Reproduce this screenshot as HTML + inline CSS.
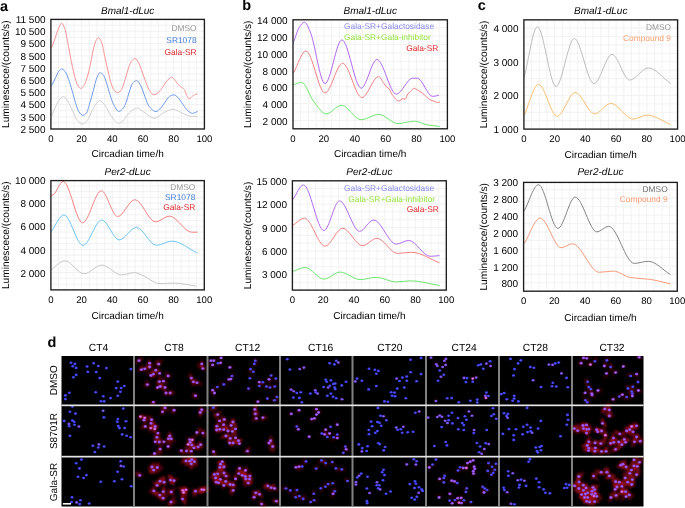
<!DOCTYPE html>
<html><head><meta charset="utf-8"><style>
html,body{margin:0;padding:0;background:#fff;}
svg{display:block;will-change:transform;}
text{font-family:"Liberation Sans",sans-serif; text-rendering:geometricPrecision;}
</style></head><body>
<svg width="685" height="508" viewBox="0 0 685 508" fill="#000">
<rect width="685" height="508" fill="#fff"/>
<path d="M58.57 19.40 V129.00 M66.25 19.40 V129.00 M73.92 19.40 V129.00 M81.60 19.40 V129.00 M89.28 19.40 V129.00 M96.95 19.40 V129.00 M104.62 19.40 V129.00 M112.30 19.40 V129.00 M119.97 19.40 V129.00 M127.65 19.40 V129.00 M135.32 19.40 V129.00 M143.00 19.40 V129.00 M150.68 19.40 V129.00 M158.35 19.40 V129.00 M166.03 19.40 V129.00 M173.70 19.40 V129.00 M181.38 19.40 V129.00 M189.05 19.40 V129.00 M196.72 19.40 V129.00 M50.90 122.90 H204.40 M50.90 116.80 H204.40 M50.90 110.70 H204.40 M50.90 104.60 H204.40 M50.90 98.50 H204.40 M50.90 92.40 H204.40 M50.90 86.30 H204.40 M50.90 80.20 H204.40 M50.90 74.10 H204.40 M50.90 68.00 H204.40 M50.90 61.90 H204.40 M50.90 55.80 H204.40 M50.90 49.70 H204.40 M50.90 43.60 H204.40 M50.90 37.50 H204.40 M50.90 31.40 H204.40 M50.90 25.30 H204.40" stroke="#f0f0f0" stroke-width="0.9" fill="none"/>
<path d="M51.6 47.8 C52.7 44.9 53.7 41.9 54.8 39.0 C56.2 35.2 57.5 30.5 58.9 27.7 C59.8 25.9 60.7 23.2 61.6 23.2 C62.6 23.2 63.5 25.5 64.5 27.7 C65.6 30.1 66.6 37.0 67.7 42.2 C68.8 47.6 69.9 54.5 71.0 59.9 C72.1 65.2 73.1 70.5 74.2 74.5 C75.3 78.5 76.3 83.2 77.4 84.9 C78.5 86.7 79.7 88.4 80.8 88.4 C81.8 88.4 82.9 87.0 83.9 85.7 C85.0 84.3 86.0 81.0 87.1 77.7 C88.2 74.4 89.2 69.6 90.3 64.8 C91.4 60.0 92.4 52.7 93.5 48.6 C94.3 45.4 95.2 42.1 96.0 40.6 C96.8 39.2 97.6 37.7 98.4 37.7 C99.5 37.7 100.5 39.9 101.6 42.2 C102.7 44.5 103.7 51.9 104.8 56.7 C105.9 61.6 107.0 66.6 108.1 71.2 C109.2 75.7 110.2 81.2 111.3 84.1 C112.4 87.0 113.4 89.6 114.5 90.6 C115.5 91.6 116.6 92.6 117.6 92.6 C118.7 92.6 119.9 91.7 121.0 90.6 C122.1 89.6 123.1 85.6 124.2 82.5 C125.3 79.2 126.5 74.2 127.6 70.9 C128.8 67.4 130.0 63.3 131.2 61.7 C132.4 60.1 133.7 58.5 134.9 58.5 C136.2 58.5 137.5 61.0 138.8 63.1 C139.9 65.0 141.1 68.9 142.2 72.0 C143.4 75.1 144.5 78.7 145.7 81.7 C147.1 85.2 148.4 89.6 149.8 91.3 C151.2 93.0 152.5 94.8 153.9 94.8 C155.3 94.8 156.7 93.7 158.1 92.7 C159.5 91.7 160.8 89.7 162.2 87.9 C163.6 86.1 164.9 83.2 166.3 81.7 C168.1 79.8 169.8 77.3 171.6 77.3 C172.6 77.3 173.6 78.6 174.6 79.6 C175.7 80.7 176.9 83.2 178.0 84.4 C178.9 85.4 179.9 86.2 180.8 86.9 C181.9 87.8 183.1 88.0 184.2 89.3 C185.0 90.2 185.9 94.0 186.7 95.5 C187.5 96.9 188.2 98.9 189.0 98.9 C190.2 98.9 191.3 96.8 192.5 96.1 C193.9 95.3 195.2 94.1 196.6 94.1 C197.0 94.1 197.3 94.3 197.7 94.4" stroke="#f79595" stroke-width="1" fill="none"/>
<path d="M51.7 85.5 C53.0 83.0 54.2 80.4 55.5 77.9 C56.7 75.6 57.8 72.1 59.0 71.0 C60.0 70.0 61.1 69.0 62.1 69.0 C63.1 69.0 64.2 70.4 65.2 71.7 C66.3 73.1 67.5 76.3 68.6 79.3 C69.7 82.3 70.9 86.5 72.0 90.3 C73.2 94.2 74.3 99.2 75.5 102.7 C76.6 106.1 77.8 110.2 78.9 111.7 C80.3 113.6 81.7 115.4 83.1 115.4 C84.2 115.4 85.4 114.3 86.5 113.0 C87.6 111.7 88.8 106.4 89.9 102.7 C91.1 98.9 92.2 94.5 93.4 90.3 C94.5 86.2 95.7 80.5 96.8 77.9 C97.8 75.5 98.9 72.7 99.9 72.7 C100.9 72.7 102.0 73.5 103.0 74.5 C104.2 75.6 105.3 79.4 106.5 82.7 C107.6 85.9 108.8 90.9 109.9 94.4 C111.1 98.0 112.2 101.9 113.4 104.1 C115.2 107.5 117.1 111.4 118.9 111.4 C120.4 111.4 121.9 109.7 123.4 108.0 C124.3 107.0 125.1 104.7 126.0 102.5 C127.0 99.9 128.1 95.5 129.1 92.5 C130.3 89.1 131.4 84.3 132.6 83.1 C134.0 81.7 135.3 80.6 136.7 80.6 C138.1 80.6 139.4 83.5 140.8 85.8 C142.2 88.2 143.6 93.3 145.0 96.8 C146.4 100.2 147.7 104.9 149.1 106.5 C151.4 109.2 153.7 111.6 156.0 111.6 C157.6 111.6 159.2 109.5 160.8 107.9 C162.6 106.1 164.5 102.6 166.3 100.3 C167.5 98.8 168.6 96.7 169.8 96.1 C171.2 95.4 172.5 94.8 173.9 94.8 C175.3 94.8 176.6 96.3 178.0 97.5 C179.6 99.0 181.3 102.2 182.9 104.4 C184.5 106.6 186.1 109.3 187.7 110.6 C189.3 111.9 190.9 113.4 192.5 113.4 C194.2 113.4 196.0 112.0 197.7 111.3" stroke="#6f9bec" stroke-width="1" fill="none"/>
<path d="M51.7 115.8 C53.0 112.8 54.2 109.4 55.5 106.8 C56.9 104.0 58.2 100.7 59.6 99.3 C60.9 98.0 62.2 96.5 63.5 96.5 C65.0 96.5 66.4 99.2 67.9 101.3 C69.5 103.6 71.1 107.8 72.7 111.0 C74.3 114.2 75.9 118.9 77.5 120.6 C79.1 122.3 80.8 124.0 82.4 124.0 C84.0 124.0 85.6 122.3 87.2 120.6 C89.0 118.7 90.9 112.5 92.7 109.6 C95.0 105.9 97.3 100.6 99.6 100.6 C101.4 100.6 103.3 103.3 105.1 105.5 C106.9 107.7 108.8 112.7 110.6 115.1 C113.2 118.6 115.8 123.3 118.4 123.3 C119.9 123.3 121.3 122.1 122.8 121.0 C124.3 119.9 125.8 116.8 127.3 115.1 C128.8 113.4 130.4 111.6 131.9 110.6 C133.6 109.4 135.4 108.0 137.1 108.0 C139.3 108.0 141.4 110.6 143.6 111.9 C147.3 114.1 150.9 118.2 154.6 118.2 C157.6 118.2 160.6 114.1 163.6 112.7 C166.8 111.2 170.0 109.2 173.2 109.2 C176.4 109.2 179.7 112.1 182.9 113.4 C185.4 114.4 188.0 116.1 190.5 116.2 C192.8 116.3 195.0 116.3 197.3 116.4" stroke="#cfcfcf" stroke-width="1" fill="none"/>
<rect x="50.90" y="19.40" width="153.50" height="109.60" fill="none" stroke="#1c1c1c" stroke-width="1.35"/>
<text x="45.50" y="23.00" text-anchor="end" font-size="10">11 500</text>
<text x="45.50" y="35.20" text-anchor="end" font-size="10">10 500</text>
<text x="45.50" y="47.40" text-anchor="end" font-size="10">9 500</text>
<text x="45.50" y="59.60" text-anchor="end" font-size="10">8 500</text>
<text x="45.50" y="71.80" text-anchor="end" font-size="10">7 500</text>
<text x="45.50" y="84.00" text-anchor="end" font-size="10">6 500</text>
<text x="45.50" y="96.20" text-anchor="end" font-size="10">5 500</text>
<text x="45.50" y="108.40" text-anchor="end" font-size="10">4 500</text>
<text x="45.50" y="120.60" text-anchor="end" font-size="10">3 500</text>
<text x="45.50" y="132.80" text-anchor="end" font-size="10">2 500</text>
<text x="50.90" y="141.70" text-anchor="middle" font-size="9.6">0</text>
<text x="81.60" y="141.70" text-anchor="middle" font-size="9.6">20</text>
<text x="112.30" y="141.70" text-anchor="middle" font-size="9.6">40</text>
<text x="143.00" y="141.70" text-anchor="middle" font-size="9.6">60</text>
<text x="173.70" y="141.70" text-anchor="middle" font-size="9.6">80</text>
<text x="204.40" y="141.70" text-anchor="middle" font-size="9.6">100</text>
<text x="127.65" y="14.00" text-anchor="middle" font-size="10" font-style="italic">Bmal1-dLuc</text>
<text x="127.65" y="157.30" text-anchor="middle" font-size="10">Circadian time/h</text>
<text transform="translate(8.90 74.20) rotate(-90)" text-anchor="middle" font-size="10.2">Luminescece/(counts/s)</text>
<text x="196.60" y="30.50" text-anchor="end" font-size="8.4" fill="#9a9a9a">DMSO</text>
<text x="196.60" y="42.70" text-anchor="end" font-size="8.4" fill="#3f7cd8">SR1078</text>
<text x="196.60" y="54.90" text-anchor="end" font-size="8.4" fill="#e0262c">Gala-SR</text>
<path d="M58.57 180.60 V289.90 M66.24 180.60 V289.90 M73.91 180.60 V289.90 M81.58 180.60 V289.90 M89.25 180.60 V289.90 M96.92 180.60 V289.90 M104.59 180.60 V289.90 M112.26 180.60 V289.90 M119.93 180.60 V289.90 M127.60 180.60 V289.90 M135.27 180.60 V289.90 M142.94 180.60 V289.90 M150.61 180.60 V289.90 M158.28 180.60 V289.90 M165.95 180.60 V289.90 M173.62 180.60 V289.90 M181.29 180.60 V289.90 M188.96 180.60 V289.90 M196.63 180.60 V289.90 M50.90 284.12 H204.30 M50.90 278.34 H204.30 M50.90 272.56 H204.30 M50.90 266.78 H204.30 M50.90 261.00 H204.30 M50.90 255.22 H204.30 M50.90 249.44 H204.30 M50.90 243.66 H204.30 M50.90 237.88 H204.30 M50.90 232.10 H204.30 M50.90 226.32 H204.30 M50.90 220.54 H204.30 M50.90 214.76 H204.30 M50.90 208.98 H204.30 M50.90 203.20 H204.30 M50.90 197.42 H204.30 M50.90 191.64 H204.30 M50.90 185.86 H204.30" stroke="#f0f0f0" stroke-width="0.9" fill="none"/>
<path d="M51.2 195.5 C51.8 195.3 52.5 195.1 53.1 194.8 C56.5 193.1 59.8 181.5 63.2 181.5 C69.7 181.5 76.1 222.8 82.6 222.8 C88.8 222.8 95.1 190.8 101.3 190.8 C106.7 190.8 112.2 216.5 117.6 216.5 C123.4 216.5 129.1 199.7 134.9 199.7 C141.8 199.7 148.6 221.9 155.5 221.9 C160.2 221.9 164.8 216.1 169.5 216.1 C176.9 216.1 184.3 232.2 191.7 232.2 C193.6 232.2 195.6 232.2 197.5 232.2" stroke="#f38282" stroke-width="1" fill="none"/>
<path d="M51.2 231.7 C55.4 226.1 59.7 214.9 63.9 214.9 C70.3 214.9 76.6 245.3 83.0 245.3 C89.2 245.3 95.5 220.0 101.7 220.0 C107.5 220.0 113.4 239.9 119.2 239.9 C124.9 239.9 130.6 227.5 136.3 227.5 C143.1 227.5 149.8 245.3 156.6 245.3 C161.7 245.3 166.7 241.1 171.8 241.1 C180.4 241.1 188.9 249.2 197.5 253.2" stroke="#6cc6f2" stroke-width="1" fill="none"/>
<path d="M51.2 269.6 C55.7 266.7 60.3 260.9 64.8 260.9 C71.3 260.9 77.7 273.8 84.2 273.8 C90.0 273.8 95.9 265.1 101.7 265.1 C108.3 265.1 115.0 274.9 121.6 274.9 C125.9 274.9 130.1 272.6 134.4 272.6 C136.7 272.6 139.1 274.0 141.4 274.9 C147.6 277.2 153.9 283.6 160.1 283.6 C164.8 283.6 169.4 283.1 174.1 283.1 C181.5 283.1 188.9 285.2 196.3 286.2" stroke="#c8c8c8" stroke-width="1" fill="none"/>
<rect x="50.90" y="180.60" width="153.40" height="109.30" fill="none" stroke="#1c1c1c" stroke-width="1.35"/>
<text x="45.50" y="184.20" text-anchor="end" font-size="10">10 000</text>
<text x="45.50" y="207.32" text-anchor="end" font-size="10">8 000</text>
<text x="45.50" y="230.45" text-anchor="end" font-size="10">6 000</text>
<text x="45.50" y="253.58" text-anchor="end" font-size="10">4 000</text>
<text x="45.50" y="276.70" text-anchor="end" font-size="10">2 000</text>
<text x="50.90" y="303.00" text-anchor="middle" font-size="9.6">0</text>
<text x="81.58" y="303.00" text-anchor="middle" font-size="9.6">20</text>
<text x="112.26" y="303.00" text-anchor="middle" font-size="9.6">40</text>
<text x="142.94" y="303.00" text-anchor="middle" font-size="9.6">60</text>
<text x="173.62" y="303.00" text-anchor="middle" font-size="9.6">80</text>
<text x="204.30" y="303.00" text-anchor="middle" font-size="9.6">100</text>
<text x="127.60" y="175.00" text-anchor="middle" font-size="10" font-style="italic">Per2-dLuc</text>
<text x="127.60" y="318.80" text-anchor="middle" font-size="10">Circadian time/h</text>
<text transform="translate(8.90 235.25) rotate(-90)" text-anchor="middle" font-size="10.2">Luminescece/(counts/s)</text>
<text x="195.30" y="189.80" text-anchor="end" font-size="8.4" fill="#9a9a9a">DMSO</text>
<text x="195.30" y="199.90" text-anchor="end" font-size="8.4" fill="#3f7cd8">SR1078</text>
<text x="195.30" y="209.90" text-anchor="end" font-size="8.4" fill="#e0262c">Gala-SR</text>
<path d="M300.72 19.80 V128.80 M308.44 19.80 V128.80 M316.16 19.80 V128.80 M323.88 19.80 V128.80 M331.60 19.80 V128.80 M339.32 19.80 V128.80 M347.04 19.80 V128.80 M354.76 19.80 V128.80 M362.48 19.80 V128.80 M370.20 19.80 V128.80 M377.92 19.80 V128.80 M385.64 19.80 V128.80 M393.36 19.80 V128.80 M401.08 19.80 V128.80 M408.80 19.80 V128.80 M416.52 19.80 V128.80 M424.24 19.80 V128.80 M431.96 19.80 V128.80 M439.68 19.80 V128.80 M293.00 120.37 H447.40 M293.00 111.94 H447.40 M293.00 103.51 H447.40 M293.00 95.08 H447.40 M293.00 86.65 H447.40 M293.00 78.22 H447.40 M293.00 69.79 H447.40 M293.00 61.36 H447.40 M293.00 52.93 H447.40 M293.00 44.50 H447.40 M293.00 36.07 H447.40 M293.00 27.64 H447.40" stroke="#f0f0f0" stroke-width="0.9" fill="none"/>
<path d="M293.5 42.5 C295.4 37.4 297.4 30.1 299.3 27.3 C301.0 24.8 302.8 22.1 304.5 22.1 C306.3 22.1 308.1 27.2 309.9 31.0 C314.9 41.7 320.0 83.6 325.0 83.6 C330.6 83.6 336.3 39.9 341.9 39.9 C348.3 39.9 354.8 88.2 361.2 88.2 C366.4 88.2 371.7 59.5 376.9 59.5 C383.4 59.5 389.8 94.1 396.3 94.1 C401.7 94.1 407.2 78.2 412.6 78.2 C414.2 78.2 415.7 78.2 417.3 78.2 C422.4 78.2 427.4 96.4 432.5 96.4 C434.7 96.4 436.8 95.7 439.0 95.3" stroke="#b26af2" stroke-width="1" fill="none"/>
<path d="M293.5 73.1 C297.6 65.7 301.8 50.9 305.9 50.9 C312.3 50.9 318.6 92.9 325.0 92.9 C330.9 92.9 336.7 63.3 342.6 63.3 C349.0 63.3 355.5 97.6 361.9 97.6 C367.5 97.6 373.0 76.5 378.6 76.5 C380.3 76.5 382.1 81.1 383.8 83.4 C384.7 84.6 385.6 86.1 386.5 86.9 C387.4 87.8 388.4 87.9 389.3 88.9 C390.2 89.9 391.1 93.2 392.0 94.4 C394.3 97.6 396.6 101.0 398.9 101.0 C400.3 101.0 401.6 98.6 403.0 98.6 C403.7 98.6 404.4 99.3 405.1 99.3 C406.0 99.3 407.0 94.7 407.9 93.7 C408.8 92.7 409.7 92.5 410.6 91.7 C411.8 90.7 412.9 88.2 414.1 88.2 C415.2 88.2 416.4 89.3 417.5 90.0 C419.1 90.9 420.7 91.9 422.3 93.1 C425.1 95.1 427.8 98.8 430.6 100.0 C432.0 100.6 433.3 100.8 434.7 101.3 C435.6 101.6 436.6 102.4 437.5 102.4 C438.3 102.4 439.2 102.1 440.0 102.0" stroke="#f38282" stroke-width="1" fill="none"/>
<path d="M293.5 84.7 C296.2 83.9 299.0 82.4 301.7 82.4 C305.6 82.4 309.5 96.3 313.4 101.1 C317.7 106.4 321.9 113.9 326.2 113.9 C331.3 113.9 336.3 105.3 341.4 105.3 C348.0 105.3 354.6 119.8 361.2 119.8 C367.0 119.8 372.7 114.4 378.5 114.4 C385.0 114.4 391.5 123.5 398.0 123.5 C403.5 123.5 409.0 121.2 414.5 121.2 C418.7 121.2 422.8 124.1 427.0 124.8 C431.2 125.5 435.3 125.9 439.5 126.4" stroke="#6ee66e" stroke-width="1" fill="none"/>
<rect x="293.00" y="19.80" width="154.40" height="109.00" fill="none" stroke="#1c1c1c" stroke-width="1.35"/>
<text x="287.60" y="24.00" text-anchor="end" font-size="10">14 000</text>
<text x="287.60" y="40.87" text-anchor="end" font-size="10">12 000</text>
<text x="287.60" y="57.73" text-anchor="end" font-size="10">10 000</text>
<text x="287.60" y="74.60" text-anchor="end" font-size="10">8 000</text>
<text x="287.60" y="91.47" text-anchor="end" font-size="10">6 000</text>
<text x="287.60" y="108.33" text-anchor="end" font-size="10">4 000</text>
<text x="287.60" y="125.20" text-anchor="end" font-size="10">2 000</text>
<text x="293.00" y="141.70" text-anchor="middle" font-size="9.6">0</text>
<text x="323.88" y="141.70" text-anchor="middle" font-size="9.6">20</text>
<text x="354.76" y="141.70" text-anchor="middle" font-size="9.6">40</text>
<text x="385.64" y="141.70" text-anchor="middle" font-size="9.6">60</text>
<text x="416.52" y="141.70" text-anchor="middle" font-size="9.6">80</text>
<text x="447.40" y="141.70" text-anchor="middle" font-size="9.6">100</text>
<text x="370.20" y="14.00" text-anchor="middle" font-size="10" font-style="italic">Bmal1-dLuc</text>
<text x="370.20" y="157.30" text-anchor="middle" font-size="10">Circadian time/h</text>
<text transform="translate(250.90 74.30) rotate(-90)" text-anchor="middle" font-size="10.2">Luminescece/(counts/s)</text>
<text x="344.00" y="28.90" text-anchor="start" font-size="8.4" fill="#8a8af0">Gala-SR+Galactosidase</text>
<text x="344.00" y="39.70" text-anchor="start" font-size="8.4" fill="#96e23c">Gala-SR+Gala-inhibitor</text>
<text x="438.30" y="50.90" text-anchor="end" font-size="8.4" fill="#e0262c">Gala-SR</text>
<path d="M300.09 180.80 V290.10 M307.79 180.80 V290.10 M315.48 180.80 V290.10 M323.18 180.80 V290.10 M330.88 180.80 V290.10 M338.57 180.80 V290.10 M346.26 180.80 V290.10 M353.96 180.80 V290.10 M361.65 180.80 V290.10 M369.35 180.80 V290.10 M377.04 180.80 V290.10 M384.74 180.80 V290.10 M392.44 180.80 V290.10 M400.13 180.80 V290.10 M407.82 180.80 V290.10 M415.52 180.80 V290.10 M423.22 180.80 V290.10 M430.91 180.80 V290.10 M438.61 180.80 V290.10 M292.40 282.28 H446.30 M292.40 274.46 H446.30 M292.40 266.64 H446.30 M292.40 258.82 H446.30 M292.40 251.00 H446.30 M292.40 243.18 H446.30 M292.40 235.36 H446.30 M292.40 227.54 H446.30 M292.40 219.72 H446.30 M292.40 211.90 H446.30 M292.40 204.08 H446.30 M292.40 196.26 H446.30 M292.40 188.44 H446.30" stroke="#f0f0f0" stroke-width="0.9" fill="none"/>
<path d="M292.8 199.5 C296.4 194.7 299.9 185.0 303.5 185.0 C310.3 185.0 317.1 230.6 323.9 230.6 C329.1 230.6 334.3 200.9 339.5 200.9 C346.2 200.9 352.9 231.3 359.6 231.3 C364.3 231.3 368.9 220.0 373.6 220.0 C381.2 220.0 388.7 244.1 396.3 244.1 C400.4 244.1 404.6 240.4 408.7 240.4 C415.9 240.4 423.0 256.3 430.2 256.3 C433.3 256.3 436.4 255.8 439.5 255.6" stroke="#b26af2" stroke-width="1" fill="none"/>
<path d="M292.8 225.4 C296.7 223.0 300.6 218.2 304.5 218.2 C311.3 218.2 318.2 246.2 325.0 246.2 C330.9 246.2 336.7 228.2 342.6 228.2 C349.2 228.2 355.8 245.7 362.4 245.7 C367.2 245.7 372.1 238.3 376.9 238.3 C383.8 238.3 390.6 253.4 397.5 253.4 C402.2 253.4 406.8 252.3 411.5 252.3 C420.8 252.3 430.2 259.3 439.5 262.8" stroke="#f38282" stroke-width="1" fill="none"/>
<path d="M292.8 271.4 C296.9 270.1 301.1 267.5 305.2 267.5 C311.4 267.5 317.7 279.1 323.9 279.1 C329.3 279.1 334.8 272.1 340.2 272.1 C346.8 272.1 353.5 279.6 360.1 279.6 C365.5 279.6 371.0 277.3 376.4 277.3 C383.0 277.3 389.7 282.0 396.3 282.0 C401.0 282.0 405.6 280.8 410.3 280.8 C420.0 280.8 429.8 283.9 439.5 285.5" stroke="#6ee66e" stroke-width="1" fill="none"/>
<rect x="292.40" y="180.80" width="153.90" height="109.30" fill="none" stroke="#1c1c1c" stroke-width="1.35"/>
<text x="287.00" y="184.80" text-anchor="end" font-size="10">15 000</text>
<text x="287.00" y="208.20" text-anchor="end" font-size="10">12 000</text>
<text x="287.00" y="231.60" text-anchor="end" font-size="10">9 000</text>
<text x="287.00" y="255.00" text-anchor="end" font-size="10">6 000</text>
<text x="287.00" y="278.40" text-anchor="end" font-size="10">3 000</text>
<text x="292.40" y="302.60" text-anchor="middle" font-size="9.6">0</text>
<text x="323.18" y="302.60" text-anchor="middle" font-size="9.6">20</text>
<text x="353.96" y="302.60" text-anchor="middle" font-size="9.6">40</text>
<text x="384.74" y="302.60" text-anchor="middle" font-size="9.6">60</text>
<text x="415.52" y="302.60" text-anchor="middle" font-size="9.6">80</text>
<text x="446.30" y="302.60" text-anchor="middle" font-size="9.6">100</text>
<text x="369.35" y="175.00" text-anchor="middle" font-size="10" font-style="italic">Per2-dLuc</text>
<text x="369.35" y="318.70" text-anchor="middle" font-size="10">Circadian time/h</text>
<text transform="translate(250.90 235.45) rotate(-90)" text-anchor="middle" font-size="10.2">Luminescece/(counts/s)</text>
<text x="344.00" y="190.90" text-anchor="start" font-size="8.4" fill="#8a8af0">Gala-SR+Galactosidase</text>
<text x="435.10" y="201.70" text-anchor="end" font-size="8.4" fill="#96e23c">Gala-SR+Gala-inhibitor</text>
<text x="438.80" y="212.10" text-anchor="end" font-size="8.4" fill="#e0262c">Gala-SR</text>
<path d="M531.59 19.85 V129.10 M539.27 19.85 V129.10 M546.95 19.85 V129.10 M554.64 19.85 V129.10 M562.33 19.85 V129.10 M570.01 19.85 V129.10 M577.69 19.85 V129.10 M585.38 19.85 V129.10 M593.07 19.85 V129.10 M600.75 19.85 V129.10 M608.43 19.85 V129.10 M616.12 19.85 V129.10 M623.81 19.85 V129.10 M631.49 19.85 V129.10 M639.18 19.85 V129.10 M646.86 19.85 V129.10 M654.55 19.85 V129.10 M662.23 19.85 V129.10 M669.91 19.85 V129.10 M523.90 120.68 H677.60 M523.90 112.26 H677.60 M523.90 103.84 H677.60 M523.90 95.42 H677.60 M523.90 87.00 H677.60 M523.90 78.58 H677.60 M523.90 70.16 H677.60 M523.90 61.74 H677.60 M523.90 53.32 H677.60 M523.90 44.90 H677.60 M523.90 36.48 H677.60 M523.90 28.06 H677.60" stroke="#f0f0f0" stroke-width="0.9" fill="none"/>
<path d="M524.3 76.6 C528.7 60.0 533.0 26.8 537.4 26.8 C543.6 26.8 549.8 86.4 556.0 86.4 C562.1 86.4 568.2 38.5 574.3 38.5 C580.8 38.5 587.4 83.6 593.9 83.6 C600.0 83.6 606.0 54.4 612.1 54.4 C617.9 54.4 623.8 80.1 629.6 80.1 C635.8 80.1 642.1 67.9 648.3 67.9 C655.7 67.9 663.1 78.4 670.5 83.6" stroke="#bdbdbd" stroke-width="1" fill="none"/>
<path d="M524.3 115.1 C529.0 104.8 533.8 84.3 538.5 84.3 C544.7 84.3 551.0 116.3 557.2 116.3 C563.2 116.3 569.2 92.4 575.2 92.4 C581.7 92.4 588.1 113.9 594.6 113.9 C600.0 113.9 605.5 103.4 610.9 103.4 C618.3 103.4 625.7 119.1 633.1 119.1 C637.8 119.1 642.4 115.1 647.1 115.1 C654.9 115.1 662.7 121.4 670.5 124.5" stroke="#f8c070" stroke-width="1" fill="none"/>
<rect x="523.90" y="19.85" width="153.70" height="109.25" fill="none" stroke="#1c1c1c" stroke-width="1.35"/>
<text x="518.50" y="31.90" text-anchor="end" font-size="10">4 000</text>
<text x="518.50" y="65.57" text-anchor="end" font-size="10">3 000</text>
<text x="518.50" y="99.23" text-anchor="end" font-size="10">2 000</text>
<text x="518.50" y="132.90" text-anchor="end" font-size="10">1 000</text>
<text x="523.90" y="142.00" text-anchor="middle" font-size="9.6">0</text>
<text x="554.64" y="142.00" text-anchor="middle" font-size="9.6">20</text>
<text x="585.38" y="142.00" text-anchor="middle" font-size="9.6">40</text>
<text x="616.12" y="142.00" text-anchor="middle" font-size="9.6">60</text>
<text x="646.86" y="142.00" text-anchor="middle" font-size="9.6">80</text>
<text x="677.60" y="142.00" text-anchor="middle" font-size="9.6">100</text>
<text x="600.75" y="14.00" text-anchor="middle" font-size="10" font-style="italic">Bmal1-dLuc</text>
<text x="600.75" y="158.40" text-anchor="middle" font-size="10">Circadian time/h</text>
<text transform="translate(486.50 74.47) rotate(-90)" text-anchor="middle" font-size="10.2">Luminescece/(counts/s)</text>
<text x="671.00" y="30.30" text-anchor="end" font-size="8.4" fill="#9a9a9a">DMSO</text>
<text x="671.00" y="40.50" text-anchor="end" font-size="8.4" fill="#f7a070">Compound 9</text>
<path d="M531.28 182.40 V291.20 M538.97 182.40 V291.20 M546.65 182.40 V291.20 M554.34 182.40 V291.20 M562.02 182.40 V291.20 M569.71 182.40 V291.20 M577.39 182.40 V291.20 M585.08 182.40 V291.20 M592.76 182.40 V291.20 M600.45 182.40 V291.20 M608.13 182.40 V291.20 M615.82 182.40 V291.20 M623.50 182.40 V291.20 M631.19 182.40 V291.20 M638.88 182.40 V291.20 M646.56 182.40 V291.20 M654.24 182.40 V291.20 M661.93 182.40 V291.20 M669.62 182.40 V291.20 M523.60 282.75 H677.30 M523.60 274.30 H677.30 M523.60 265.85 H677.30 M523.60 257.40 H677.30 M523.60 248.95 H677.30 M523.60 240.50 H677.30 M523.60 232.05 H677.30 M523.60 223.60 H677.30 M523.60 215.15 H677.30 M523.60 206.70 H677.30 M523.60 198.25 H677.30 M523.60 189.80 H677.30" stroke="#f0f0f0" stroke-width="0.9" fill="none"/>
<path d="M524.3 210.8 C529.0 202.1 533.8 184.7 538.5 184.7 C545.0 184.7 551.4 228.4 557.9 228.4 C563.7 228.4 569.4 197.1 575.2 197.1 C582.4 197.1 589.7 231.9 596.9 231.9 C600.8 231.9 604.7 226.3 608.6 226.3 C617.2 226.3 625.7 263.4 634.3 263.4 C639.0 263.4 643.6 261.3 648.3 261.3 C655.7 261.3 663.1 270.2 670.5 274.6" stroke="#858585" stroke-width="1" fill="none"/>
<path d="M524.3 243.5 C529.6 235.0 534.9 218.1 540.2 218.1 C547.2 218.1 554.2 247.7 561.2 247.7 C564.9 247.7 568.7 243.8 572.4 243.8 C581.4 243.8 590.3 272.3 599.3 272.3 C604.0 272.3 608.6 271.1 613.3 271.1 C619.1 271.1 625.0 276.7 630.8 277.6 C637.0 278.5 643.3 278.5 649.5 279.3 C656.5 280.2 663.5 282.4 670.5 283.9" stroke="#f99a78" stroke-width="1" fill="none"/>
<rect x="523.60" y="182.40" width="153.70" height="108.80" fill="none" stroke="#1c1c1c" stroke-width="1.35"/>
<text x="518.20" y="186.00" text-anchor="end" font-size="10">3 200</text>
<text x="518.20" y="202.90" text-anchor="end" font-size="10">2 800</text>
<text x="518.20" y="219.80" text-anchor="end" font-size="10">2 400</text>
<text x="518.20" y="236.70" text-anchor="end" font-size="10">2 000</text>
<text x="518.20" y="253.60" text-anchor="end" font-size="10">1 600</text>
<text x="518.20" y="270.50" text-anchor="end" font-size="10">1 200</text>
<text x="518.20" y="287.40" text-anchor="end" font-size="10">800</text>
<text x="523.60" y="304.00" text-anchor="middle" font-size="9.6">0</text>
<text x="554.34" y="304.00" text-anchor="middle" font-size="9.6">20</text>
<text x="585.08" y="304.00" text-anchor="middle" font-size="9.6">40</text>
<text x="615.82" y="304.00" text-anchor="middle" font-size="9.6">60</text>
<text x="646.56" y="304.00" text-anchor="middle" font-size="9.6">80</text>
<text x="677.30" y="304.00" text-anchor="middle" font-size="9.6">100</text>
<text x="600.45" y="175.00" text-anchor="middle" font-size="10" font-style="italic">Per2-dLuc</text>
<text x="600.45" y="320.60" text-anchor="middle" font-size="10">Circadian time/h</text>
<text transform="translate(486.50 236.80) rotate(-90)" text-anchor="middle" font-size="10.2">Luminescece/(counts/s)</text>
<text x="667.70" y="192.00" text-anchor="end" font-size="8.4" fill="#707070">DMSO</text>
<text x="667.70" y="202.10" text-anchor="end" font-size="8.4" fill="#fa9a70">Compound 9</text>
<defs><filter id="bl" x="-50%" y="-50%" width="200%" height="200%"><feGaussianBlur stdDeviation="0.55"/></filter><filter id="hz" x="-50%" y="-50%" width="200%" height="200%"><feGaussianBlur stdDeviation="1.0"/></filter><clipPath id="gc"><rect x="61.5" y="356" width="582" height="150.5"/></clipPath></defs>
<rect x="61.5" y="356" width="582" height="150.5" fill="#000"/>
<g clip-path="url(#gc)"><g filter="url(#hz)"><ellipse cx="138.2" cy="360.9" rx="3.7" ry="1.8" fill="#b81020" fill-opacity="0.30" transform="rotate(160 139.0 360.7)"/><ellipse cx="139.2" cy="361.0" rx="5.0" ry="1.7" fill="#b81020" fill-opacity="0.30" transform="rotate(141 139.0 360.7)"/><ellipse cx="140.7" cy="371.2" rx="3.9" ry="2.0" fill="#b81020" fill-opacity="0.30" transform="rotate(121 141.5 369.7)"/><ellipse cx="141.2" cy="370.8" rx="3.4" ry="1.4" fill="#b81020" fill-opacity="0.30" transform="rotate(133 141.5 369.7)"/><ellipse cx="144.3" cy="367.4" rx="4.7" ry="1.4" fill="#b81020" fill-opacity="0.30" transform="rotate(151 144.7 368.8)"/><ellipse cx="143.3" cy="369.7" rx="4.8" ry="1.5" fill="#b81020" fill-opacity="0.30" transform="rotate(152 144.7 368.8)"/><ellipse cx="150.4" cy="364.3" rx="4.5" ry="2.1" fill="#b81020" fill-opacity="0.30" transform="rotate(101 149.7 363.2)"/><ellipse cx="150.4" cy="363.4" rx="5.1" ry="1.3" fill="#b81020" fill-opacity="0.30" transform="rotate(93 149.7 363.2)"/><ellipse cx="148.5" cy="365.9" rx="3.3" ry="2.2" fill="#b81020" fill-opacity="0.30" transform="rotate(111 149.7 367.0)"/><ellipse cx="150.6" cy="368.1" rx="3.8" ry="2.0" fill="#b81020" fill-opacity="0.30" transform="rotate(146 149.7 367.0)"/><ellipse cx="155.4" cy="370.5" rx="4.2" ry="2.1" fill="#b81020" fill-opacity="0.30" transform="rotate(174 155.8 370.2)"/><ellipse cx="157.1" cy="368.8" rx="3.5" ry="1.8" fill="#b81020" fill-opacity="0.30" transform="rotate(178 155.8 370.2)"/><ellipse cx="157.6" cy="365.3" rx="5.1" ry="2.1" fill="#b81020" fill-opacity="0.30" transform="rotate(145 158.7 364.2)"/><ellipse cx="157.5" cy="364.7" rx="4.3" ry="2.2" fill="#b81020" fill-opacity="0.30" transform="rotate(68 158.7 364.2)"/><ellipse cx="150.1" cy="374.1" rx="4.8" ry="2.2" fill="#b81020" fill-opacity="0.30" transform="rotate(22 150.8 375.5)"/><ellipse cx="150.3" cy="374.2" rx="5.0" ry="1.2" fill="#b81020" fill-opacity="0.30" transform="rotate(109 150.8 375.5)"/><ellipse cx="154.2" cy="375.2" rx="2.9" ry="1.8" fill="#b81020" fill-opacity="0.30" transform="rotate(11 153.4 374.1)"/><ellipse cx="153.0" cy="374.3" rx="4.1" ry="2.1" fill="#b81020" fill-opacity="0.30" transform="rotate(71 153.4 374.1)"/><ellipse cx="159.7" cy="374.8" rx="3.5" ry="1.3" fill="#b81020" fill-opacity="0.30" transform="rotate(153 159.7 373.4)"/><ellipse cx="159.8" cy="374.7" rx="5.1" ry="1.5" fill="#b81020" fill-opacity="0.30" transform="rotate(67 159.7 373.4)"/><ellipse cx="167.1" cy="374.6" rx="4.9" ry="1.5" fill="#b81020" fill-opacity="0.30" transform="rotate(35 168.1 376.0)"/><ellipse cx="169.3" cy="375.6" rx="3.9" ry="1.7" fill="#b81020" fill-opacity="0.30" transform="rotate(164 168.1 376.0)"/><ellipse cx="160.5" cy="382.1" rx="3.0" ry="2.2" fill="#b81020" fill-opacity="0.30" transform="rotate(129 159.4 381.6)"/><ellipse cx="158.7" cy="382.0" rx="4.5" ry="2.1" fill="#b81020" fill-opacity="0.30" transform="rotate(111 159.4 381.6)"/><ellipse cx="164.8" cy="381.3" rx="4.1" ry="1.2" fill="#b81020" fill-opacity="0.30" transform="rotate(106 163.4 381.2)"/><ellipse cx="164.9" cy="380.7" rx="3.7" ry="1.8" fill="#b81020" fill-opacity="0.30" transform="rotate(34 163.4 381.2)"/><ellipse cx="146.1" cy="385.0" rx="3.9" ry="1.9" fill="#b81020" fill-opacity="0.30" transform="rotate(90 147.4 384.6)"/><ellipse cx="147.7" cy="383.9" rx="4.0" ry="1.8" fill="#b81020" fill-opacity="0.30" transform="rotate(173 147.4 384.6)"/><ellipse cx="156.2" cy="387.2" rx="4.3" ry="1.5" fill="#b81020" fill-opacity="0.30" transform="rotate(153 157.6 387.5)"/><ellipse cx="157.1" cy="387.1" rx="3.6" ry="1.6" fill="#b81020" fill-opacity="0.30" transform="rotate(152 157.6 387.5)"/><ellipse cx="159.5" cy="387.4" rx="3.1" ry="2.0" fill="#b81020" fill-opacity="0.30" transform="rotate(145 160.2 386.5)"/><ellipse cx="160.8" cy="385.4" rx="4.0" ry="1.9" fill="#b81020" fill-opacity="0.30" transform="rotate(68 160.2 386.5)"/><ellipse cx="164.2" cy="386.6" rx="3.8" ry="1.9" fill="#b81020" fill-opacity="0.30" transform="rotate(26 165.0 387.5)"/><ellipse cx="165.3" cy="388.9" rx="4.4" ry="1.4" fill="#b81020" fill-opacity="0.30" transform="rotate(43 165.0 387.5)"/><ellipse cx="164.8" cy="393.7" rx="3.3" ry="1.8" fill="#b81020" fill-opacity="0.30" transform="rotate(69 166.0 393.0)"/><ellipse cx="165.2" cy="391.9" rx="4.1" ry="1.4" fill="#b81020" fill-opacity="0.30" transform="rotate(147 166.0 393.0)"/><ellipse cx="169.3" cy="392.3" rx="4.7" ry="1.8" fill="#b81020" fill-opacity="0.30" transform="rotate(158 170.2 393.0)"/><ellipse cx="169.8" cy="391.9" rx="3.5" ry="2.0" fill="#b81020" fill-opacity="0.30" transform="rotate(69 170.2 393.0)"/><ellipse cx="153.3" cy="402.5" rx="3.5" ry="1.8" fill="#b81020" fill-opacity="0.30" transform="rotate(9 153.4 402.1)"/><ellipse cx="154.7" cy="401.0" rx="2.8" ry="2.1" fill="#b81020" fill-opacity="0.30" transform="rotate(159 153.4 402.1)"/><ellipse cx="192.7" cy="377.9" rx="5.1" ry="2.1" fill="#b81020" fill-opacity="0.30" transform="rotate(56 191.3 378.1)"/><ellipse cx="189.9" cy="378.0" rx="4.6" ry="1.9" fill="#b81020" fill-opacity="0.30" transform="rotate(73 191.3 378.1)"/><ellipse cx="193.5" cy="382.9" rx="4.9" ry="2.1" fill="#b81020" fill-opacity="0.30" transform="rotate(73 193.4 381.8)"/><ellipse cx="192.2" cy="381.0" rx="2.9" ry="2.0" fill="#b81020" fill-opacity="0.30" transform="rotate(131 193.4 381.8)"/><ellipse cx="198.3" cy="384.0" rx="5.0" ry="1.8" fill="#b81020" fill-opacity="0.30" transform="rotate(3 197.0 382.8)"/><ellipse cx="197.0" cy="381.7" rx="4.0" ry="1.4" fill="#b81020" fill-opacity="0.30" transform="rotate(5 197.0 382.8)"/><ellipse cx="201.8" cy="363.6" rx="5.1" ry="1.8" fill="#b81020" fill-opacity="0.30" transform="rotate(87 201.8 363.9)"/><ellipse cx="200.6" cy="365.3" rx="4.1" ry="2.0" fill="#b81020" fill-opacity="0.30" transform="rotate(15 201.8 363.9)"/><ellipse cx="202.4" cy="367.7" rx="4.1" ry="2.0" fill="#b81020" fill-opacity="0.30" transform="rotate(43 202.8 368.6)"/><ellipse cx="202.0" cy="367.9" rx="4.9" ry="1.3" fill="#b81020" fill-opacity="0.30" transform="rotate(1 202.8 368.6)"/><ellipse cx="195.4" cy="396.0" rx="3.8" ry="2.0" fill="#b81020" fill-opacity="0.30" transform="rotate(63 195.5 395.7)"/><ellipse cx="194.8" cy="395.8" rx="3.8" ry="1.7" fill="#b81020" fill-opacity="0.30" transform="rotate(0 195.5 395.7)"/><ellipse cx="212.0" cy="361.6" rx="2.2" ry="0.9" fill="#b81020" fill-opacity="0.20" transform="rotate(123 210.9 360.7)"/><ellipse cx="212.4" cy="361.8" rx="2.3" ry="1.3" fill="#b81020" fill-opacity="0.20" transform="rotate(80 210.9 360.7)"/><ellipse cx="212.8" cy="359.4" rx="2.8" ry="1.2" fill="#b81020" fill-opacity="0.20" transform="rotate(77 213.8 360.7)"/><ellipse cx="213.4" cy="359.8" rx="2.7" ry="1.0" fill="#b81020" fill-opacity="0.20" transform="rotate(142 213.8 360.7)"/><ellipse cx="211.2" cy="365.6" rx="3.5" ry="1.3" fill="#b81020" fill-opacity="0.20" transform="rotate(10 212.7 364.9)"/><ellipse cx="212.4" cy="365.3" rx="3.5" ry="1.2" fill="#b81020" fill-opacity="0.20" transform="rotate(11 212.7 364.9)"/><ellipse cx="221.5" cy="357.7" rx="2.8" ry="1.3" fill="#b81020" fill-opacity="0.20" transform="rotate(179 221.1 357.9)"/><ellipse cx="220.6" cy="359.2" rx="2.9" ry="0.9" fill="#b81020" fill-opacity="0.20" transform="rotate(55 221.1 357.9)"/><ellipse cx="218.1" cy="363.7" rx="2.2" ry="1.2" fill="#b81020" fill-opacity="0.20" transform="rotate(109 218.0 363.2)"/><ellipse cx="216.9" cy="361.7" rx="2.7" ry="1.6" fill="#b81020" fill-opacity="0.20" transform="rotate(143 218.0 363.2)"/><ellipse cx="221.5" cy="362.1" rx="2.9" ry="1.0" fill="#b81020" fill-opacity="0.20" transform="rotate(169 220.6 362.8)"/><ellipse cx="221.7" cy="362.9" rx="2.8" ry="1.0" fill="#b81020" fill-opacity="0.20" transform="rotate(81 220.6 362.8)"/><ellipse cx="230.1" cy="366.2" rx="3.2" ry="0.9" fill="#b81020" fill-opacity="0.20" transform="rotate(36 229.9 367.4)"/><ellipse cx="229.1" cy="367.0" rx="3.0" ry="1.3" fill="#b81020" fill-opacity="0.20" transform="rotate(168 229.9 367.4)"/><ellipse cx="233.1" cy="375.0" rx="2.1" ry="1.5" fill="#b81020" fill-opacity="0.20" transform="rotate(31 232.0 376.0)"/><ellipse cx="230.6" cy="374.8" rx="3.0" ry="1.4" fill="#b81020" fill-opacity="0.20" transform="rotate(72 232.0 376.0)"/><ellipse cx="229.3" cy="380.2" rx="2.2" ry="1.5" fill="#b81020" fill-opacity="0.20" transform="rotate(130 229.0 379.3)"/><ellipse cx="229.1" cy="378.6" rx="3.1" ry="1.0" fill="#b81020" fill-opacity="0.20" transform="rotate(141 229.0 379.3)"/><ellipse cx="229.6" cy="378.6" rx="3.1" ry="1.5" fill="#b81020" fill-opacity="0.20" transform="rotate(61 230.9 379.1)"/><ellipse cx="232.4" cy="379.6" rx="2.9" ry="1.4" fill="#b81020" fill-opacity="0.20" transform="rotate(100 230.9 379.1)"/><ellipse cx="223.0" cy="384.7" rx="3.8" ry="1.3" fill="#b81020" fill-opacity="0.20" transform="rotate(21 223.8 384.4)"/><ellipse cx="223.4" cy="383.6" rx="3.8" ry="1.5" fill="#b81020" fill-opacity="0.20" transform="rotate(41 223.8 384.4)"/><ellipse cx="217.0" cy="387.2" rx="3.1" ry="1.6" fill="#b81020" fill-opacity="0.20" transform="rotate(175 217.3 387.0)"/><ellipse cx="217.2" cy="387.4" rx="3.7" ry="1.0" fill="#b81020" fill-opacity="0.20" transform="rotate(24 217.3 387.0)"/><ellipse cx="212.7" cy="390.1" rx="3.4" ry="1.6" fill="#b81020" fill-opacity="0.20" transform="rotate(150 212.7 390.2)"/><ellipse cx="213.4" cy="389.2" rx="2.6" ry="1.0" fill="#b81020" fill-opacity="0.20" transform="rotate(149 212.7 390.2)"/><ellipse cx="214.6" cy="394.3" rx="3.6" ry="1.3" fill="#b81020" fill-opacity="0.20" transform="rotate(75 214.5 393.0)"/><ellipse cx="215.0" cy="394.1" rx="3.2" ry="1.3" fill="#b81020" fill-opacity="0.20" transform="rotate(68 214.5 393.0)"/><ellipse cx="256.5" cy="360.2" rx="2.6" ry="1.5" fill="#b81020" fill-opacity="0.20" transform="rotate(51 255.3 360.7)"/><ellipse cx="254.3" cy="360.3" rx="2.7" ry="1.5" fill="#b81020" fill-opacity="0.20" transform="rotate(36 255.3 360.7)"/><ellipse cx="254.0" cy="364.5" rx="3.4" ry="1.1" fill="#b81020" fill-opacity="0.20" transform="rotate(148 254.3 363.9)"/><ellipse cx="255.3" cy="364.9" rx="3.1" ry="1.3" fill="#b81020" fill-opacity="0.20" transform="rotate(18 254.3 363.9)"/><ellipse cx="251.7" cy="368.8" rx="3.4" ry="1.6" fill="#b81020" fill-opacity="0.20" transform="rotate(119 250.6 369.1)"/><ellipse cx="251.8" cy="370.3" rx="3.3" ry="1.5" fill="#b81020" fill-opacity="0.20" transform="rotate(17 250.6 369.1)"/><ellipse cx="254.8" cy="372.8" rx="2.5" ry="1.0" fill="#b81020" fill-opacity="0.20" transform="rotate(66 253.4 371.8)"/><ellipse cx="252.3" cy="372.1" rx="3.3" ry="0.9" fill="#b81020" fill-opacity="0.20" transform="rotate(65 253.4 371.8)"/><ellipse cx="248.9" cy="376.9" rx="2.4" ry="1.0" fill="#b81020" fill-opacity="0.20" transform="rotate(21 249.9 378.3)"/><ellipse cx="248.7" cy="377.6" rx="3.7" ry="0.9" fill="#b81020" fill-opacity="0.20" transform="rotate(115 249.9 378.3)"/><ellipse cx="248.7" cy="389.1" rx="2.1" ry="1.2" fill="#b81020" fill-opacity="0.20" transform="rotate(111 248.5 388.6)"/><ellipse cx="248.1" cy="387.3" rx="3.3" ry="1.5" fill="#b81020" fill-opacity="0.20" transform="rotate(125 248.5 388.6)"/><ellipse cx="270.8" cy="375.6" rx="2.3" ry="1.1" fill="#b81020" fill-opacity="0.20" transform="rotate(170 271.1 375.5)"/><ellipse cx="270.9" cy="375.3" rx="3.0" ry="1.1" fill="#b81020" fill-opacity="0.20" transform="rotate(135 271.1 375.5)"/><ellipse cx="270.3" cy="379.0" rx="3.5" ry="1.5" fill="#b81020" fill-opacity="0.20" transform="rotate(75 269.0 379.3)"/><ellipse cx="269.5" cy="379.9" rx="3.8" ry="1.5" fill="#b81020" fill-opacity="0.20" transform="rotate(27 269.0 379.3)"/><ellipse cx="276.6" cy="380.0" rx="3.3" ry="1.3" fill="#b81020" fill-opacity="0.20" transform="rotate(29 275.8 378.6)"/><ellipse cx="276.3" cy="378.6" rx="2.2" ry="1.1" fill="#b81020" fill-opacity="0.20" transform="rotate(144 275.8 378.6)"/><ellipse cx="260.0" cy="382.5" rx="3.4" ry="1.0" fill="#b81020" fill-opacity="0.20" transform="rotate(94 259.3 382.1)"/><ellipse cx="260.5" cy="382.5" rx="2.3" ry="1.6" fill="#b81020" fill-opacity="0.20" transform="rotate(36 259.3 382.1)"/><ellipse cx="264.2" cy="382.7" rx="3.3" ry="1.2" fill="#b81020" fill-opacity="0.20" transform="rotate(76 262.9 382.3)"/><ellipse cx="263.3" cy="382.2" rx="2.7" ry="1.0" fill="#b81020" fill-opacity="0.20" transform="rotate(17 262.9 382.3)"/><ellipse cx="258.1" cy="385.0" rx="3.1" ry="1.3" fill="#b81020" fill-opacity="0.20" transform="rotate(100 259.3 386.0)"/><ellipse cx="258.9" cy="385.3" rx="2.8" ry="1.6" fill="#b81020" fill-opacity="0.20" transform="rotate(10 259.3 386.0)"/><ellipse cx="266.3" cy="385.8" rx="3.4" ry="1.3" fill="#b81020" fill-opacity="0.20" transform="rotate(85 266.4 386.5)"/><ellipse cx="267.7" cy="386.3" rx="3.6" ry="1.0" fill="#b81020" fill-opacity="0.20" transform="rotate(127 266.4 386.5)"/><ellipse cx="271.1" cy="386.4" rx="2.6" ry="1.0" fill="#b81020" fill-opacity="0.20" transform="rotate(28 270.0 387.5)"/><ellipse cx="270.2" cy="388.8" rx="2.3" ry="1.4" fill="#b81020" fill-opacity="0.20" transform="rotate(145 270.0 387.5)"/><ellipse cx="274.5" cy="387.2" rx="3.6" ry="1.5" fill="#b81020" fill-opacity="0.20" transform="rotate(151 274.8 386.5)"/><ellipse cx="275.1" cy="387.6" rx="3.5" ry="1.3" fill="#b81020" fill-opacity="0.20" transform="rotate(43 274.8 386.5)"/><ellipse cx="267.6" cy="397.7" rx="2.6" ry="1.5" fill="#b81020" fill-opacity="0.20" transform="rotate(7 267.4 398.6)"/><ellipse cx="268.4" cy="398.4" rx="2.8" ry="1.5" fill="#b81020" fill-opacity="0.20" transform="rotate(80 267.4 398.6)"/><ellipse cx="274.6" cy="400.4" rx="3.2" ry="1.6" fill="#b81020" fill-opacity="0.20" transform="rotate(175 274.5 400.2)"/><ellipse cx="275.1" cy="401.4" rx="3.3" ry="0.9" fill="#b81020" fill-opacity="0.20" transform="rotate(48 274.5 400.2)"/><ellipse cx="277.6" cy="395.5" rx="3.5" ry="1.4" fill="#b81020" fill-opacity="0.20" transform="rotate(125 276.9 397.0)"/><ellipse cx="275.9" cy="397.4" rx="2.5" ry="1.5" fill="#b81020" fill-opacity="0.20" transform="rotate(54 276.9 397.0)"/><ellipse cx="256.6" cy="401.7" rx="3.3" ry="1.2" fill="#b81020" fill-opacity="0.20" transform="rotate(144 257.9 401.7)"/><ellipse cx="257.3" cy="402.2" rx="2.4" ry="1.3" fill="#b81020" fill-opacity="0.20" transform="rotate(22 257.9 401.7)"/><ellipse cx="300.1" cy="367.8" rx="2.3" ry="0.9" fill="#b81020" fill-opacity="0.12" transform="rotate(19 299.7 369.1)"/><ellipse cx="299.7" cy="367.7" rx="2.3" ry="1.0" fill="#b81020" fill-opacity="0.12" transform="rotate(88 299.7 369.1)"/><ellipse cx="304.5" cy="366.5" rx="3.0" ry="1.1" fill="#b81020" fill-opacity="0.12" transform="rotate(8 303.9 367.6)"/><ellipse cx="304.6" cy="368.3" rx="2.3" ry="1.3" fill="#b81020" fill-opacity="0.12" transform="rotate(16 303.9 367.6)"/><ellipse cx="339.4" cy="362.3" rx="2.9" ry="1.1" fill="#b81020" fill-opacity="0.12" transform="rotate(27 338.3 362.5)"/><ellipse cx="339.2" cy="362.2" rx="3.0" ry="1.2" fill="#b81020" fill-opacity="0.12" transform="rotate(100 338.3 362.5)"/><ellipse cx="328.1" cy="388.1" rx="2.6" ry="1.0" fill="#b81020" fill-opacity="0.12" transform="rotate(166 328.1 387.5)"/><ellipse cx="328.1" cy="386.1" rx="2.4" ry="1.2" fill="#b81020" fill-opacity="0.12" transform="rotate(112 328.1 387.5)"/><ellipse cx="290.0" cy="390.8" rx="2.8" ry="1.0" fill="#b81020" fill-opacity="0.12" transform="rotate(94 291.0 389.6)"/><ellipse cx="290.8" cy="389.2" rx="2.4" ry="1.4" fill="#b81020" fill-opacity="0.12" transform="rotate(53 291.0 389.6)"/><ellipse cx="292.9" cy="390.8" rx="3.0" ry="1.1" fill="#b81020" fill-opacity="0.12" transform="rotate(40 293.6 391.2)"/><ellipse cx="292.7" cy="390.2" rx="2.4" ry="0.9" fill="#b81020" fill-opacity="0.12" transform="rotate(7 293.6 391.2)"/><ellipse cx="314.1" cy="390.5" rx="2.4" ry="0.9" fill="#b81020" fill-opacity="0.12" transform="rotate(5 315.2 390.2)"/><ellipse cx="314.9" cy="389.6" rx="1.8" ry="1.2" fill="#b81020" fill-opacity="0.12" transform="rotate(61 315.2 390.2)"/><ellipse cx="317.3" cy="393.3" rx="1.8" ry="1.4" fill="#b81020" fill-opacity="0.12" transform="rotate(56 317.6 393.6)"/><ellipse cx="316.8" cy="393.3" rx="2.0" ry="1.0" fill="#b81020" fill-opacity="0.12" transform="rotate(29 317.6 393.6)"/><ellipse cx="341.5" cy="398.2" rx="1.8" ry="1.2" fill="#b81020" fill-opacity="0.12" transform="rotate(70 342.0 399.3)"/><ellipse cx="343.4" cy="400.6" rx="2.9" ry="1.4" fill="#b81020" fill-opacity="0.12" transform="rotate(125 342.0 399.3)"/><ellipse cx="354.6" cy="380.7" rx="2.4" ry="0.9" fill="#b81020" fill-opacity="0.07" transform="rotate(88 355.3 381.4)"/><ellipse cx="354.8" cy="380.1" rx="1.9" ry="0.6" fill="#b81020" fill-opacity="0.07" transform="rotate(158 355.3 381.4)"/><ellipse cx="395.1" cy="377.2" rx="1.5" ry="0.7" fill="#b81020" fill-opacity="0.07" transform="rotate(9 396.6 378.6)"/><ellipse cx="396.6" cy="377.7" rx="2.0" ry="0.8" fill="#b81020" fill-opacity="0.07" transform="rotate(122 396.6 378.6)"/><ellipse cx="430.5" cy="357.5" rx="2.3" ry="1.2" fill="#b81020" fill-opacity="0.12" transform="rotate(97 431.0 357.6)"/><ellipse cx="430.4" cy="357.9" rx="3.2" ry="0.8" fill="#b81020" fill-opacity="0.12" transform="rotate(75 431.0 357.6)"/><ellipse cx="445.0" cy="358.7" rx="2.5" ry="1.1" fill="#b81020" fill-opacity="0.12" transform="rotate(137 445.9 358.9)"/><ellipse cx="446.5" cy="360.2" rx="2.0" ry="1.2" fill="#b81020" fill-opacity="0.12" transform="rotate(98 445.9 358.9)"/><ellipse cx="445.4" cy="360.9" rx="3.1" ry="1.0" fill="#b81020" fill-opacity="0.12" transform="rotate(106 444.4 360.7)"/><ellipse cx="444.2" cy="360.6" rx="2.8" ry="1.0" fill="#b81020" fill-opacity="0.12" transform="rotate(43 444.4 360.7)"/><ellipse cx="436.3" cy="365.0" rx="3.1" ry="1.2" fill="#b81020" fill-opacity="0.12" transform="rotate(124 436.3 364.2)"/><ellipse cx="434.9" cy="363.2" rx="2.9" ry="1.3" fill="#b81020" fill-opacity="0.12" transform="rotate(23 436.3 364.2)"/><ellipse cx="438.1" cy="366.5" rx="1.9" ry="0.9" fill="#b81020" fill-opacity="0.12" transform="rotate(164 437.3 366.0)"/><ellipse cx="436.0" cy="366.3" rx="1.8" ry="1.0" fill="#b81020" fill-opacity="0.12" transform="rotate(165 437.3 366.0)"/><ellipse cx="442.1" cy="366.7" rx="1.9" ry="1.0" fill="#b81020" fill-opacity="0.12" transform="rotate(26 442.6 367.0)"/><ellipse cx="442.1" cy="366.5" rx="2.4" ry="1.3" fill="#b81020" fill-opacity="0.12" transform="rotate(53 442.6 367.0)"/><ellipse cx="444.9" cy="363.6" rx="2.0" ry="1.2" fill="#b81020" fill-opacity="0.12" transform="rotate(149 445.7 364.9)"/><ellipse cx="447.2" cy="363.8" rx="2.2" ry="0.9" fill="#b81020" fill-opacity="0.12" transform="rotate(143 445.7 364.9)"/><ellipse cx="440.9" cy="376.8" rx="3.1" ry="0.9" fill="#b81020" fill-opacity="0.12" transform="rotate(137 440.9 376.8)"/><ellipse cx="441.7" cy="376.7" rx="2.7" ry="0.8" fill="#b81020" fill-opacity="0.12" transform="rotate(28 440.9 376.8)"/><ellipse cx="486.7" cy="364.6" rx="1.9" ry="1.3" fill="#b81020" fill-opacity="0.12" transform="rotate(65 486.4 363.6)"/><ellipse cx="485.2" cy="363.5" rx="2.1" ry="1.3" fill="#b81020" fill-opacity="0.12" transform="rotate(157 486.4 363.6)"/><ellipse cx="489.4" cy="365.9" rx="2.8" ry="1.2" fill="#b81020" fill-opacity="0.12" transform="rotate(103 490.6 366.0)"/><ellipse cx="490.9" cy="365.8" rx="1.9" ry="1.3" fill="#b81020" fill-opacity="0.12" transform="rotate(152 490.6 366.0)"/><ellipse cx="463.8" cy="377.5" rx="1.9" ry="0.8" fill="#b81020" fill-opacity="0.12" transform="rotate(76 464.0 377.9)"/><ellipse cx="464.7" cy="376.6" rx="2.3" ry="1.1" fill="#b81020" fill-opacity="0.12" transform="rotate(18 464.0 377.9)"/><ellipse cx="474.0" cy="379.2" rx="2.3" ry="1.2" fill="#b81020" fill-opacity="0.12" transform="rotate(17 472.7 378.6)"/><ellipse cx="473.1" cy="377.8" rx="2.3" ry="1.4" fill="#b81020" fill-opacity="0.12" transform="rotate(85 472.7 378.6)"/><ellipse cx="475.4" cy="377.4" rx="2.1" ry="1.0" fill="#b81020" fill-opacity="0.12" transform="rotate(52 476.2 377.6)"/><ellipse cx="476.9" cy="378.7" rx="3.2" ry="1.1" fill="#b81020" fill-opacity="0.12" transform="rotate(137 476.2 377.6)"/><ellipse cx="486.4" cy="395.4" rx="2.0" ry="1.1" fill="#b81020" fill-opacity="0.12" transform="rotate(104 485.4 395.7)"/><ellipse cx="485.3" cy="396.6" rx="2.4" ry="1.4" fill="#b81020" fill-opacity="0.12" transform="rotate(8 485.4 395.7)"/><ellipse cx="485.3" cy="399.2" rx="2.0" ry="0.8" fill="#b81020" fill-opacity="0.12" transform="rotate(38 485.9 397.9)"/><ellipse cx="485.3" cy="397.9" rx="2.7" ry="0.8" fill="#b81020" fill-opacity="0.12" transform="rotate(53 485.9 397.9)"/><ellipse cx="435.3" cy="400.8" rx="2.3" ry="1.2" fill="#b81020" fill-opacity="0.12" transform="rotate(73 435.9 401.0)"/><ellipse cx="434.9" cy="400.8" rx="3.1" ry="1.0" fill="#b81020" fill-opacity="0.12" transform="rotate(52 435.9 401.0)"/><ellipse cx="532.1" cy="381.0" rx="2.2" ry="1.1" fill="#b81020" fill-opacity="0.06" transform="rotate(162 533.1 380.2)"/><ellipse cx="532.7" cy="379.2" rx="1.8" ry="0.8" fill="#b81020" fill-opacity="0.06" transform="rotate(134 533.1 380.2)"/><ellipse cx="550.4" cy="363.8" rx="2.5" ry="0.7" fill="#b81020" fill-opacity="0.06" transform="rotate(7 548.9 364.6)"/><ellipse cx="548.8" cy="365.8" rx="2.4" ry="0.7" fill="#b81020" fill-opacity="0.06" transform="rotate(62 548.9 364.6)"/><ellipse cx="553.9" cy="365.0" rx="1.4" ry="0.9" fill="#b81020" fill-opacity="0.06" transform="rotate(38 552.6 364.9)"/><ellipse cx="552.7" cy="363.9" rx="1.5" ry="0.7" fill="#b81020" fill-opacity="0.06" transform="rotate(119 552.6 364.9)"/><ellipse cx="561.1" cy="374.7" rx="1.8" ry="0.9" fill="#b81020" fill-opacity="0.06" transform="rotate(125 561.5 373.4)"/><ellipse cx="560.6" cy="371.9" rx="1.9" ry="0.8" fill="#b81020" fill-opacity="0.06" transform="rotate(13 561.5 373.4)"/><ellipse cx="583.8" cy="358.8" rx="3.4" ry="1.3" fill="#b81020" fill-opacity="0.23" transform="rotate(172 583.5 357.9)"/><ellipse cx="584.4" cy="357.6" rx="3.0" ry="1.1" fill="#b81020" fill-opacity="0.23" transform="rotate(109 583.5 357.9)"/><ellipse cx="585.3" cy="359.8" rx="2.8" ry="1.7" fill="#b81020" fill-opacity="0.23" transform="rotate(144 586.7 358.3)"/><ellipse cx="585.9" cy="357.2" rx="4.0" ry="1.7" fill="#b81020" fill-opacity="0.23" transform="rotate(130 586.7 358.3)"/><ellipse cx="595.6" cy="360.8" rx="2.7" ry="1.1" fill="#b81020" fill-opacity="0.23" transform="rotate(11 594.9 361.3)"/><ellipse cx="593.4" cy="361.7" rx="4.3" ry="1.8" fill="#b81020" fill-opacity="0.23" transform="rotate(119 594.9 361.3)"/><ellipse cx="606.9" cy="361.2" rx="4.3" ry="1.9" fill="#b81020" fill-opacity="0.23" transform="rotate(131 606.9 360.4)"/><ellipse cx="606.6" cy="360.5" rx="2.8" ry="1.2" fill="#b81020" fill-opacity="0.23" transform="rotate(175 606.9 360.4)"/><ellipse cx="580.1" cy="364.1" rx="2.7" ry="1.7" fill="#b81020" fill-opacity="0.23" transform="rotate(113 581.2 363.2)"/><ellipse cx="581.1" cy="364.1" rx="3.4" ry="1.9" fill="#b81020" fill-opacity="0.23" transform="rotate(39 581.2 363.2)"/><ellipse cx="590.6" cy="363.5" rx="2.5" ry="1.5" fill="#b81020" fill-opacity="0.23" transform="rotate(59 590.4 364.6)"/><ellipse cx="591.3" cy="365.9" rx="3.7" ry="1.1" fill="#b81020" fill-opacity="0.23" transform="rotate(147 590.4 364.6)"/><ellipse cx="604.6" cy="364.8" rx="2.7" ry="1.7" fill="#b81020" fill-opacity="0.23" transform="rotate(68 604.3 366.0)"/><ellipse cx="603.1" cy="366.5" rx="3.2" ry="1.5" fill="#b81020" fill-opacity="0.23" transform="rotate(164 604.3 366.0)"/><ellipse cx="610.5" cy="366.5" rx="3.2" ry="1.6" fill="#b81020" fill-opacity="0.23" transform="rotate(101 610.6 367.0)"/><ellipse cx="610.1" cy="366.4" rx="4.4" ry="1.9" fill="#b81020" fill-opacity="0.23" transform="rotate(81 610.6 367.0)"/><ellipse cx="623.6" cy="366.7" rx="2.5" ry="1.4" fill="#b81020" fill-opacity="0.23" transform="rotate(105 623.3 366.5)"/><ellipse cx="624.7" cy="365.3" rx="2.9" ry="1.2" fill="#b81020" fill-opacity="0.23" transform="rotate(20 623.3 366.5)"/><ellipse cx="616.2" cy="371.5" rx="3.8" ry="1.2" fill="#b81020" fill-opacity="0.23" transform="rotate(1 615.6 372.6)"/><ellipse cx="616.9" cy="374.0" rx="3.9" ry="1.4" fill="#b81020" fill-opacity="0.23" transform="rotate(123 615.6 372.6)"/><ellipse cx="606.3" cy="372.7" rx="3.6" ry="1.2" fill="#b81020" fill-opacity="0.23" transform="rotate(124 606.4 373.4)"/><ellipse cx="607.8" cy="372.3" rx="4.4" ry="1.2" fill="#b81020" fill-opacity="0.23" transform="rotate(119 606.4 373.4)"/><ellipse cx="631.1" cy="376.4" rx="2.7" ry="1.1" fill="#b81020" fill-opacity="0.23" transform="rotate(160 630.6 376.0)"/><ellipse cx="629.7" cy="375.0" rx="4.2" ry="1.8" fill="#b81020" fill-opacity="0.23" transform="rotate(12 630.6 376.0)"/><ellipse cx="636.7" cy="373.0" rx="2.9" ry="1.7" fill="#b81020" fill-opacity="0.23" transform="rotate(110 636.6 374.1)"/><ellipse cx="636.3" cy="375.5" rx="3.0" ry="1.2" fill="#b81020" fill-opacity="0.23" transform="rotate(37 636.6 374.1)"/><ellipse cx="638.6" cy="356.9" rx="4.4" ry="1.6" fill="#b81020" fill-opacity="0.23" transform="rotate(49 639.2 357.3)"/><ellipse cx="637.8" cy="356.9" rx="2.7" ry="1.5" fill="#b81020" fill-opacity="0.23" transform="rotate(16 639.2 357.3)"/><ellipse cx="587.3" cy="383.1" rx="3.5" ry="1.7" fill="#b81020" fill-opacity="0.23" transform="rotate(80 587.7 381.8)"/><ellipse cx="587.6" cy="382.5" rx="3.6" ry="1.8" fill="#b81020" fill-opacity="0.23" transform="rotate(113 587.7 381.8)"/><ellipse cx="589.0" cy="386.9" rx="3.6" ry="1.4" fill="#b81020" fill-opacity="0.23" transform="rotate(136 588.8 387.0)"/><ellipse cx="588.6" cy="386.7" rx="4.0" ry="1.3" fill="#b81020" fill-opacity="0.23" transform="rotate(45 588.8 387.0)"/><ellipse cx="590.3" cy="390.2" rx="4.5" ry="1.3" fill="#b81020" fill-opacity="0.23" transform="rotate(51 590.9 389.1)"/><ellipse cx="589.8" cy="389.4" rx="2.6" ry="1.6" fill="#b81020" fill-opacity="0.23" transform="rotate(45 590.9 389.1)"/><ellipse cx="596.9" cy="389.0" rx="4.3" ry="1.7" fill="#b81020" fill-opacity="0.23" transform="rotate(145 598.0 390.5)"/><ellipse cx="598.6" cy="390.6" rx="4.1" ry="1.1" fill="#b81020" fill-opacity="0.23" transform="rotate(138 598.0 390.5)"/><ellipse cx="585.3" cy="392.3" rx="3.7" ry="1.2" fill="#b81020" fill-opacity="0.23" transform="rotate(116 585.1 392.8)"/><ellipse cx="585.1" cy="392.4" rx="3.1" ry="1.4" fill="#b81020" fill-opacity="0.23" transform="rotate(153 585.1 392.8)"/><ellipse cx="592.7" cy="394.3" rx="3.2" ry="1.7" fill="#b81020" fill-opacity="0.23" transform="rotate(87 591.9 393.6)"/><ellipse cx="591.3" cy="395.1" rx="3.0" ry="1.2" fill="#b81020" fill-opacity="0.23" transform="rotate(128 591.9 393.6)"/><ellipse cx="591.3" cy="396.6" rx="4.0" ry="1.3" fill="#b81020" fill-opacity="0.23" transform="rotate(111 592.1 395.1)"/><ellipse cx="593.5" cy="395.0" rx="3.5" ry="1.5" fill="#b81020" fill-opacity="0.23" transform="rotate(45 592.1 395.1)"/><ellipse cx="586.9" cy="400.2" rx="3.4" ry="1.6" fill="#b81020" fill-opacity="0.23" transform="rotate(17 585.4 400.2)"/><ellipse cx="585.2" cy="400.3" rx="3.7" ry="1.3" fill="#b81020" fill-opacity="0.23" transform="rotate(60 585.4 400.2)"/><ellipse cx="588.3" cy="401.9" rx="4.5" ry="1.4" fill="#b81020" fill-opacity="0.23" transform="rotate(54 587.2 402.3)"/><ellipse cx="585.9" cy="402.2" rx="2.7" ry="1.7" fill="#b81020" fill-opacity="0.23" transform="rotate(99 587.2 402.3)"/><ellipse cx="613.8" cy="398.9" rx="3.1" ry="1.5" fill="#b81020" fill-opacity="0.23" transform="rotate(102 613.2 399.3)"/><ellipse cx="613.0" cy="400.5" rx="3.9" ry="1.1" fill="#b81020" fill-opacity="0.23" transform="rotate(126 613.2 399.3)"/><ellipse cx="626.8" cy="387.5" rx="3.2" ry="1.6" fill="#b81020" fill-opacity="0.23" transform="rotate(35 627.9 388.4)"/><ellipse cx="629.0" cy="387.5" rx="3.4" ry="1.2" fill="#b81020" fill-opacity="0.23" transform="rotate(7 627.9 388.4)"/><ellipse cx="633.1" cy="388.0" rx="3.6" ry="1.7" fill="#b81020" fill-opacity="0.23" transform="rotate(54 632.9 386.7)"/><ellipse cx="632.8" cy="387.3" rx="2.7" ry="1.8" fill="#b81020" fill-opacity="0.23" transform="rotate(96 632.9 386.7)"/><ellipse cx="637.2" cy="381.0" rx="3.1" ry="1.5" fill="#b81020" fill-opacity="0.23" transform="rotate(30 638.0 382.1)"/><ellipse cx="639.0" cy="382.4" rx="2.6" ry="1.1" fill="#b81020" fill-opacity="0.23" transform="rotate(89 638.0 382.1)"/><ellipse cx="638.1" cy="390.5" rx="4.5" ry="1.5" fill="#b81020" fill-opacity="0.23" transform="rotate(35 638.4 390.5)"/><ellipse cx="638.1" cy="390.5" rx="3.4" ry="1.6" fill="#b81020" fill-opacity="0.23" transform="rotate(168 638.4 390.5)"/><ellipse cx="631.1" cy="390.9" rx="3.8" ry="1.7" fill="#b81020" fill-opacity="0.23" transform="rotate(21 631.7 391.5)"/><ellipse cx="630.4" cy="392.7" rx="4.0" ry="1.3" fill="#b81020" fill-opacity="0.23" transform="rotate(2 631.7 391.5)"/><ellipse cx="631.9" cy="394.9" rx="3.8" ry="1.1" fill="#b81020" fill-opacity="0.23" transform="rotate(168 632.4 393.6)"/><ellipse cx="631.9" cy="393.4" rx="3.7" ry="1.8" fill="#b81020" fill-opacity="0.23" transform="rotate(51 632.4 393.6)"/><ellipse cx="632.9" cy="397.3" rx="2.6" ry="1.5" fill="#b81020" fill-opacity="0.23" transform="rotate(130 632.4 396.0)"/><ellipse cx="632.5" cy="396.2" rx="2.6" ry="1.3" fill="#b81020" fill-opacity="0.23" transform="rotate(120 632.4 396.0)"/><ellipse cx="623.4" cy="396.0" rx="3.3" ry="1.4" fill="#b81020" fill-opacity="0.23" transform="rotate(116 622.4 394.7)"/><ellipse cx="622.9" cy="394.8" rx="2.9" ry="1.3" fill="#b81020" fill-opacity="0.23" transform="rotate(150 622.4 394.7)"/><ellipse cx="618.2" cy="396.6" rx="3.8" ry="1.4" fill="#b81020" fill-opacity="0.23" transform="rotate(149 619.3 396.5)"/><ellipse cx="620.3" cy="397.2" rx="2.9" ry="1.1" fill="#b81020" fill-opacity="0.23" transform="rotate(110 619.3 396.5)"/><ellipse cx="627.7" cy="397.4" rx="3.5" ry="1.8" fill="#b81020" fill-opacity="0.23" transform="rotate(47 626.6 397.0)"/><ellipse cx="627.6" cy="398.3" rx="2.7" ry="1.8" fill="#b81020" fill-opacity="0.23" transform="rotate(101 626.6 397.0)"/><ellipse cx="69.9" cy="423.3" rx="2.3" ry="0.8" fill="#b81020" fill-opacity="0.05" transform="rotate(63 68.9 423.9)"/><ellipse cx="68.5" cy="424.9" rx="2.4" ry="0.6" fill="#b81020" fill-opacity="0.05" transform="rotate(102 68.9 423.9)"/><ellipse cx="78.5" cy="425.7" rx="1.7" ry="0.8" fill="#b81020" fill-opacity="0.05" transform="rotate(13 78.9 426.5)"/><ellipse cx="79.5" cy="426.0" rx="1.5" ry="0.7" fill="#b81020" fill-opacity="0.05" transform="rotate(113 78.9 426.5)"/><ellipse cx="102.1" cy="409.7" rx="2.0" ry="0.7" fill="#b81020" fill-opacity="0.05" transform="rotate(171 103.1 410.7)"/><ellipse cx="102.7" cy="409.9" rx="2.2" ry="0.9" fill="#b81020" fill-opacity="0.05" transform="rotate(153 103.1 410.7)"/><ellipse cx="99.0" cy="444.7" rx="2.2" ry="0.8" fill="#b81020" fill-opacity="0.05" transform="rotate(14 98.9 444.4)"/><ellipse cx="97.6" cy="444.5" rx="1.9" ry="0.6" fill="#b81020" fill-opacity="0.05" transform="rotate(45 98.9 444.4)"/><ellipse cx="164.3" cy="409.1" rx="4.7" ry="1.5" fill="#b81020" fill-opacity="0.30" transform="rotate(128 165.0 407.9)"/><ellipse cx="166.4" cy="407.4" rx="5.4" ry="1.8" fill="#b81020" fill-opacity="0.30" transform="rotate(45 165.0 407.9)"/><ellipse cx="161.4" cy="411.5" rx="5.1" ry="1.4" fill="#b81020" fill-opacity="0.30" transform="rotate(82 162.5 411.8)"/><ellipse cx="161.4" cy="411.9" rx="5.1" ry="1.8" fill="#b81020" fill-opacity="0.30" transform="rotate(138 162.5 411.8)"/><ellipse cx="173.1" cy="411.5" rx="3.9" ry="1.3" fill="#b81020" fill-opacity="0.30" transform="rotate(88 174.1 410.2)"/><ellipse cx="175.1" cy="409.3" rx="3.2" ry="2.1" fill="#b81020" fill-opacity="0.30" transform="rotate(141 174.1 410.2)"/><ellipse cx="202.1" cy="409.9" rx="4.6" ry="1.6" fill="#b81020" fill-opacity="0.30" transform="rotate(82 201.8 409.7)"/><ellipse cx="203.2" cy="410.7" rx="4.8" ry="1.6" fill="#b81020" fill-opacity="0.30" transform="rotate(2 201.8 409.7)"/><ellipse cx="200.0" cy="412.7" rx="4.9" ry="1.7" fill="#b81020" fill-opacity="0.30" transform="rotate(94 200.2 412.5)"/><ellipse cx="200.4" cy="411.8" rx="4.7" ry="1.9" fill="#b81020" fill-opacity="0.30" transform="rotate(98 200.2 412.5)"/><ellipse cx="141.1" cy="416.2" rx="3.3" ry="2.2" fill="#b81020" fill-opacity="0.30" transform="rotate(124 140.5 416.7)"/><ellipse cx="139.5" cy="416.4" rx="3.4" ry="1.7" fill="#b81020" fill-opacity="0.30" transform="rotate(147 140.5 416.7)"/><ellipse cx="144.3" cy="418.4" rx="4.5" ry="2.0" fill="#b81020" fill-opacity="0.30" transform="rotate(42 144.7 417.8)"/><ellipse cx="144.7" cy="416.8" rx="3.2" ry="1.8" fill="#b81020" fill-opacity="0.30" transform="rotate(99 144.7 417.8)"/><ellipse cx="145.0" cy="420.2" rx="3.9" ry="1.3" fill="#b81020" fill-opacity="0.30" transform="rotate(70 143.9 420.2)"/><ellipse cx="144.5" cy="419.4" rx="3.6" ry="1.5" fill="#b81020" fill-opacity="0.30" transform="rotate(28 143.9 420.2)"/><ellipse cx="151.5" cy="419.5" rx="3.6" ry="2.3" fill="#b81020" fill-opacity="0.30" transform="rotate(47 151.6 419.7)"/><ellipse cx="150.9" cy="420.5" rx="5.3" ry="2.0" fill="#b81020" fill-opacity="0.30" transform="rotate(63 151.6 419.7)"/><ellipse cx="152.4" cy="424.2" rx="4.8" ry="2.2" fill="#b81020" fill-opacity="0.30" transform="rotate(25 151.0 423.4)"/><ellipse cx="152.1" cy="422.3" rx="3.2" ry="2.3" fill="#b81020" fill-opacity="0.30" transform="rotate(85 151.0 423.4)"/><ellipse cx="146.7" cy="426.0" rx="4.9" ry="1.4" fill="#b81020" fill-opacity="0.30" transform="rotate(170 145.3 426.5)"/><ellipse cx="145.3" cy="428.0" rx="3.3" ry="2.2" fill="#b81020" fill-opacity="0.30" transform="rotate(112 145.3 426.5)"/><ellipse cx="151.5" cy="428.1" rx="4.7" ry="1.7" fill="#b81020" fill-opacity="0.30" transform="rotate(110 150.8 428.1)"/><ellipse cx="150.0" cy="428.2" rx="4.4" ry="1.7" fill="#b81020" fill-opacity="0.30" transform="rotate(11 150.8 428.1)"/><ellipse cx="153.8" cy="426.3" rx="2.9" ry="2.1" fill="#b81020" fill-opacity="0.30" transform="rotate(33 155.2 426.5)"/><ellipse cx="155.2" cy="427.9" rx="5.1" ry="2.0" fill="#b81020" fill-opacity="0.30" transform="rotate(95 155.2 426.5)"/><ellipse cx="154.0" cy="429.3" rx="4.4" ry="2.3" fill="#b81020" fill-opacity="0.30" transform="rotate(91 154.8 428.9)"/><ellipse cx="153.9" cy="427.9" rx="5.4" ry="2.0" fill="#b81020" fill-opacity="0.30" transform="rotate(124 154.8 428.9)"/><ellipse cx="157.7" cy="432.5" rx="3.2" ry="1.6" fill="#b81020" fill-opacity="0.30" transform="rotate(154 157.9 433.1)"/><ellipse cx="158.6" cy="432.4" rx="3.2" ry="1.3" fill="#b81020" fill-opacity="0.30" transform="rotate(174 157.9 433.1)"/><ellipse cx="155.8" cy="435.9" rx="3.1" ry="2.1" fill="#b81020" fill-opacity="0.30" transform="rotate(100 156.9 437.3)"/><ellipse cx="157.5" cy="437.5" rx="4.6" ry="1.7" fill="#b81020" fill-opacity="0.30" transform="rotate(45 156.9 437.3)"/><ellipse cx="155.8" cy="440.3" rx="3.6" ry="2.0" fill="#b81020" fill-opacity="0.30" transform="rotate(43 155.2 441.8)"/><ellipse cx="153.7" cy="441.3" rx="4.8" ry="2.1" fill="#b81020" fill-opacity="0.30" transform="rotate(92 155.2 441.8)"/><ellipse cx="158.2" cy="442.9" rx="3.9" ry="2.1" fill="#b81020" fill-opacity="0.30" transform="rotate(113 159.4 442.0)"/><ellipse cx="160.7" cy="442.6" rx="4.5" ry="1.7" fill="#b81020" fill-opacity="0.30" transform="rotate(60 159.4 442.0)"/><ellipse cx="164.8" cy="441.3" rx="3.5" ry="1.7" fill="#b81020" fill-opacity="0.30" transform="rotate(24 163.9 441.8)"/><ellipse cx="163.6" cy="443.2" rx="3.2" ry="2.0" fill="#b81020" fill-opacity="0.30" transform="rotate(62 163.9 441.8)"/><ellipse cx="169.1" cy="434.5" rx="3.0" ry="1.6" fill="#b81020" fill-opacity="0.30" transform="rotate(50 169.7 436.0)"/><ellipse cx="169.6" cy="436.0" rx="4.6" ry="2.3" fill="#b81020" fill-opacity="0.30" transform="rotate(97 169.7 436.0)"/><ellipse cx="168.9" cy="439.5" rx="4.3" ry="1.7" fill="#b81020" fill-opacity="0.30" transform="rotate(78 168.4 438.8)"/><ellipse cx="169.3" cy="437.8" rx="4.1" ry="1.8" fill="#b81020" fill-opacity="0.30" transform="rotate(72 168.4 438.8)"/><ellipse cx="172.6" cy="439.1" rx="4.5" ry="1.7" fill="#b81020" fill-opacity="0.30" transform="rotate(32 171.3 438.8)"/><ellipse cx="170.7" cy="438.9" rx="3.5" ry="1.8" fill="#b81020" fill-opacity="0.30" transform="rotate(75 171.3 438.8)"/><ellipse cx="167.0" cy="446.5" rx="4.1" ry="1.5" fill="#b81020" fill-opacity="0.30" transform="rotate(106 168.1 446.5)"/><ellipse cx="166.7" cy="445.1" rx="4.5" ry="1.3" fill="#b81020" fill-opacity="0.30" transform="rotate(130 168.1 446.5)"/><ellipse cx="161.3" cy="450.3" rx="3.1" ry="2.0" fill="#b81020" fill-opacity="0.30" transform="rotate(78 160.2 449.1)"/><ellipse cx="161.2" cy="449.1" rx="4.9" ry="2.1" fill="#b81020" fill-opacity="0.30" transform="rotate(79 160.2 449.1)"/><ellipse cx="154.8" cy="452.3" rx="5.4" ry="1.3" fill="#b81020" fill-opacity="0.30" transform="rotate(174 154.5 453.5)"/><ellipse cx="153.5" cy="452.3" rx="4.8" ry="1.8" fill="#b81020" fill-opacity="0.30" transform="rotate(130 154.5 453.5)"/><ellipse cx="195.7" cy="431.5" rx="5.4" ry="1.6" fill="#b81020" fill-opacity="0.30" transform="rotate(130 196.8 432.5)"/><ellipse cx="195.3" cy="431.2" rx="4.6" ry="2.2" fill="#b81020" fill-opacity="0.30" transform="rotate(107 196.8 432.5)"/><ellipse cx="203.3" cy="432.6" rx="4.9" ry="1.7" fill="#b81020" fill-opacity="0.30" transform="rotate(87 202.8 433.1)"/><ellipse cx="203.1" cy="431.7" rx="3.7" ry="2.0" fill="#b81020" fill-opacity="0.30" transform="rotate(66 202.8 433.1)"/><ellipse cx="190.5" cy="440.4" rx="3.5" ry="1.4" fill="#b81020" fill-opacity="0.30" transform="rotate(67 189.7 439.6)"/><ellipse cx="190.4" cy="441.0" rx="4.1" ry="1.5" fill="#b81020" fill-opacity="0.30" transform="rotate(86 189.7 439.6)"/><ellipse cx="192.6" cy="440.3" rx="5.5" ry="1.3" fill="#b81020" fill-opacity="0.30" transform="rotate(102 192.3 439.9)"/><ellipse cx="191.5" cy="438.9" rx="3.2" ry="1.4" fill="#b81020" fill-opacity="0.30" transform="rotate(128 192.3 439.9)"/><ellipse cx="190.1" cy="442.1" rx="4.0" ry="1.9" fill="#b81020" fill-opacity="0.30" transform="rotate(96 190.2 442.3)"/><ellipse cx="190.0" cy="440.9" rx="4.8" ry="2.0" fill="#b81020" fill-opacity="0.30" transform="rotate(93 190.2 442.3)"/><ellipse cx="189.3" cy="444.1" rx="4.3" ry="1.4" fill="#b81020" fill-opacity="0.30" transform="rotate(50 188.1 444.4)"/><ellipse cx="188.9" cy="443.0" rx="4.0" ry="2.1" fill="#b81020" fill-opacity="0.30" transform="rotate(154 188.1 444.4)"/><ellipse cx="192.6" cy="445.1" rx="3.9" ry="1.8" fill="#b81020" fill-opacity="0.30" transform="rotate(110 191.8 445.1)"/><ellipse cx="192.1" cy="445.0" rx="3.1" ry="1.8" fill="#b81020" fill-opacity="0.30" transform="rotate(41 191.8 445.1)"/><ellipse cx="195.1" cy="446.9" rx="5.2" ry="2.1" fill="#b81020" fill-opacity="0.30" transform="rotate(24 193.9 447.9)"/><ellipse cx="195.3" cy="446.8" rx="4.9" ry="2.2" fill="#b81020" fill-opacity="0.30" transform="rotate(31 193.9 447.9)"/><ellipse cx="196.9" cy="445.9" rx="5.3" ry="1.8" fill="#b81020" fill-opacity="0.30" transform="rotate(32 198.1 446.8)"/><ellipse cx="199.3" cy="446.6" rx="3.3" ry="1.5" fill="#b81020" fill-opacity="0.30" transform="rotate(160 198.1 446.8)"/><ellipse cx="200.5" cy="444.1" rx="4.1" ry="2.2" fill="#b81020" fill-opacity="0.30" transform="rotate(65 200.7 444.7)"/><ellipse cx="200.9" cy="445.0" rx="3.8" ry="1.8" fill="#b81020" fill-opacity="0.30" transform="rotate(54 200.7 444.7)"/><ellipse cx="182.7" cy="450.0" rx="3.2" ry="2.2" fill="#b81020" fill-opacity="0.30" transform="rotate(62 181.3 450.7)"/><ellipse cx="182.3" cy="451.8" rx="3.8" ry="2.0" fill="#b81020" fill-opacity="0.30" transform="rotate(23 181.3 450.7)"/><ellipse cx="186.0" cy="450.4" rx="3.5" ry="1.8" fill="#b81020" fill-opacity="0.30" transform="rotate(143 186.5 451.0)"/><ellipse cx="187.2" cy="449.5" rx="4.6" ry="2.1" fill="#b81020" fill-opacity="0.30" transform="rotate(61 186.5 451.0)"/><ellipse cx="192.6" cy="452.0" rx="5.0" ry="1.3" fill="#b81020" fill-opacity="0.30" transform="rotate(64 191.3 451.2)"/><ellipse cx="190.8" cy="450.6" rx="3.8" ry="1.5" fill="#b81020" fill-opacity="0.30" transform="rotate(51 191.3 451.2)"/><ellipse cx="214.5" cy="407.8" rx="3.3" ry="1.7" fill="#b81020" fill-opacity="0.35" transform="rotate(14 213.3 407.6)"/><ellipse cx="213.4" cy="407.3" rx="4.5" ry="2.2" fill="#b81020" fill-opacity="0.35" transform="rotate(134 213.3 407.6)"/><ellipse cx="216.8" cy="415.9" rx="3.8" ry="2.0" fill="#b81020" fill-opacity="0.35" transform="rotate(27 217.7 414.6)"/><ellipse cx="217.4" cy="415.4" rx="4.9" ry="2.1" fill="#b81020" fill-opacity="0.35" transform="rotate(151 217.7 414.6)"/><ellipse cx="218.8" cy="421.7" rx="4.6" ry="1.4" fill="#b81020" fill-opacity="0.35" transform="rotate(44 219.6 420.9)"/><ellipse cx="220.7" cy="420.5" rx="3.4" ry="1.6" fill="#b81020" fill-opacity="0.35" transform="rotate(29 219.6 420.9)"/><ellipse cx="225.1" cy="419.8" rx="3.2" ry="2.2" fill="#b81020" fill-opacity="0.35" transform="rotate(142 224.3 419.5)"/><ellipse cx="223.7" cy="419.4" rx="5.0" ry="1.8" fill="#b81020" fill-opacity="0.35" transform="rotate(43 224.3 419.5)"/><ellipse cx="216.9" cy="425.1" rx="3.4" ry="2.2" fill="#b81020" fill-opacity="0.35" transform="rotate(122 216.9 426.2)"/><ellipse cx="216.3" cy="427.2" rx="3.5" ry="1.8" fill="#b81020" fill-opacity="0.35" transform="rotate(121 216.9 426.2)"/><ellipse cx="216.2" cy="429.6" rx="3.0" ry="1.9" fill="#b81020" fill-opacity="0.35" transform="rotate(122 216.6 430.0)"/><ellipse cx="216.8" cy="430.1" rx="3.0" ry="1.4" fill="#b81020" fill-opacity="0.35" transform="rotate(78 216.6 430.0)"/><ellipse cx="218.8" cy="430.8" rx="3.3" ry="2.2" fill="#b81020" fill-opacity="0.35" transform="rotate(44 219.8 429.3)"/><ellipse cx="220.5" cy="430.7" rx="3.8" ry="1.7" fill="#b81020" fill-opacity="0.35" transform="rotate(1 219.8 429.3)"/><ellipse cx="224.6" cy="425.8" rx="5.3" ry="2.3" fill="#b81020" fill-opacity="0.35" transform="rotate(13 223.6 424.7)"/><ellipse cx="225.0" cy="423.7" rx="4.7" ry="1.8" fill="#b81020" fill-opacity="0.35" transform="rotate(89 223.6 424.7)"/><ellipse cx="224.5" cy="430.5" rx="5.6" ry="2.0" fill="#b81020" fill-opacity="0.35" transform="rotate(166 223.8 429.7)"/><ellipse cx="223.9" cy="428.4" rx="5.3" ry="1.4" fill="#b81020" fill-opacity="0.35" transform="rotate(21 223.8 429.7)"/><ellipse cx="227.1" cy="429.8" rx="3.2" ry="1.6" fill="#b81020" fill-opacity="0.35" transform="rotate(53 228.0 431.0)"/><ellipse cx="226.6" cy="430.8" rx="3.3" ry="2.2" fill="#b81020" fill-opacity="0.35" transform="rotate(54 228.0 431.0)"/><ellipse cx="230.6" cy="425.3" rx="5.5" ry="1.6" fill="#b81020" fill-opacity="0.35" transform="rotate(82 231.1 425.5)"/><ellipse cx="231.7" cy="424.0" rx="3.5" ry="1.9" fill="#b81020" fill-opacity="0.35" transform="rotate(3 231.1 425.5)"/><ellipse cx="232.2" cy="422.2" rx="3.3" ry="2.2" fill="#b81020" fill-opacity="0.35" transform="rotate(113 233.0 422.0)"/><ellipse cx="233.1" cy="421.7" rx="4.2" ry="2.0" fill="#b81020" fill-opacity="0.35" transform="rotate(77 233.0 422.0)"/><ellipse cx="233.5" cy="430.8" rx="3.6" ry="1.5" fill="#b81020" fill-opacity="0.35" transform="rotate(85 232.4 431.4)"/><ellipse cx="232.2" cy="431.1" rx="4.4" ry="2.0" fill="#b81020" fill-opacity="0.35" transform="rotate(81 232.4 431.4)"/><ellipse cx="234.9" cy="428.5" rx="4.9" ry="1.5" fill="#b81020" fill-opacity="0.35" transform="rotate(95 235.5 428.9)"/><ellipse cx="234.3" cy="430.2" rx="4.9" ry="1.9" fill="#b81020" fill-opacity="0.35" transform="rotate(103 235.5 428.9)"/><ellipse cx="227.3" cy="436.0" rx="5.1" ry="2.3" fill="#b81020" fill-opacity="0.35" transform="rotate(160 225.9 436.0)"/><ellipse cx="225.4" cy="436.3" rx="4.0" ry="2.3" fill="#b81020" fill-opacity="0.35" transform="rotate(166 225.9 436.0)"/><ellipse cx="230.7" cy="438.5" rx="5.1" ry="1.6" fill="#b81020" fill-opacity="0.35" transform="rotate(126 230.3 438.4)"/><ellipse cx="230.4" cy="439.1" rx="5.0" ry="2.1" fill="#b81020" fill-opacity="0.35" transform="rotate(76 230.3 438.4)"/><ellipse cx="234.3" cy="438.3" rx="5.1" ry="2.1" fill="#b81020" fill-opacity="0.35" transform="rotate(101 235.5 437.8)"/><ellipse cx="236.2" cy="436.9" rx="3.7" ry="1.4" fill="#b81020" fill-opacity="0.35" transform="rotate(143 235.5 437.8)"/><ellipse cx="239.7" cy="440.0" rx="5.6" ry="2.3" fill="#b81020" fill-opacity="0.35" transform="rotate(160 238.5 440.7)"/><ellipse cx="239.9" cy="440.6" rx="4.5" ry="1.6" fill="#b81020" fill-opacity="0.35" transform="rotate(168 238.5 440.7)"/><ellipse cx="228.6" cy="443.1" rx="3.3" ry="1.6" fill="#b81020" fill-opacity="0.35" transform="rotate(77 229.6 443.0)"/><ellipse cx="229.5" cy="441.6" rx="5.0" ry="1.6" fill="#b81020" fill-opacity="0.35" transform="rotate(75 229.6 443.0)"/><ellipse cx="232.1" cy="442.9" rx="4.5" ry="1.6" fill="#b81020" fill-opacity="0.35" transform="rotate(132 233.0 443.0)"/><ellipse cx="233.0" cy="442.2" rx="3.5" ry="1.3" fill="#b81020" fill-opacity="0.35" transform="rotate(137 233.0 443.0)"/><ellipse cx="238.3" cy="444.6" rx="3.5" ry="1.8" fill="#b81020" fill-opacity="0.35" transform="rotate(83 239.5 443.6)"/><ellipse cx="238.3" cy="444.7" rx="4.5" ry="1.5" fill="#b81020" fill-opacity="0.35" transform="rotate(130 239.5 443.6)"/><ellipse cx="255.2" cy="408.1" rx="4.9" ry="1.5" fill="#b81020" fill-opacity="0.35" transform="rotate(81 254.8 409.4)"/><ellipse cx="253.7" cy="408.7" rx="3.7" ry="2.2" fill="#b81020" fill-opacity="0.35" transform="rotate(89 254.8 409.4)"/><ellipse cx="255.6" cy="412.8" rx="4.1" ry="2.0" fill="#b81020" fill-opacity="0.35" transform="rotate(14 255.3 413.9)"/><ellipse cx="255.2" cy="413.6" rx="3.1" ry="2.0" fill="#b81020" fill-opacity="0.35" transform="rotate(158 255.3 413.9)"/><ellipse cx="255.1" cy="419.7" rx="4.1" ry="1.7" fill="#b81020" fill-opacity="0.35" transform="rotate(2 256.4 418.4)"/><ellipse cx="255.4" cy="419.3" rx="3.3" ry="2.1" fill="#b81020" fill-opacity="0.35" transform="rotate(101 256.4 418.4)"/><ellipse cx="263.5" cy="417.3" rx="3.7" ry="1.4" fill="#b81020" fill-opacity="0.35" transform="rotate(111 262.9 417.6)"/><ellipse cx="261.5" cy="416.9" rx="4.0" ry="1.8" fill="#b81020" fill-opacity="0.35" transform="rotate(171 262.9 417.6)"/><ellipse cx="270.1" cy="440.4" rx="3.1" ry="1.5" fill="#b81020" fill-opacity="0.35" transform="rotate(153 270.6 440.7)"/><ellipse cx="270.1" cy="440.7" rx="4.9" ry="2.2" fill="#b81020" fill-opacity="0.35" transform="rotate(94 270.6 440.7)"/><ellipse cx="269.6" cy="442.4" rx="3.4" ry="1.7" fill="#b81020" fill-opacity="0.35" transform="rotate(0 269.0 443.0)"/><ellipse cx="268.2" cy="442.0" rx="3.7" ry="1.4" fill="#b81020" fill-opacity="0.35" transform="rotate(121 269.0 443.0)"/><ellipse cx="274.1" cy="447.3" rx="4.4" ry="2.2" fill="#b81020" fill-opacity="0.35" transform="rotate(113 272.7 446.5)"/><ellipse cx="273.8" cy="445.5" rx="5.1" ry="2.2" fill="#b81020" fill-opacity="0.35" transform="rotate(97 272.7 446.5)"/><ellipse cx="214.2" cy="451.4" rx="3.5" ry="2.0" fill="#b81020" fill-opacity="0.35" transform="rotate(53 213.5 451.7)"/><ellipse cx="214.6" cy="452.2" rx="3.9" ry="2.1" fill="#b81020" fill-opacity="0.35" transform="rotate(66 213.5 451.7)"/><ellipse cx="246.8" cy="452.4" rx="4.7" ry="1.7" fill="#b81020" fill-opacity="0.35" transform="rotate(143 247.4 451.2)"/><ellipse cx="248.3" cy="450.2" rx="3.9" ry="1.4" fill="#b81020" fill-opacity="0.35" transform="rotate(82 247.4 451.2)"/><ellipse cx="292.5" cy="414.7" rx="2.6" ry="1.0" fill="#b81020" fill-opacity="0.17" transform="rotate(177 291.3 413.9)"/><ellipse cx="292.3" cy="414.3" rx="2.5" ry="1.4" fill="#b81020" fill-opacity="0.17" transform="rotate(133 291.3 413.9)"/><ellipse cx="298.3" cy="411.3" rx="2.6" ry="1.1" fill="#b81020" fill-opacity="0.17" transform="rotate(30 299.1 410.2)"/><ellipse cx="300.5" cy="409.0" rx="3.1" ry="1.6" fill="#b81020" fill-opacity="0.17" transform="rotate(168 299.1 410.2)"/><ellipse cx="317.7" cy="408.9" rx="3.6" ry="1.6" fill="#b81020" fill-opacity="0.17" transform="rotate(159 316.5 409.2)"/><ellipse cx="316.7" cy="410.5" rx="2.7" ry="1.2" fill="#b81020" fill-opacity="0.17" transform="rotate(134 316.5 409.2)"/><ellipse cx="317.5" cy="413.8" rx="2.4" ry="1.6" fill="#b81020" fill-opacity="0.17" transform="rotate(172 318.6 412.5)"/><ellipse cx="318.3" cy="412.6" rx="2.4" ry="1.5" fill="#b81020" fill-opacity="0.17" transform="rotate(122 318.6 412.5)"/><ellipse cx="315.3" cy="415.6" rx="2.1" ry="1.3" fill="#b81020" fill-opacity="0.17" transform="rotate(124 316.5 414.6)"/><ellipse cx="317.7" cy="414.8" rx="2.9" ry="1.0" fill="#b81020" fill-opacity="0.17" transform="rotate(100 316.5 414.6)"/><ellipse cx="311.1" cy="420.1" rx="2.7" ry="1.6" fill="#b81020" fill-opacity="0.17" transform="rotate(102 311.7 419.1)"/><ellipse cx="312.8" cy="419.0" rx="2.5" ry="1.4" fill="#b81020" fill-opacity="0.17" transform="rotate(112 311.7 419.1)"/><ellipse cx="315.3" cy="417.3" rx="3.1" ry="1.5" fill="#b81020" fill-opacity="0.17" transform="rotate(151 314.4 418.4)"/><ellipse cx="314.6" cy="417.7" rx="3.3" ry="1.1" fill="#b81020" fill-opacity="0.17" transform="rotate(173 314.4 418.4)"/><ellipse cx="297.2" cy="426.0" rx="2.8" ry="1.6" fill="#b81020" fill-opacity="0.17" transform="rotate(146 296.8 426.5)"/><ellipse cx="295.3" cy="425.6" rx="2.5" ry="1.5" fill="#b81020" fill-opacity="0.17" transform="rotate(51 296.8 426.5)"/><ellipse cx="297.9" cy="429.4" rx="2.3" ry="1.2" fill="#b81020" fill-opacity="0.17" transform="rotate(128 298.4 429.3)"/><ellipse cx="298.2" cy="430.5" rx="3.6" ry="1.1" fill="#b81020" fill-opacity="0.17" transform="rotate(106 298.4 429.3)"/><ellipse cx="310.0" cy="435.5" rx="2.3" ry="1.0" fill="#b81020" fill-opacity="0.17" transform="rotate(77 309.2 436.7)"/><ellipse cx="309.7" cy="437.7" rx="2.4" ry="1.0" fill="#b81020" fill-opacity="0.17" transform="rotate(176 309.2 436.7)"/><ellipse cx="330.2" cy="428.0" rx="3.0" ry="1.0" fill="#b81020" fill-opacity="0.17" transform="rotate(60 330.6 426.8)"/><ellipse cx="329.8" cy="426.8" rx="2.8" ry="1.4" fill="#b81020" fill-opacity="0.17" transform="rotate(59 330.6 426.8)"/><ellipse cx="337.6" cy="425.7" rx="2.7" ry="1.0" fill="#b81020" fill-opacity="0.17" transform="rotate(44 337.3 424.7)"/><ellipse cx="336.2" cy="425.1" rx="2.9" ry="1.5" fill="#b81020" fill-opacity="0.17" transform="rotate(60 337.3 424.7)"/><ellipse cx="326.8" cy="430.7" rx="3.6" ry="1.3" fill="#b81020" fill-opacity="0.17" transform="rotate(80 325.7 429.7)"/><ellipse cx="326.3" cy="429.8" rx="2.9" ry="0.9" fill="#b81020" fill-opacity="0.17" transform="rotate(22 325.7 429.7)"/><ellipse cx="321.6" cy="433.6" rx="2.5" ry="1.2" fill="#b81020" fill-opacity="0.17" transform="rotate(147 321.8 433.5)"/><ellipse cx="322.2" cy="433.9" rx="2.4" ry="1.4" fill="#b81020" fill-opacity="0.17" transform="rotate(135 321.8 433.5)"/><ellipse cx="323.9" cy="433.3" rx="3.5" ry="1.6" fill="#b81020" fill-opacity="0.17" transform="rotate(104 324.6 434.4)"/><ellipse cx="323.2" cy="434.0" rx="3.6" ry="1.3" fill="#b81020" fill-opacity="0.17" transform="rotate(42 324.6 434.4)"/><ellipse cx="328.3" cy="434.8" rx="2.2" ry="1.6" fill="#b81020" fill-opacity="0.17" transform="rotate(60 329.6 433.5)"/><ellipse cx="329.1" cy="433.9" rx="3.7" ry="1.1" fill="#b81020" fill-opacity="0.17" transform="rotate(178 329.6 433.5)"/><ellipse cx="327.1" cy="435.7" rx="3.7" ry="1.5" fill="#b81020" fill-opacity="0.17" transform="rotate(91 327.3 437.0)"/><ellipse cx="327.5" cy="435.7" rx="3.8" ry="1.1" fill="#b81020" fill-opacity="0.17" transform="rotate(17 327.3 437.0)"/><ellipse cx="332.6" cy="436.2" rx="3.7" ry="1.4" fill="#b81020" fill-opacity="0.17" transform="rotate(158 333.6 437.3)"/><ellipse cx="335.0" cy="437.7" rx="3.6" ry="1.5" fill="#b81020" fill-opacity="0.17" transform="rotate(98 333.6 437.3)"/><ellipse cx="335.9" cy="434.1" rx="3.6" ry="1.2" fill="#b81020" fill-opacity="0.17" transform="rotate(166 337.3 434.6)"/><ellipse cx="338.0" cy="434.1" rx="3.1" ry="1.3" fill="#b81020" fill-opacity="0.17" transform="rotate(160 337.3 434.6)"/><ellipse cx="336.9" cy="437.7" rx="2.2" ry="1.3" fill="#b81020" fill-opacity="0.17" transform="rotate(125 337.3 438.1)"/><ellipse cx="337.8" cy="439.5" rx="2.8" ry="1.6" fill="#b81020" fill-opacity="0.17" transform="rotate(157 337.3 438.1)"/><ellipse cx="346.5" cy="447.2" rx="3.1" ry="1.1" fill="#b81020" fill-opacity="0.17" transform="rotate(63 345.4 446.5)"/><ellipse cx="344.4" cy="446.5" rx="3.1" ry="1.2" fill="#b81020" fill-opacity="0.17" transform="rotate(168 345.4 446.5)"/><ellipse cx="346.6" cy="448.7" rx="3.3" ry="1.6" fill="#b81020" fill-opacity="0.17" transform="rotate(39 346.2 449.3)"/><ellipse cx="346.8" cy="449.7" rx="3.8" ry="0.9" fill="#b81020" fill-opacity="0.17" transform="rotate(44 346.2 449.3)"/><ellipse cx="343.3" cy="452.7" rx="3.4" ry="1.2" fill="#b81020" fill-opacity="0.17" transform="rotate(101 343.3 452.8)"/><ellipse cx="344.0" cy="452.8" rx="2.6" ry="1.2" fill="#b81020" fill-opacity="0.17" transform="rotate(97 343.3 452.8)"/><ellipse cx="384.4" cy="415.7" rx="2.8" ry="1.1" fill="#b81020" fill-opacity="0.10" transform="rotate(80 383.5 416.3)"/><ellipse cx="384.6" cy="415.0" rx="3.2" ry="1.1" fill="#b81020" fill-opacity="0.10" transform="rotate(66 383.5 416.3)"/><ellipse cx="419.9" cy="410.9" rx="3.2" ry="1.0" fill="#b81020" fill-opacity="0.10" transform="rotate(145 419.2 411.5)"/><ellipse cx="419.9" cy="412.6" rx="2.0" ry="0.8" fill="#b81020" fill-opacity="0.10" transform="rotate(97 419.2 411.5)"/><ellipse cx="397.0" cy="426.7" rx="2.4" ry="0.8" fill="#b81020" fill-opacity="0.10" transform="rotate(149 396.3 427.6)"/><ellipse cx="397.8" cy="428.1" rx="2.2" ry="0.8" fill="#b81020" fill-opacity="0.10" transform="rotate(48 396.3 427.6)"/><ellipse cx="403.9" cy="425.4" rx="2.4" ry="1.0" fill="#b81020" fill-opacity="0.10" transform="rotate(96 403.3 426.8)"/><ellipse cx="404.3" cy="426.6" rx="1.8" ry="1.2" fill="#b81020" fill-opacity="0.10" transform="rotate(96 403.3 426.8)"/><ellipse cx="363.3" cy="451.2" rx="1.9" ry="0.9" fill="#b81020" fill-opacity="0.10" transform="rotate(179 361.9 451.4)"/><ellipse cx="362.5" cy="451.9" rx="1.9" ry="1.1" fill="#b81020" fill-opacity="0.10" transform="rotate(167 361.9 451.4)"/><ellipse cx="429.3" cy="418.8" rx="2.9" ry="1.0" fill="#b81020" fill-opacity="0.12" transform="rotate(6 428.1 417.6)"/><ellipse cx="427.5" cy="418.0" rx="2.7" ry="1.1" fill="#b81020" fill-opacity="0.12" transform="rotate(125 428.1 417.6)"/><ellipse cx="436.8" cy="415.5" rx="2.3" ry="1.2" fill="#b81020" fill-opacity="0.12" transform="rotate(9 437.3 417.0)"/><ellipse cx="438.4" cy="418.4" rx="1.8" ry="0.9" fill="#b81020" fill-opacity="0.12" transform="rotate(82 437.3 417.0)"/><ellipse cx="440.1" cy="414.2" rx="2.7" ry="0.8" fill="#b81020" fill-opacity="0.12" transform="rotate(4 439.8 415.5)"/><ellipse cx="439.2" cy="416.7" rx="3.1" ry="0.8" fill="#b81020" fill-opacity="0.12" transform="rotate(103 439.8 415.5)"/><ellipse cx="441.2" cy="416.5" rx="2.5" ry="0.8" fill="#b81020" fill-opacity="0.12" transform="rotate(29 441.9 416.7)"/><ellipse cx="441.2" cy="415.3" rx="2.8" ry="0.9" fill="#b81020" fill-opacity="0.12" transform="rotate(141 441.9 416.7)"/><ellipse cx="443.7" cy="419.9" rx="1.9" ry="0.8" fill="#b81020" fill-opacity="0.12" transform="rotate(167 445.1 420.7)"/><ellipse cx="446.2" cy="420.0" rx="2.0" ry="1.3" fill="#b81020" fill-opacity="0.12" transform="rotate(80 445.1 420.7)"/><ellipse cx="446.5" cy="424.4" rx="2.3" ry="1.1" fill="#b81020" fill-opacity="0.12" transform="rotate(25 447.5 423.0)"/><ellipse cx="448.7" cy="422.1" rx="1.9" ry="1.3" fill="#b81020" fill-opacity="0.12" transform="rotate(89 447.5 423.0)"/><ellipse cx="468.0" cy="412.6" rx="1.9" ry="1.1" fill="#b81020" fill-opacity="0.12" transform="rotate(159 468.9 411.5)"/><ellipse cx="468.7" cy="410.8" rx="1.9" ry="0.8" fill="#b81020" fill-opacity="0.12" transform="rotate(26 468.9 411.5)"/><ellipse cx="473.0" cy="416.9" rx="2.6" ry="0.9" fill="#b81020" fill-opacity="0.12" transform="rotate(164 472.0 415.7)"/><ellipse cx="471.1" cy="414.7" rx="2.7" ry="1.3" fill="#b81020" fill-opacity="0.12" transform="rotate(146 472.0 415.7)"/><ellipse cx="474.2" cy="430.6" rx="3.0" ry="0.9" fill="#b81020" fill-opacity="0.12" transform="rotate(162 474.1 430.0)"/><ellipse cx="475.6" cy="430.9" rx="2.9" ry="0.8" fill="#b81020" fill-opacity="0.12" transform="rotate(44 474.1 430.0)"/><ellipse cx="488.5" cy="442.6" rx="2.9" ry="1.3" fill="#b81020" fill-opacity="0.12" transform="rotate(12 488.8 444.1)"/><ellipse cx="488.4" cy="445.6" rx="2.3" ry="1.1" fill="#b81020" fill-opacity="0.12" transform="rotate(86 488.8 444.1)"/><ellipse cx="485.1" cy="448.9" rx="3.2" ry="1.3" fill="#b81020" fill-opacity="0.12" transform="rotate(86 484.3 449.1)"/><ellipse cx="484.9" cy="448.2" rx="2.8" ry="1.1" fill="#b81020" fill-opacity="0.12" transform="rotate(123 484.3 449.1)"/><ellipse cx="480.9" cy="453.7" rx="2.8" ry="1.2" fill="#b81020" fill-opacity="0.12" transform="rotate(93 481.7 453.8)"/><ellipse cx="482.6" cy="453.8" rx="1.9" ry="1.1" fill="#b81020" fill-opacity="0.12" transform="rotate(46 481.7 453.8)"/><ellipse cx="507.1" cy="416.7" rx="1.8" ry="1.0" fill="#b81020" fill-opacity="0.07" transform="rotate(70 507.6 417.8)"/><ellipse cx="506.1" cy="417.0" rx="1.8" ry="0.7" fill="#b81020" fill-opacity="0.07" transform="rotate(154 507.6 417.8)"/><ellipse cx="531.9" cy="431.7" rx="1.6" ry="0.9" fill="#b81020" fill-opacity="0.07" transform="rotate(93 532.1 432.8)"/><ellipse cx="532.4" cy="432.9" rx="2.2" ry="1.0" fill="#b81020" fill-opacity="0.07" transform="rotate(108 532.1 432.8)"/><ellipse cx="606.0" cy="407.7" rx="4.3" ry="2.3" fill="#b81020" fill-opacity="0.40" transform="rotate(146 604.8 408.9)"/><ellipse cx="603.6" cy="409.2" rx="5.3" ry="2.3" fill="#b81020" fill-opacity="0.40" transform="rotate(131 604.8 408.9)"/><ellipse cx="607.8" cy="409.8" rx="5.5" ry="1.7" fill="#b81020" fill-opacity="0.40" transform="rotate(73 609.3 410.0)"/><ellipse cx="609.0" cy="410.7" rx="5.6" ry="1.5" fill="#b81020" fill-opacity="0.40" transform="rotate(109 609.3 410.0)"/><ellipse cx="608.0" cy="416.1" rx="3.5" ry="2.0" fill="#b81020" fill-opacity="0.40" transform="rotate(129 609.3 416.0)"/><ellipse cx="609.1" cy="415.3" rx="4.8" ry="2.1" fill="#b81020" fill-opacity="0.40" transform="rotate(14 609.3 416.0)"/><ellipse cx="602.1" cy="421.9" rx="5.4" ry="2.0" fill="#b81020" fill-opacity="0.40" transform="rotate(72 602.4 423.4)"/><ellipse cx="602.9" cy="422.6" rx="5.6" ry="1.7" fill="#b81020" fill-opacity="0.40" transform="rotate(56 602.4 423.4)"/><ellipse cx="575.0" cy="427.6" rx="5.3" ry="2.0" fill="#b81020" fill-opacity="0.40" transform="rotate(19 574.3 428.6)"/><ellipse cx="574.0" cy="428.4" rx="5.7" ry="2.4" fill="#b81020" fill-opacity="0.40" transform="rotate(121 574.3 428.6)"/><ellipse cx="577.0" cy="430.2" rx="4.5" ry="1.6" fill="#b81020" fill-opacity="0.40" transform="rotate(88 577.7 430.7)"/><ellipse cx="576.3" cy="431.0" rx="4.7" ry="2.3" fill="#b81020" fill-opacity="0.40" transform="rotate(151 577.7 430.7)"/><ellipse cx="582.8" cy="425.4" rx="4.8" ry="2.1" fill="#b81020" fill-opacity="0.40" transform="rotate(5 583.0 425.5)"/><ellipse cx="583.7" cy="425.4" rx="5.0" ry="1.5" fill="#b81020" fill-opacity="0.40" transform="rotate(86 583.0 425.5)"/><ellipse cx="587.2" cy="424.5" rx="3.2" ry="1.8" fill="#b81020" fill-opacity="0.40" transform="rotate(112 586.5 424.9)"/><ellipse cx="585.9" cy="425.2" rx="3.2" ry="2.0" fill="#b81020" fill-opacity="0.40" transform="rotate(36 586.5 424.9)"/><ellipse cx="584.3" cy="428.7" rx="3.9" ry="2.3" fill="#b81020" fill-opacity="0.40" transform="rotate(114 583.5 428.6)"/><ellipse cx="583.5" cy="428.6" rx="3.9" ry="1.8" fill="#b81020" fill-opacity="0.40" transform="rotate(70 583.5 428.6)"/><ellipse cx="587.9" cy="430.7" rx="4.9" ry="1.5" fill="#b81020" fill-opacity="0.40" transform="rotate(61 586.7 429.3)"/><ellipse cx="586.6" cy="429.5" rx="3.3" ry="1.4" fill="#b81020" fill-opacity="0.40" transform="rotate(142 586.7 429.3)"/><ellipse cx="588.7" cy="428.9" rx="4.9" ry="2.3" fill="#b81020" fill-opacity="0.40" transform="rotate(101 588.8 429.1)"/><ellipse cx="589.4" cy="428.8" rx="4.1" ry="2.1" fill="#b81020" fill-opacity="0.40" transform="rotate(150 588.8 429.1)"/><ellipse cx="585.1" cy="433.2" rx="4.5" ry="1.6" fill="#b81020" fill-opacity="0.40" transform="rotate(63 586.5 433.1)"/><ellipse cx="585.4" cy="432.6" rx="3.3" ry="2.5" fill="#b81020" fill-opacity="0.40" transform="rotate(128 586.5 433.1)"/><ellipse cx="596.7" cy="429.4" rx="4.1" ry="1.7" fill="#b81020" fill-opacity="0.40" transform="rotate(55 596.7 429.7)"/><ellipse cx="595.2" cy="428.2" rx="4.4" ry="1.7" fill="#b81020" fill-opacity="0.40" transform="rotate(166 596.7 429.7)"/><ellipse cx="597.1" cy="433.2" rx="5.7" ry="1.5" fill="#b81020" fill-opacity="0.40" transform="rotate(178 597.7 431.8)"/><ellipse cx="596.6" cy="432.7" rx="3.6" ry="1.5" fill="#b81020" fill-opacity="0.40" transform="rotate(157 597.7 431.8)"/><ellipse cx="602.5" cy="431.4" rx="5.8" ry="2.0" fill="#b81020" fill-opacity="0.40" transform="rotate(173 601.6 431.0)"/><ellipse cx="601.5" cy="432.0" rx="5.7" ry="1.9" fill="#b81020" fill-opacity="0.40" transform="rotate(53 601.6 431.0)"/><ellipse cx="605.9" cy="434.7" rx="4.0" ry="2.1" fill="#b81020" fill-opacity="0.40" transform="rotate(90 605.4 435.2)"/><ellipse cx="605.9" cy="435.3" rx="5.0" ry="1.6" fill="#b81020" fill-opacity="0.40" transform="rotate(92 605.4 435.2)"/><ellipse cx="618.7" cy="435.1" rx="4.8" ry="1.7" fill="#b81020" fill-opacity="0.40" transform="rotate(48 619.8 433.9)"/><ellipse cx="619.5" cy="433.4" rx="5.5" ry="1.9" fill="#b81020" fill-opacity="0.40" transform="rotate(20 619.8 433.9)"/><ellipse cx="627.8" cy="430.8" rx="4.3" ry="2.2" fill="#b81020" fill-opacity="0.40" transform="rotate(155 626.6 431.0)"/><ellipse cx="626.7" cy="430.6" rx="5.6" ry="1.8" fill="#b81020" fill-opacity="0.40" transform="rotate(65 626.6 431.0)"/><ellipse cx="628.8" cy="430.9" rx="3.3" ry="1.4" fill="#b81020" fill-opacity="0.40" transform="rotate(72 629.8 429.7)"/><ellipse cx="629.4" cy="429.7" rx="4.7" ry="2.2" fill="#b81020" fill-opacity="0.40" transform="rotate(81 629.8 429.7)"/><ellipse cx="630.2" cy="427.5" rx="5.5" ry="1.6" fill="#b81020" fill-opacity="0.40" transform="rotate(148 631.7 426.5)"/><ellipse cx="632.1" cy="425.9" rx="5.2" ry="1.8" fill="#b81020" fill-opacity="0.40" transform="rotate(154 631.7 426.5)"/><ellipse cx="637.5" cy="425.5" rx="4.1" ry="2.3" fill="#b81020" fill-opacity="0.40" transform="rotate(163 636.6 425.8)"/><ellipse cx="637.4" cy="427.1" rx="3.8" ry="1.6" fill="#b81020" fill-opacity="0.40" transform="rotate(54 636.6 425.8)"/><ellipse cx="632.0" cy="432.6" rx="5.7" ry="1.6" fill="#b81020" fill-opacity="0.40" transform="rotate(116 633.1 431.8)"/><ellipse cx="632.5" cy="432.6" rx="4.5" ry="1.9" fill="#b81020" fill-opacity="0.40" transform="rotate(31 633.1 431.8)"/><ellipse cx="636.4" cy="436.7" rx="4.4" ry="1.6" fill="#b81020" fill-opacity="0.40" transform="rotate(124 636.6 437.0)"/><ellipse cx="635.4" cy="436.3" rx="5.8" ry="2.2" fill="#b81020" fill-opacity="0.40" transform="rotate(5 636.6 437.0)"/><ellipse cx="635.3" cy="440.7" rx="4.2" ry="2.4" fill="#b81020" fill-opacity="0.40" transform="rotate(12 634.5 441.8)"/><ellipse cx="635.5" cy="442.4" rx="5.2" ry="2.4" fill="#b81020" fill-opacity="0.40" transform="rotate(109 634.5 441.8)"/><ellipse cx="639.8" cy="441.5" rx="3.5" ry="2.0" fill="#b81020" fill-opacity="0.40" transform="rotate(160 640.3 441.2)"/><ellipse cx="640.6" cy="440.6" rx="3.8" ry="1.5" fill="#b81020" fill-opacity="0.40" transform="rotate(91 640.3 441.2)"/><ellipse cx="625.4" cy="440.1" rx="5.5" ry="2.3" fill="#b81020" fill-opacity="0.40" transform="rotate(121 624.3 439.4)"/><ellipse cx="623.6" cy="438.2" rx="5.7" ry="2.1" fill="#b81020" fill-opacity="0.40" transform="rotate(168 624.3 439.4)"/><ellipse cx="624.3" cy="443.7" rx="4.0" ry="1.7" fill="#b81020" fill-opacity="0.40" transform="rotate(160 625.6 442.3)"/><ellipse cx="625.0" cy="442.6" rx="3.5" ry="1.8" fill="#b81020" fill-opacity="0.40" transform="rotate(156 625.6 442.3)"/><ellipse cx="621.1" cy="445.4" rx="4.4" ry="1.5" fill="#b81020" fill-opacity="0.40" transform="rotate(90 621.9 444.7)"/><ellipse cx="622.8" cy="443.9" rx="5.4" ry="1.4" fill="#b81020" fill-opacity="0.40" transform="rotate(145 621.9 444.7)"/><ellipse cx="619.2" cy="442.9" rx="4.0" ry="2.3" fill="#b81020" fill-opacity="0.40" transform="rotate(48 618.7 442.0)"/><ellipse cx="618.8" cy="440.5" rx="3.4" ry="2.2" fill="#b81020" fill-opacity="0.40" transform="rotate(143 618.7 442.0)"/><ellipse cx="613.5" cy="438.2" rx="3.5" ry="2.0" fill="#b81020" fill-opacity="0.40" transform="rotate(177 613.5 438.1)"/><ellipse cx="612.6" cy="438.4" rx="5.4" ry="2.1" fill="#b81020" fill-opacity="0.40" transform="rotate(89 613.5 438.1)"/><ellipse cx="613.4" cy="443.0" rx="5.5" ry="2.4" fill="#b81020" fill-opacity="0.40" transform="rotate(146 613.8 442.3)"/><ellipse cx="613.5" cy="443.0" rx="5.3" ry="1.8" fill="#b81020" fill-opacity="0.40" transform="rotate(55 613.8 442.3)"/><ellipse cx="610.3" cy="442.4" rx="3.2" ry="2.2" fill="#b81020" fill-opacity="0.40" transform="rotate(10 610.6 443.3)"/><ellipse cx="611.5" cy="442.9" rx="3.4" ry="1.9" fill="#b81020" fill-opacity="0.40" transform="rotate(119 610.6 443.3)"/><ellipse cx="587.8" cy="442.0" rx="4.6" ry="1.7" fill="#b81020" fill-opacity="0.40" transform="rotate(111 588.8 441.8)"/><ellipse cx="589.3" cy="443.0" rx="4.8" ry="2.4" fill="#b81020" fill-opacity="0.40" transform="rotate(96 588.8 441.8)"/><ellipse cx="596.4" cy="443.8" rx="4.6" ry="1.9" fill="#b81020" fill-opacity="0.40" transform="rotate(158 595.1 443.0)"/><ellipse cx="596.3" cy="441.6" rx="4.3" ry="2.0" fill="#b81020" fill-opacity="0.40" transform="rotate(25 595.1 443.0)"/><ellipse cx="599.7" cy="445.1" rx="4.2" ry="2.5" fill="#b81020" fill-opacity="0.40" transform="rotate(151 600.9 443.6)"/><ellipse cx="600.2" cy="442.8" rx="5.5" ry="2.5" fill="#b81020" fill-opacity="0.40" transform="rotate(149 600.9 443.6)"/><ellipse cx="587.1" cy="446.2" rx="5.8" ry="1.9" fill="#b81020" fill-opacity="0.40" transform="rotate(156 587.2 445.4)"/><ellipse cx="586.6" cy="446.4" rx="5.7" ry="2.0" fill="#b81020" fill-opacity="0.40" transform="rotate(2 587.2 445.4)"/><ellipse cx="589.9" cy="447.3" rx="5.7" ry="1.8" fill="#b81020" fill-opacity="0.40" transform="rotate(160 588.8 448.1)"/><ellipse cx="589.2" cy="448.7" rx="3.6" ry="1.9" fill="#b81020" fill-opacity="0.40" transform="rotate(95 588.8 448.1)"/><ellipse cx="596.5" cy="449.1" rx="3.9" ry="1.9" fill="#b81020" fill-opacity="0.40" transform="rotate(23 595.3 447.9)"/><ellipse cx="596.3" cy="448.2" rx="4.2" ry="2.2" fill="#b81020" fill-opacity="0.40" transform="rotate(57 595.3 447.9)"/><ellipse cx="589.2" cy="451.7" rx="5.3" ry="1.4" fill="#b81020" fill-opacity="0.40" transform="rotate(176 588.6 450.7)"/><ellipse cx="589.2" cy="449.9" rx="5.0" ry="2.0" fill="#b81020" fill-opacity="0.40" transform="rotate(11 588.6 450.7)"/><ellipse cx="595.2" cy="452.3" rx="4.6" ry="1.5" fill="#b81020" fill-opacity="0.40" transform="rotate(72 594.9 451.2)"/><ellipse cx="595.2" cy="451.9" rx="3.7" ry="2.4" fill="#b81020" fill-opacity="0.40" transform="rotate(175 594.9 451.2)"/><ellipse cx="600.4" cy="452.6" rx="3.9" ry="2.2" fill="#b81020" fill-opacity="0.40" transform="rotate(51 601.6 451.4)"/><ellipse cx="600.2" cy="450.6" rx="4.8" ry="1.8" fill="#b81020" fill-opacity="0.40" transform="rotate(162 601.6 451.4)"/><ellipse cx="606.5" cy="450.0" rx="4.3" ry="1.7" fill="#b81020" fill-opacity="0.40" transform="rotate(57 606.1 451.4)"/><ellipse cx="605.1" cy="452.7" rx="4.1" ry="2.3" fill="#b81020" fill-opacity="0.40" transform="rotate(113 606.1 451.4)"/><ellipse cx="616.1" cy="449.2" rx="5.1" ry="2.3" fill="#b81020" fill-opacity="0.40" transform="rotate(163 615.6 449.3)"/><ellipse cx="615.2" cy="449.0" rx="4.2" ry="1.8" fill="#b81020" fill-opacity="0.40" transform="rotate(145 615.6 449.3)"/><ellipse cx="122.3" cy="467.0" rx="1.8" ry="0.7" fill="#b81020" fill-opacity="0.05" transform="rotate(68 120.9 465.9)"/><ellipse cx="121.9" cy="465.0" rx="1.5" ry="1.1" fill="#b81020" fill-opacity="0.05" transform="rotate(176 120.9 465.9)"/><ellipse cx="75.5" cy="502.4" rx="2.6" ry="0.9" fill="#b81020" fill-opacity="0.05" transform="rotate(157 76.6 502.4)"/><ellipse cx="75.9" cy="502.5" rx="2.2" ry="1.1" fill="#b81020" fill-opacity="0.05" transform="rotate(72 76.6 502.4)"/><ellipse cx="152.4" cy="468.0" rx="3.6" ry="1.9" fill="#b81020" fill-opacity="0.40" transform="rotate(139 152.0 467.0)"/><ellipse cx="151.1" cy="467.0" rx="4.9" ry="1.7" fill="#b81020" fill-opacity="0.40" transform="rotate(116 152.0 467.0)"/><ellipse cx="156.0" cy="469.0" rx="4.4" ry="1.9" fill="#b81020" fill-opacity="0.40" transform="rotate(125 157.3 467.5)"/><ellipse cx="158.7" cy="466.7" rx="4.6" ry="2.7" fill="#b81020" fill-opacity="0.40" transform="rotate(21 157.3 467.5)"/><ellipse cx="154.4" cy="470.2" rx="4.1" ry="2.6" fill="#b81020" fill-opacity="0.40" transform="rotate(154 153.7 470.1)"/><ellipse cx="153.5" cy="468.9" rx="6.2" ry="2.7" fill="#b81020" fill-opacity="0.40" transform="rotate(176 153.7 470.1)"/><ellipse cx="138.8" cy="476.4" rx="4.0" ry="1.6" fill="#b81020" fill-opacity="0.40" transform="rotate(72 139.7 475.4)"/><ellipse cx="139.1" cy="474.4" rx="4.6" ry="1.6" fill="#b81020" fill-opacity="0.40" transform="rotate(10 139.7 475.4)"/><ellipse cx="159.1" cy="481.9" rx="6.3" ry="2.3" fill="#b81020" fill-opacity="0.40" transform="rotate(145 160.0 481.2)"/><ellipse cx="159.9" cy="481.3" rx="5.9" ry="1.9" fill="#b81020" fill-opacity="0.40" transform="rotate(131 160.0 481.2)"/><ellipse cx="162.8" cy="482.8" rx="3.6" ry="2.3" fill="#b81020" fill-opacity="0.40" transform="rotate(102 164.2 482.2)"/><ellipse cx="163.9" cy="483.4" rx="4.0" ry="2.3" fill="#b81020" fill-opacity="0.40" transform="rotate(33 164.2 482.2)"/><ellipse cx="170.1" cy="478.9" rx="6.3" ry="1.7" fill="#b81020" fill-opacity="0.40" transform="rotate(60 170.5 480.1)"/><ellipse cx="170.8" cy="479.8" rx="5.8" ry="2.6" fill="#b81020" fill-opacity="0.40" transform="rotate(71 170.5 480.1)"/><ellipse cx="173.2" cy="482.1" rx="4.8" ry="2.4" fill="#b81020" fill-opacity="0.40" transform="rotate(76 174.1 480.7)"/><ellipse cx="174.3" cy="481.4" rx="5.6" ry="1.8" fill="#b81020" fill-opacity="0.40" transform="rotate(166 174.1 480.7)"/><ellipse cx="157.7" cy="485.3" rx="5.8" ry="1.7" fill="#b81020" fill-opacity="0.40" transform="rotate(141 157.1 485.4)"/><ellipse cx="156.1" cy="484.5" rx="4.7" ry="2.0" fill="#b81020" fill-opacity="0.40" transform="rotate(29 157.1 485.4)"/><ellipse cx="153.9" cy="490.9" rx="4.4" ry="1.7" fill="#b81020" fill-opacity="0.40" transform="rotate(56 153.9 490.9)"/><ellipse cx="153.1" cy="492.1" rx="4.9" ry="2.1" fill="#b81020" fill-opacity="0.40" transform="rotate(10 153.9 490.9)"/><ellipse cx="163.4" cy="490.8" rx="4.7" ry="1.9" fill="#b81020" fill-opacity="0.40" transform="rotate(74 163.2 491.7)"/><ellipse cx="162.4" cy="491.1" rx="4.4" ry="2.2" fill="#b81020" fill-opacity="0.40" transform="rotate(92 163.2 491.7)"/><ellipse cx="171.3" cy="492.0" rx="6.2" ry="2.0" fill="#b81020" fill-opacity="0.40" transform="rotate(139 171.3 491.9)"/><ellipse cx="171.8" cy="492.6" rx="5.7" ry="2.0" fill="#b81020" fill-opacity="0.40" transform="rotate(49 171.3 491.9)"/><ellipse cx="159.3" cy="495.7" rx="4.0" ry="1.6" fill="#b81020" fill-opacity="0.40" transform="rotate(76 159.7 495.1)"/><ellipse cx="158.4" cy="495.9" rx="6.2" ry="2.7" fill="#b81020" fill-opacity="0.40" transform="rotate(29 159.7 495.1)"/><ellipse cx="162.0" cy="499.7" rx="4.1" ry="2.3" fill="#b81020" fill-opacity="0.40" transform="rotate(86 163.2 498.2)"/><ellipse cx="162.2" cy="497.4" rx="3.6" ry="1.9" fill="#b81020" fill-opacity="0.40" transform="rotate(150 163.2 498.2)"/><ellipse cx="170.1" cy="500.6" rx="4.7" ry="1.6" fill="#b81020" fill-opacity="0.40" transform="rotate(166 171.0 502.0)"/><ellipse cx="170.4" cy="501.5" rx="5.7" ry="2.7" fill="#b81020" fill-opacity="0.40" transform="rotate(129 171.0 502.0)"/><ellipse cx="182.1" cy="491.0" rx="5.4" ry="1.8" fill="#b81020" fill-opacity="0.40" transform="rotate(44 182.8 490.4)"/><ellipse cx="184.2" cy="490.0" rx="5.2" ry="2.3" fill="#b81020" fill-opacity="0.40" transform="rotate(94 182.8 490.4)"/><ellipse cx="187.2" cy="490.6" rx="4.8" ry="2.4" fill="#b81020" fill-opacity="0.40" transform="rotate(170 186.0 489.8)"/><ellipse cx="185.6" cy="491.0" rx="3.6" ry="2.1" fill="#b81020" fill-opacity="0.40" transform="rotate(77 186.0 489.8)"/><ellipse cx="183.2" cy="493.1" rx="4.0" ry="2.7" fill="#b81020" fill-opacity="0.40" transform="rotate(180 183.6 492.5)"/><ellipse cx="184.7" cy="491.2" rx="6.4" ry="1.7" fill="#b81020" fill-opacity="0.40" transform="rotate(75 183.6 492.5)"/><ellipse cx="194.6" cy="490.5" rx="3.9" ry="2.6" fill="#b81020" fill-opacity="0.40" transform="rotate(153 195.5 491.2)"/><ellipse cx="196.9" cy="492.1" rx="4.6" ry="2.5" fill="#b81020" fill-opacity="0.40" transform="rotate(91 195.5 491.2)"/><ellipse cx="200.5" cy="488.6" rx="5.9" ry="2.6" fill="#b81020" fill-opacity="0.40" transform="rotate(143 201.8 489.6)"/><ellipse cx="202.8" cy="488.9" rx="3.6" ry="2.7" fill="#b81020" fill-opacity="0.40" transform="rotate(142 201.8 489.6)"/><ellipse cx="204.1" cy="489.2" rx="6.1" ry="2.6" fill="#b81020" fill-opacity="0.40" transform="rotate(9 203.9 489.8)"/><ellipse cx="204.6" cy="491.2" rx="4.0" ry="2.1" fill="#b81020" fill-opacity="0.40" transform="rotate(103 203.9 489.8)"/><ellipse cx="183.5" cy="498.4" rx="4.2" ry="2.2" fill="#b81020" fill-opacity="0.40" transform="rotate(58 182.5 499.1)"/><ellipse cx="183.9" cy="498.6" rx="5.4" ry="2.0" fill="#b81020" fill-opacity="0.40" transform="rotate(65 182.5 499.1)"/><ellipse cx="187.1" cy="461.8" rx="5.1" ry="1.6" fill="#b81020" fill-opacity="0.40" transform="rotate(153 186.0 461.0)"/><ellipse cx="186.3" cy="462.2" rx="5.1" ry="2.1" fill="#b81020" fill-opacity="0.40" transform="rotate(66 186.0 461.0)"/><ellipse cx="190.6" cy="462.3" rx="5.1" ry="1.7" fill="#b81020" fill-opacity="0.40" transform="rotate(109 189.7 461.2)"/><ellipse cx="189.8" cy="461.4" rx="6.3" ry="2.4" fill="#b81020" fill-opacity="0.40" transform="rotate(66 189.7 461.2)"/><ellipse cx="192.2" cy="458.5" rx="4.4" ry="1.5" fill="#b81020" fill-opacity="0.40" transform="rotate(34 191.8 459.6)"/><ellipse cx="191.0" cy="459.7" rx="3.7" ry="2.5" fill="#b81020" fill-opacity="0.40" transform="rotate(168 191.8 459.6)"/><ellipse cx="195.9" cy="461.3" rx="5.6" ry="2.1" fill="#b81020" fill-opacity="0.40" transform="rotate(110 194.4 461.7)"/><ellipse cx="195.0" cy="460.5" rx="5.4" ry="1.8" fill="#b81020" fill-opacity="0.40" transform="rotate(69 194.4 461.7)"/><ellipse cx="192.8" cy="464.3" rx="5.2" ry="1.5" fill="#b81020" fill-opacity="0.40" transform="rotate(91 191.3 463.8)"/><ellipse cx="190.0" cy="463.3" rx="3.8" ry="1.7" fill="#b81020" fill-opacity="0.40" transform="rotate(78 191.3 463.8)"/><ellipse cx="223.3" cy="461.4" rx="4.5" ry="1.5" fill="#b81020" fill-opacity="0.38" transform="rotate(149 222.2 461.7)"/><ellipse cx="222.4" cy="463.1" rx="4.9" ry="2.3" fill="#b81020" fill-opacity="0.38" transform="rotate(27 222.2 461.7)"/><ellipse cx="220.4" cy="464.8" rx="4.4" ry="1.4" fill="#b81020" fill-opacity="0.38" transform="rotate(38 220.6 464.2)"/><ellipse cx="221.3" cy="465.0" rx="3.4" ry="1.4" fill="#b81020" fill-opacity="0.38" transform="rotate(77 220.6 464.2)"/><ellipse cx="219.6" cy="465.9" rx="3.1" ry="2.2" fill="#b81020" fill-opacity="0.38" transform="rotate(177 219.8 467.3)"/><ellipse cx="219.0" cy="465.9" rx="3.7" ry="2.3" fill="#b81020" fill-opacity="0.38" transform="rotate(157 219.8 467.3)"/><ellipse cx="224.7" cy="468.4" rx="5.3" ry="2.2" fill="#b81020" fill-opacity="0.38" transform="rotate(112 224.0 467.0)"/><ellipse cx="225.2" cy="467.3" rx="5.2" ry="1.6" fill="#b81020" fill-opacity="0.38" transform="rotate(174 224.0 467.0)"/><ellipse cx="223.7" cy="471.6" rx="3.5" ry="1.7" fill="#b81020" fill-opacity="0.38" transform="rotate(22 224.0 473.0)"/><ellipse cx="223.9" cy="474.1" rx="3.5" ry="1.6" fill="#b81020" fill-opacity="0.38" transform="rotate(60 224.0 473.0)"/><ellipse cx="226.6" cy="477.6" rx="4.2" ry="1.9" fill="#b81020" fill-opacity="0.38" transform="rotate(174 226.1 476.1)"/><ellipse cx="226.6" cy="476.3" rx="4.9" ry="1.9" fill="#b81020" fill-opacity="0.38" transform="rotate(6 226.1 476.1)"/><ellipse cx="214.1" cy="474.0" rx="4.2" ry="2.4" fill="#b81020" fill-opacity="0.38" transform="rotate(145 214.3 474.4)"/><ellipse cx="215.4" cy="473.8" rx="4.8" ry="1.7" fill="#b81020" fill-opacity="0.38" transform="rotate(33 214.3 474.4)"/><ellipse cx="217.4" cy="472.8" rx="4.2" ry="2.1" fill="#b81020" fill-opacity="0.38" transform="rotate(68 217.7 473.8)"/><ellipse cx="217.9" cy="473.6" rx="4.0" ry="1.8" fill="#b81020" fill-opacity="0.38" transform="rotate(6 217.7 473.8)"/><ellipse cx="214.3" cy="477.7" rx="4.8" ry="1.7" fill="#b81020" fill-opacity="0.38" transform="rotate(4 215.6 478.0)"/><ellipse cx="215.7" cy="477.0" rx="4.7" ry="1.4" fill="#b81020" fill-opacity="0.38" transform="rotate(73 215.6 478.0)"/><ellipse cx="220.7" cy="480.4" rx="5.2" ry="2.0" fill="#b81020" fill-opacity="0.38" transform="rotate(62 220.4 479.3)"/><ellipse cx="220.9" cy="479.4" rx="3.1" ry="2.3" fill="#b81020" fill-opacity="0.38" transform="rotate(63 220.4 479.3)"/><ellipse cx="226.0" cy="480.4" rx="4.7" ry="2.2" fill="#b81020" fill-opacity="0.38" transform="rotate(80 225.7 481.4)"/><ellipse cx="225.7" cy="482.3" rx="5.4" ry="2.1" fill="#b81020" fill-opacity="0.38" transform="rotate(23 225.7 481.4)"/><ellipse cx="215.1" cy="481.5" rx="4.9" ry="2.1" fill="#b81020" fill-opacity="0.38" transform="rotate(35 216.2 482.2)"/><ellipse cx="215.5" cy="482.3" rx="4.2" ry="2.3" fill="#b81020" fill-opacity="0.38" transform="rotate(101 216.2 482.2)"/><ellipse cx="219.9" cy="482.6" rx="4.7" ry="2.3" fill="#b81020" fill-opacity="0.38" transform="rotate(7 218.5 482.8)"/><ellipse cx="217.5" cy="481.7" rx="3.6" ry="1.4" fill="#b81020" fill-opacity="0.38" transform="rotate(26 218.5 482.8)"/><ellipse cx="223.9" cy="485.3" rx="4.0" ry="1.8" fill="#b81020" fill-opacity="0.38" transform="rotate(111 223.8 485.4)"/><ellipse cx="222.5" cy="484.4" rx="3.1" ry="1.5" fill="#b81020" fill-opacity="0.38" transform="rotate(105 223.8 485.4)"/><ellipse cx="231.2" cy="485.3" rx="3.5" ry="1.7" fill="#b81020" fill-opacity="0.38" transform="rotate(20 230.1 484.5)"/><ellipse cx="229.7" cy="484.8" rx="3.6" ry="2.2" fill="#b81020" fill-opacity="0.38" transform="rotate(85 230.1 484.5)"/><ellipse cx="233.2" cy="484.6" rx="5.1" ry="2.1" fill="#b81020" fill-opacity="0.38" transform="rotate(47 233.2 484.9)"/><ellipse cx="233.0" cy="484.7" rx="3.3" ry="1.7" fill="#b81020" fill-opacity="0.38" transform="rotate(91 233.2 484.9)"/><ellipse cx="234.4" cy="491.7" rx="5.1" ry="1.4" fill="#b81020" fill-opacity="0.38" transform="rotate(93 233.2 490.4)"/><ellipse cx="234.5" cy="489.8" rx="3.8" ry="1.9" fill="#b81020" fill-opacity="0.38" transform="rotate(172 233.2 490.4)"/><ellipse cx="234.9" cy="478.7" rx="3.2" ry="2.3" fill="#b81020" fill-opacity="0.38" transform="rotate(114 235.5 478.9)"/><ellipse cx="234.1" cy="478.6" rx="3.6" ry="1.6" fill="#b81020" fill-opacity="0.38" transform="rotate(69 235.5 478.9)"/><ellipse cx="240.3" cy="468.1" rx="3.1" ry="2.1" fill="#b81020" fill-opacity="0.38" transform="rotate(67 239.5 468.4)"/><ellipse cx="240.5" cy="468.8" rx="4.5" ry="1.5" fill="#b81020" fill-opacity="0.38" transform="rotate(139 239.5 468.4)"/><ellipse cx="238.1" cy="472.2" rx="3.3" ry="2.0" fill="#b81020" fill-opacity="0.38" transform="rotate(94 238.7 473.6)"/><ellipse cx="237.3" cy="474.8" rx="5.1" ry="1.5" fill="#b81020" fill-opacity="0.38" transform="rotate(165 238.7 473.6)"/><ellipse cx="243.6" cy="474.0" rx="4.5" ry="2.0" fill="#b81020" fill-opacity="0.38" transform="rotate(10 242.2 475.4)"/><ellipse cx="242.3" cy="474.1" rx="4.5" ry="2.0" fill="#b81020" fill-opacity="0.38" transform="rotate(11 242.2 475.4)"/><ellipse cx="246.7" cy="469.9" rx="4.8" ry="2.0" fill="#b81020" fill-opacity="0.38" transform="rotate(123 245.6 470.5)"/><ellipse cx="245.5" cy="471.5" rx="4.8" ry="1.6" fill="#b81020" fill-opacity="0.38" transform="rotate(114 245.6 470.5)"/><ellipse cx="244.4" cy="475.9" rx="4.8" ry="2.3" fill="#b81020" fill-opacity="0.38" transform="rotate(52 245.3 476.5)"/><ellipse cx="244.3" cy="476.3" rx="4.4" ry="1.9" fill="#b81020" fill-opacity="0.38" transform="rotate(177 245.3 476.5)"/><ellipse cx="246.9" cy="479.8" rx="5.3" ry="1.8" fill="#b81020" fill-opacity="0.38" transform="rotate(34 245.9 478.9)"/><ellipse cx="246.7" cy="480.2" rx="4.5" ry="1.7" fill="#b81020" fill-opacity="0.38" transform="rotate(94 245.9 478.9)"/><ellipse cx="251.2" cy="476.4" rx="3.9" ry="1.9" fill="#b81020" fill-opacity="0.38" transform="rotate(59 249.9 476.1)"/><ellipse cx="249.4" cy="475.3" rx="4.7" ry="1.3" fill="#b81020" fill-opacity="0.38" transform="rotate(90 249.9 476.1)"/><ellipse cx="250.9" cy="479.1" rx="3.5" ry="2.3" fill="#b81020" fill-opacity="0.38" transform="rotate(61 249.5 479.1)"/><ellipse cx="250.9" cy="477.6" rx="4.1" ry="1.8" fill="#b81020" fill-opacity="0.38" transform="rotate(179 249.5 479.1)"/><ellipse cx="247.7" cy="482.3" rx="3.7" ry="1.7" fill="#b81020" fill-opacity="0.38" transform="rotate(37 248.2 483.1)"/><ellipse cx="249.2" cy="482.1" rx="5.0" ry="1.9" fill="#b81020" fill-opacity="0.38" transform="rotate(170 248.2 483.1)"/><ellipse cx="266.5" cy="486.3" rx="4.1" ry="2.0" fill="#b81020" fill-opacity="0.38" transform="rotate(7 267.9 485.9)"/><ellipse cx="268.6" cy="487.2" rx="4.2" ry="2.3" fill="#b81020" fill-opacity="0.38" transform="rotate(101 267.9 485.9)"/><ellipse cx="271.3" cy="487.9" rx="4.8" ry="1.5" fill="#b81020" fill-opacity="0.38" transform="rotate(116 271.1 487.7)"/><ellipse cx="270.0" cy="487.8" rx="3.9" ry="1.4" fill="#b81020" fill-opacity="0.38" transform="rotate(141 271.1 487.7)"/><ellipse cx="273.9" cy="489.8" rx="4.0" ry="1.5" fill="#b81020" fill-opacity="0.38" transform="rotate(108 274.5 488.5)"/><ellipse cx="275.7" cy="487.8" rx="3.1" ry="1.9" fill="#b81020" fill-opacity="0.38" transform="rotate(50 274.5 488.5)"/><ellipse cx="255.9" cy="492.0" rx="3.9" ry="1.3" fill="#b81020" fill-opacity="0.38" transform="rotate(4 255.8 492.8)"/><ellipse cx="256.5" cy="492.4" rx="5.1" ry="1.5" fill="#b81020" fill-opacity="0.38" transform="rotate(10 255.8 492.8)"/><ellipse cx="259.6" cy="493.5" rx="5.4" ry="1.5" fill="#b81020" fill-opacity="0.38" transform="rotate(60 259.5 494.3)"/><ellipse cx="259.3" cy="495.3" rx="3.8" ry="1.4" fill="#b81020" fill-opacity="0.38" transform="rotate(29 259.5 494.3)"/><ellipse cx="253.2" cy="497.8" rx="3.6" ry="2.2" fill="#b81020" fill-opacity="0.38" transform="rotate(128 254.1 497.2)"/><ellipse cx="252.9" cy="496.9" rx="5.0" ry="1.5" fill="#b81020" fill-opacity="0.38" transform="rotate(107 254.1 497.2)"/><ellipse cx="260.3" cy="502.6" rx="3.2" ry="1.5" fill="#b81020" fill-opacity="0.38" transform="rotate(19 261.6 504.1)"/><ellipse cx="263.0" cy="504.3" rx="3.4" ry="2.3" fill="#b81020" fill-opacity="0.38" transform="rotate(31 261.6 504.1)"/><ellipse cx="276.1" cy="501.2" rx="3.9" ry="1.9" fill="#b81020" fill-opacity="0.38" transform="rotate(23 276.3 501.2)"/><ellipse cx="276.7" cy="501.4" rx="5.1" ry="1.4" fill="#b81020" fill-opacity="0.38" transform="rotate(1 276.3 501.2)"/><ellipse cx="305.5" cy="462.8" rx="3.8" ry="1.7" fill="#b81020" fill-opacity="0.20" transform="rotate(33 306.0 461.4)"/><ellipse cx="305.2" cy="462.4" rx="3.1" ry="1.7" fill="#b81020" fill-opacity="0.20" transform="rotate(84 306.0 461.4)"/><ellipse cx="296.8" cy="466.8" rx="3.4" ry="1.6" fill="#b81020" fill-opacity="0.20" transform="rotate(63 295.9 467.3)"/><ellipse cx="297.3" cy="466.3" rx="3.9" ry="1.1" fill="#b81020" fill-opacity="0.20" transform="rotate(54 295.9 467.3)"/><ellipse cx="298.7" cy="467.1" rx="2.5" ry="1.7" fill="#b81020" fill-opacity="0.20" transform="rotate(53 299.1 466.7)"/><ellipse cx="297.7" cy="468.1" rx="3.9" ry="1.3" fill="#b81020" fill-opacity="0.20" transform="rotate(31 299.1 466.7)"/><ellipse cx="302.5" cy="466.9" rx="3.2" ry="1.6" fill="#b81020" fill-opacity="0.20" transform="rotate(97 302.2 466.5)"/><ellipse cx="302.1" cy="467.7" rx="3.8" ry="1.9" fill="#b81020" fill-opacity="0.20" transform="rotate(74 302.2 466.5)"/><ellipse cx="322.9" cy="460.3" rx="4.4" ry="1.6" fill="#b81020" fill-opacity="0.20" transform="rotate(2 321.5 460.4)"/><ellipse cx="322.3" cy="459.3" rx="4.1" ry="1.9" fill="#b81020" fill-opacity="0.20" transform="rotate(159 321.5 460.4)"/><ellipse cx="325.7" cy="464.1" rx="4.2" ry="1.8" fill="#b81020" fill-opacity="0.20" transform="rotate(65 325.7 463.1)"/><ellipse cx="325.3" cy="464.0" rx="3.5" ry="1.6" fill="#b81020" fill-opacity="0.20" transform="rotate(55 325.7 463.1)"/><ellipse cx="333.3" cy="463.1" rx="2.6" ry="1.1" fill="#b81020" fill-opacity="0.20" transform="rotate(7 332.3 462.0)"/><ellipse cx="332.5" cy="463.1" rx="4.2" ry="1.8" fill="#b81020" fill-opacity="0.20" transform="rotate(108 332.3 462.0)"/><ellipse cx="316.5" cy="469.5" rx="4.2" ry="1.5" fill="#b81020" fill-opacity="0.20" transform="rotate(180 316.2 468.6)"/><ellipse cx="316.0" cy="468.4" rx="3.6" ry="1.5" fill="#b81020" fill-opacity="0.20" transform="rotate(114 316.2 468.6)"/><ellipse cx="336.2" cy="467.4" rx="3.6" ry="1.1" fill="#b81020" fill-opacity="0.20" transform="rotate(107 335.9 468.4)"/><ellipse cx="334.9" cy="467.9" rx="3.7" ry="1.3" fill="#b81020" fill-opacity="0.20" transform="rotate(40 335.9 468.4)"/><ellipse cx="341.3" cy="469.2" rx="4.0" ry="1.5" fill="#b81020" fill-opacity="0.20" transform="rotate(162 341.8 469.4)"/><ellipse cx="340.7" cy="469.9" rx="4.5" ry="1.9" fill="#b81020" fill-opacity="0.20" transform="rotate(1 341.8 469.4)"/><ellipse cx="347.0" cy="481.9" rx="2.9" ry="1.3" fill="#b81020" fill-opacity="0.20" transform="rotate(59 347.5 481.0)"/><ellipse cx="347.3" cy="480.0" rx="4.2" ry="1.5" fill="#b81020" fill-opacity="0.20" transform="rotate(32 347.5 481.0)"/><ellipse cx="328.7" cy="484.6" rx="2.7" ry="1.4" fill="#b81020" fill-opacity="0.20" transform="rotate(12 328.1 484.1)"/><ellipse cx="327.0" cy="483.0" rx="4.2" ry="1.1" fill="#b81020" fill-opacity="0.20" transform="rotate(20 328.1 484.1)"/><ellipse cx="332.2" cy="482.0" rx="3.1" ry="1.4" fill="#b81020" fill-opacity="0.20" transform="rotate(107 332.7 483.3)"/><ellipse cx="332.9" cy="484.5" rx="2.5" ry="1.2" fill="#b81020" fill-opacity="0.20" transform="rotate(102 332.7 483.3)"/><ellipse cx="326.0" cy="486.0" rx="3.9" ry="1.3" fill="#b81020" fill-opacity="0.20" transform="rotate(36 325.4 486.7)"/><ellipse cx="324.1" cy="486.1" rx="2.6" ry="1.8" fill="#b81020" fill-opacity="0.20" transform="rotate(2 325.4 486.7)"/><ellipse cx="321.8" cy="487.6" rx="3.3" ry="1.3" fill="#b81020" fill-opacity="0.20" transform="rotate(87 320.7 488.3)"/><ellipse cx="321.7" cy="489.6" rx="2.7" ry="1.3" fill="#b81020" fill-opacity="0.20" transform="rotate(7 320.7 488.3)"/><ellipse cx="334.8" cy="492.0" rx="4.0" ry="1.7" fill="#b81020" fill-opacity="0.20" transform="rotate(132 334.8 491.2)"/><ellipse cx="333.5" cy="490.6" rx="3.1" ry="1.1" fill="#b81020" fill-opacity="0.20" transform="rotate(33 334.8 491.2)"/><ellipse cx="333.0" cy="494.7" rx="4.1" ry="1.3" fill="#b81020" fill-opacity="0.20" transform="rotate(102 333.1 493.8)"/><ellipse cx="334.3" cy="493.2" rx="3.6" ry="1.3" fill="#b81020" fill-opacity="0.20" transform="rotate(107 333.1 493.8)"/><ellipse cx="284.8" cy="487.8" rx="4.5" ry="1.3" fill="#b81020" fill-opacity="0.20" transform="rotate(1 286.0 488.5)"/><ellipse cx="286.8" cy="489.4" rx="3.6" ry="1.6" fill="#b81020" fill-opacity="0.20" transform="rotate(138 286.0 488.5)"/><ellipse cx="291.6" cy="489.8" rx="2.7" ry="1.9" fill="#b81020" fill-opacity="0.20" transform="rotate(134 290.3 490.4)"/><ellipse cx="290.3" cy="489.1" rx="2.5" ry="1.7" fill="#b81020" fill-opacity="0.20" transform="rotate(175 290.3 490.4)"/><ellipse cx="298.2" cy="490.9" rx="3.2" ry="1.7" fill="#b81020" fill-opacity="0.20" transform="rotate(103 297.0 490.1)"/><ellipse cx="296.7" cy="490.5" rx="3.3" ry="1.3" fill="#b81020" fill-opacity="0.20" transform="rotate(57 297.0 490.1)"/><ellipse cx="312.6" cy="494.9" rx="3.3" ry="1.5" fill="#b81020" fill-opacity="0.20" transform="rotate(112 313.8 493.8)"/><ellipse cx="314.2" cy="493.0" rx="2.7" ry="1.8" fill="#b81020" fill-opacity="0.20" transform="rotate(38 313.8 493.8)"/><ellipse cx="295.7" cy="498.2" rx="3.5" ry="1.7" fill="#b81020" fill-opacity="0.20" transform="rotate(147 295.7 497.2)"/><ellipse cx="294.2" cy="496.5" rx="3.5" ry="1.5" fill="#b81020" fill-opacity="0.20" transform="rotate(37 295.7 497.2)"/><ellipse cx="300.8" cy="497.4" rx="3.3" ry="1.8" fill="#b81020" fill-opacity="0.20" transform="rotate(40 299.4 496.1)"/><ellipse cx="298.7" cy="494.7" rx="3.7" ry="1.3" fill="#b81020" fill-opacity="0.20" transform="rotate(169 299.4 496.1)"/><ellipse cx="301.9" cy="498.0" rx="4.2" ry="1.8" fill="#b81020" fill-opacity="0.20" transform="rotate(121 303.1 498.9)"/><ellipse cx="302.3" cy="497.9" rx="3.0" ry="1.9" fill="#b81020" fill-opacity="0.20" transform="rotate(35 303.1 498.9)"/><ellipse cx="311.7" cy="502.6" rx="3.5" ry="1.1" fill="#b81020" fill-opacity="0.20" transform="rotate(97 310.7 502.0)"/><ellipse cx="310.3" cy="501.9" rx="3.8" ry="1.2" fill="#b81020" fill-opacity="0.20" transform="rotate(51 310.7 502.0)"/><ellipse cx="314.4" cy="499.9" rx="4.1" ry="1.3" fill="#b81020" fill-opacity="0.20" transform="rotate(36 314.1 500.3)"/><ellipse cx="314.6" cy="499.8" rx="4.0" ry="1.2" fill="#b81020" fill-opacity="0.20" transform="rotate(12 314.1 500.3)"/><ellipse cx="414.4" cy="465.5" rx="3.0" ry="1.0" fill="#b81020" fill-opacity="0.12" transform="rotate(87 415.9 464.6)"/><ellipse cx="416.8" cy="463.7" rx="3.2" ry="1.1" fill="#b81020" fill-opacity="0.12" transform="rotate(162 415.9 464.6)"/><ellipse cx="406.3" cy="464.0" rx="3.1" ry="0.9" fill="#b81020" fill-opacity="0.12" transform="rotate(25 406.8 464.4)"/><ellipse cx="406.4" cy="465.5" rx="1.8" ry="1.3" fill="#b81020" fill-opacity="0.12" transform="rotate(77 406.8 464.4)"/><ellipse cx="357.6" cy="475.4" rx="2.8" ry="1.1" fill="#b81020" fill-opacity="0.12" transform="rotate(56 359.1 475.7)"/><ellipse cx="359.5" cy="476.8" rx="3.2" ry="1.3" fill="#b81020" fill-opacity="0.12" transform="rotate(154 359.1 475.7)"/><ellipse cx="356.7" cy="481.2" rx="2.7" ry="1.1" fill="#b81020" fill-opacity="0.12" transform="rotate(132 355.9 482.0)"/><ellipse cx="356.3" cy="481.4" rx="2.9" ry="0.9" fill="#b81020" fill-opacity="0.12" transform="rotate(149 355.9 482.0)"/><ellipse cx="355.4" cy="484.5" rx="2.3" ry="1.1" fill="#b81020" fill-opacity="0.12" transform="rotate(63 355.9 484.5)"/><ellipse cx="357.3" cy="484.9" rx="3.2" ry="1.0" fill="#b81020" fill-opacity="0.12" transform="rotate(121 355.9 484.5)"/><ellipse cx="378.3" cy="481.3" rx="2.3" ry="0.8" fill="#b81020" fill-opacity="0.12" transform="rotate(146 377.0 482.2)"/><ellipse cx="377.8" cy="481.5" rx="1.8" ry="1.0" fill="#b81020" fill-opacity="0.12" transform="rotate(118 377.0 482.2)"/><ellipse cx="380.7" cy="489.9" rx="2.6" ry="0.8" fill="#b81020" fill-opacity="0.12" transform="rotate(145 380.1 489.4)"/><ellipse cx="379.2" cy="489.4" rx="2.1" ry="0.9" fill="#b81020" fill-opacity="0.12" transform="rotate(137 380.1 489.4)"/><ellipse cx="370.8" cy="492.6" rx="2.5" ry="0.8" fill="#b81020" fill-opacity="0.12" transform="rotate(4 369.6 493.0)"/><ellipse cx="369.9" cy="492.2" rx="2.1" ry="1.2" fill="#b81020" fill-opacity="0.12" transform="rotate(9 369.6 493.0)"/><ellipse cx="417.3" cy="493.0" rx="2.1" ry="1.2" fill="#b81020" fill-opacity="0.12" transform="rotate(97 418.7 492.8)"/><ellipse cx="419.6" cy="491.5" rx="2.7" ry="1.1" fill="#b81020" fill-opacity="0.12" transform="rotate(77 418.7 492.8)"/><ellipse cx="435.1" cy="458.7" rx="3.1" ry="1.5" fill="#b81020" fill-opacity="0.15" transform="rotate(102 435.9 459.6)"/><ellipse cx="435.1" cy="460.7" rx="2.4" ry="1.4" fill="#b81020" fill-opacity="0.15" transform="rotate(113 435.9 459.6)"/><ellipse cx="431.1" cy="463.5" rx="2.7" ry="1.0" fill="#b81020" fill-opacity="0.15" transform="rotate(159 432.5 464.6)"/><ellipse cx="432.2" cy="463.6" rx="3.6" ry="1.4" fill="#b81020" fill-opacity="0.15" transform="rotate(161 432.5 464.6)"/><ellipse cx="428.8" cy="468.0" rx="2.5" ry="1.4" fill="#b81020" fill-opacity="0.15" transform="rotate(66 429.3 467.5)"/><ellipse cx="430.5" cy="467.5" rx="3.9" ry="1.1" fill="#b81020" fill-opacity="0.15" transform="rotate(98 429.3 467.5)"/><ellipse cx="467.8" cy="463.0" rx="3.0" ry="1.6" fill="#b81020" fill-opacity="0.15" transform="rotate(77 467.5 463.1)"/><ellipse cx="467.1" cy="462.3" rx="3.7" ry="1.6" fill="#b81020" fill-opacity="0.15" transform="rotate(111 467.5 463.1)"/><ellipse cx="470.5" cy="462.1" rx="2.9" ry="1.1" fill="#b81020" fill-opacity="0.15" transform="rotate(106 470.3 461.7)"/><ellipse cx="471.0" cy="461.1" rx="2.6" ry="1.0" fill="#b81020" fill-opacity="0.15" transform="rotate(69 470.3 461.7)"/><ellipse cx="472.1" cy="459.9" rx="2.1" ry="1.1" fill="#b81020" fill-opacity="0.15" transform="rotate(166 473.1 460.4)"/><ellipse cx="472.0" cy="460.0" rx="2.4" ry="1.2" fill="#b81020" fill-opacity="0.15" transform="rotate(65 473.1 460.4)"/><ellipse cx="460.2" cy="466.5" rx="3.5" ry="1.4" fill="#b81020" fill-opacity="0.15" transform="rotate(129 460.1 467.3)"/><ellipse cx="461.6" cy="465.9" rx="3.7" ry="1.1" fill="#b81020" fill-opacity="0.15" transform="rotate(140 460.1 467.3)"/><ellipse cx="458.6" cy="469.5" rx="3.5" ry="0.9" fill="#b81020" fill-opacity="0.15" transform="rotate(172 458.0 470.5)"/><ellipse cx="458.4" cy="470.8" rx="2.7" ry="1.6" fill="#b81020" fill-opacity="0.15" transform="rotate(61 458.0 470.5)"/><ellipse cx="463.0" cy="466.9" rx="2.8" ry="1.1" fill="#b81020" fill-opacity="0.15" transform="rotate(56 463.3 468.0)"/><ellipse cx="464.4" cy="469.4" rx="2.7" ry="1.6" fill="#b81020" fill-opacity="0.15" transform="rotate(86 463.3 468.0)"/><ellipse cx="465.0" cy="468.2" rx="2.3" ry="1.0" fill="#b81020" fill-opacity="0.15" transform="rotate(113 466.4 468.0)"/><ellipse cx="467.5" cy="468.5" rx="3.7" ry="1.6" fill="#b81020" fill-opacity="0.15" transform="rotate(74 466.4 468.0)"/><ellipse cx="474.2" cy="465.5" rx="2.4" ry="0.9" fill="#b81020" fill-opacity="0.15" transform="rotate(82 474.1 466.7)"/><ellipse cx="473.6" cy="467.8" rx="2.7" ry="1.2" fill="#b81020" fill-opacity="0.15" transform="rotate(106 474.1 466.7)"/><ellipse cx="475.9" cy="469.7" rx="2.2" ry="1.1" fill="#b81020" fill-opacity="0.15" transform="rotate(165 474.8 468.8)"/><ellipse cx="473.8" cy="469.2" rx="3.8" ry="1.5" fill="#b81020" fill-opacity="0.15" transform="rotate(38 474.8 468.8)"/><ellipse cx="474.1" cy="471.4" rx="2.7" ry="1.3" fill="#b81020" fill-opacity="0.15" transform="rotate(6 473.3 471.2)"/><ellipse cx="474.6" cy="472.4" rx="3.1" ry="1.3" fill="#b81020" fill-opacity="0.15" transform="rotate(63 473.3 471.2)"/><ellipse cx="474.2" cy="473.4" rx="2.5" ry="1.4" fill="#b81020" fill-opacity="0.15" transform="rotate(19 473.5 473.6)"/><ellipse cx="474.6" cy="474.5" rx="2.4" ry="1.1" fill="#b81020" fill-opacity="0.15" transform="rotate(71 473.5 473.6)"/><ellipse cx="489.0" cy="462.7" rx="3.8" ry="1.2" fill="#b81020" fill-opacity="0.15" transform="rotate(109 488.5 463.1)"/><ellipse cx="489.6" cy="463.3" rx="3.4" ry="1.6" fill="#b81020" fill-opacity="0.15" transform="rotate(166 488.5 463.1)"/><ellipse cx="496.4" cy="465.3" rx="3.4" ry="1.2" fill="#b81020" fill-opacity="0.15" transform="rotate(18 495.9 463.8)"/><ellipse cx="494.4" cy="462.9" rx="3.9" ry="1.3" fill="#b81020" fill-opacity="0.15" transform="rotate(56 495.9 463.8)"/><ellipse cx="491.6" cy="466.7" rx="2.2" ry="1.1" fill="#b81020" fill-opacity="0.15" transform="rotate(86 492.0 466.7)"/><ellipse cx="493.1" cy="468.0" rx="3.1" ry="1.2" fill="#b81020" fill-opacity="0.15" transform="rotate(38 492.0 466.7)"/><ellipse cx="486.7" cy="471.7" rx="2.6" ry="1.4" fill="#b81020" fill-opacity="0.15" transform="rotate(72 487.8 470.9)"/><ellipse cx="488.5" cy="471.5" rx="2.5" ry="1.0" fill="#b81020" fill-opacity="0.15" transform="rotate(84 487.8 470.9)"/><ellipse cx="494.2" cy="470.2" rx="2.5" ry="1.0" fill="#b81020" fill-opacity="0.15" transform="rotate(108 494.8 469.8)"/><ellipse cx="495.4" cy="469.6" rx="3.9" ry="1.6" fill="#b81020" fill-opacity="0.15" transform="rotate(53 494.8 469.8)"/><ellipse cx="492.8" cy="473.5" rx="3.7" ry="1.2" fill="#b81020" fill-opacity="0.15" transform="rotate(77 493.2 472.8)"/><ellipse cx="492.7" cy="474.2" rx="3.7" ry="1.1" fill="#b81020" fill-opacity="0.15" transform="rotate(141 493.2 472.8)"/><ellipse cx="490.9" cy="475.3" rx="3.1" ry="1.5" fill="#b81020" fill-opacity="0.15" transform="rotate(76 491.4 474.7)"/><ellipse cx="490.1" cy="473.6" rx="3.5" ry="1.1" fill="#b81020" fill-opacity="0.15" transform="rotate(165 491.4 474.7)"/><ellipse cx="445.4" cy="476.5" rx="2.7" ry="1.5" fill="#b81020" fill-opacity="0.15" transform="rotate(157 444.7 475.7)"/><ellipse cx="443.3" cy="474.9" rx="2.4" ry="1.1" fill="#b81020" fill-opacity="0.15" transform="rotate(81 444.7 475.7)"/><ellipse cx="443.2" cy="477.2" rx="3.6" ry="1.0" fill="#b81020" fill-opacity="0.15" transform="rotate(170 443.8 478.0)"/><ellipse cx="444.7" cy="478.2" rx="2.1" ry="1.4" fill="#b81020" fill-opacity="0.15" transform="rotate(89 443.8 478.0)"/><ellipse cx="439.7" cy="479.6" rx="2.8" ry="1.0" fill="#b81020" fill-opacity="0.15" transform="rotate(54 439.6 478.9)"/><ellipse cx="440.7" cy="479.0" rx="3.0" ry="1.4" fill="#b81020" fill-opacity="0.15" transform="rotate(132 439.6 478.9)"/><ellipse cx="442.8" cy="482.2" rx="2.1" ry="1.5" fill="#b81020" fill-opacity="0.15" transform="rotate(27 443.8 482.4)"/><ellipse cx="444.8" cy="482.0" rx="3.1" ry="1.0" fill="#b81020" fill-opacity="0.15" transform="rotate(99 443.8 482.4)"/><ellipse cx="452.6" cy="481.0" rx="2.8" ry="1.1" fill="#b81020" fill-opacity="0.15" transform="rotate(123 451.7 480.7)"/><ellipse cx="450.6" cy="480.6" rx="2.9" ry="1.3" fill="#b81020" fill-opacity="0.15" transform="rotate(21 451.7 480.7)"/><ellipse cx="455.9" cy="481.1" rx="2.4" ry="1.4" fill="#b81020" fill-opacity="0.15" transform="rotate(80 454.5 481.4)"/><ellipse cx="454.3" cy="482.5" rx="3.7" ry="1.1" fill="#b81020" fill-opacity="0.15" transform="rotate(8 454.5 481.4)"/><ellipse cx="456.8" cy="483.8" rx="3.6" ry="1.2" fill="#b81020" fill-opacity="0.15" transform="rotate(98 457.3 483.1)"/><ellipse cx="456.7" cy="482.4" rx="3.5" ry="1.0" fill="#b81020" fill-opacity="0.15" transform="rotate(19 457.3 483.1)"/><ellipse cx="467.9" cy="488.1" rx="3.3" ry="1.0" fill="#b81020" fill-opacity="0.15" transform="rotate(136 466.7 488.3)"/><ellipse cx="466.4" cy="489.3" rx="2.3" ry="1.6" fill="#b81020" fill-opacity="0.15" transform="rotate(105 466.7 488.3)"/><ellipse cx="465.6" cy="491.0" rx="2.8" ry="1.5" fill="#b81020" fill-opacity="0.15" transform="rotate(29 465.9 491.9)"/><ellipse cx="465.8" cy="492.7" rx="2.7" ry="1.0" fill="#b81020" fill-opacity="0.15" transform="rotate(12 465.9 491.9)"/><ellipse cx="483.0" cy="487.0" rx="3.5" ry="1.3" fill="#b81020" fill-opacity="0.15" transform="rotate(7 482.7 486.7)"/><ellipse cx="481.7" cy="487.2" rx="3.1" ry="1.0" fill="#b81020" fill-opacity="0.15" transform="rotate(58 482.7 486.7)"/><ellipse cx="486.0" cy="487.5" rx="3.6" ry="1.2" fill="#b81020" fill-opacity="0.15" transform="rotate(151 484.8 488.5)"/><ellipse cx="485.9" cy="488.9" rx="2.5" ry="1.6" fill="#b81020" fill-opacity="0.15" transform="rotate(97 484.8 488.5)"/><ellipse cx="488.0" cy="490.8" rx="3.3" ry="1.1" fill="#b81020" fill-opacity="0.15" transform="rotate(32 487.1 490.1)"/><ellipse cx="487.8" cy="489.1" rx="3.6" ry="1.2" fill="#b81020" fill-opacity="0.15" transform="rotate(15 487.1 490.1)"/><ellipse cx="484.8" cy="493.8" rx="3.0" ry="1.6" fill="#b81020" fill-opacity="0.15" transform="rotate(133 484.0 492.5)"/><ellipse cx="482.8" cy="492.7" rx="3.0" ry="1.1" fill="#b81020" fill-opacity="0.15" transform="rotate(66 484.0 492.5)"/><ellipse cx="450.4" cy="493.5" rx="3.8" ry="1.1" fill="#b81020" fill-opacity="0.15" transform="rotate(80 449.9 493.8)"/><ellipse cx="451.2" cy="492.5" rx="2.7" ry="1.4" fill="#b81020" fill-opacity="0.15" transform="rotate(85 449.9 493.8)"/><ellipse cx="438.3" cy="496.0" rx="2.9" ry="1.1" fill="#b81020" fill-opacity="0.15" transform="rotate(49 439.1 497.5)"/><ellipse cx="438.4" cy="496.6" rx="3.4" ry="1.0" fill="#b81020" fill-opacity="0.15" transform="rotate(37 439.1 497.5)"/><ellipse cx="449.7" cy="499.6" rx="3.4" ry="1.6" fill="#b81020" fill-opacity="0.15" transform="rotate(78 449.6 500.6)"/><ellipse cx="450.2" cy="499.9" rx="2.4" ry="1.2" fill="#b81020" fill-opacity="0.15" transform="rotate(90 449.6 500.6)"/><ellipse cx="453.5" cy="499.8" rx="3.6" ry="1.2" fill="#b81020" fill-opacity="0.15" transform="rotate(130 454.9 500.1)"/><ellipse cx="456.0" cy="499.7" rx="2.4" ry="1.2" fill="#b81020" fill-opacity="0.15" transform="rotate(32 454.9 500.1)"/><ellipse cx="457.4" cy="498.1" rx="3.1" ry="1.5" fill="#b81020" fill-opacity="0.15" transform="rotate(21 457.7 498.2)"/><ellipse cx="457.7" cy="497.0" rx="3.0" ry="1.1" fill="#b81020" fill-opacity="0.15" transform="rotate(140 457.7 498.2)"/><ellipse cx="461.1" cy="497.6" rx="3.6" ry="1.4" fill="#b81020" fill-opacity="0.15" transform="rotate(43 461.2 498.0)"/><ellipse cx="461.3" cy="497.4" rx="3.3" ry="1.3" fill="#b81020" fill-opacity="0.15" transform="rotate(0 461.2 498.0)"/><ellipse cx="465.3" cy="500.8" rx="2.9" ry="1.5" fill="#b81020" fill-opacity="0.15" transform="rotate(60 464.0 500.3)"/><ellipse cx="464.8" cy="501.1" rx="2.2" ry="1.6" fill="#b81020" fill-opacity="0.15" transform="rotate(44 464.0 500.3)"/><ellipse cx="460.1" cy="503.1" rx="3.4" ry="1.4" fill="#b81020" fill-opacity="0.15" transform="rotate(98 459.1 502.7)"/><ellipse cx="459.0" cy="503.1" rx="3.8" ry="1.6" fill="#b81020" fill-opacity="0.15" transform="rotate(168 459.1 502.7)"/><ellipse cx="462.4" cy="503.0" rx="2.7" ry="1.6" fill="#b81020" fill-opacity="0.15" transform="rotate(108 461.5 503.1)"/><ellipse cx="460.9" cy="503.9" rx="2.7" ry="0.9" fill="#b81020" fill-opacity="0.15" transform="rotate(120 461.5 503.1)"/><ellipse cx="451.9" cy="502.4" rx="3.1" ry="1.2" fill="#b81020" fill-opacity="0.15" transform="rotate(100 452.2 503.3)"/><ellipse cx="453.1" cy="502.7" rx="3.7" ry="1.0" fill="#b81020" fill-opacity="0.15" transform="rotate(129 452.2 503.3)"/><ellipse cx="471.5" cy="503.1" rx="3.7" ry="1.6" fill="#b81020" fill-opacity="0.15" transform="rotate(56 471.0 502.0)"/><ellipse cx="472.4" cy="502.2" rx="3.0" ry="1.0" fill="#b81020" fill-opacity="0.15" transform="rotate(124 471.0 502.0)"/><ellipse cx="512.0" cy="473.8" rx="3.0" ry="0.9" fill="#b81020" fill-opacity="0.12" transform="rotate(136 512.8 473.3)"/><ellipse cx="511.9" cy="474.7" rx="1.9" ry="0.8" fill="#b81020" fill-opacity="0.12" transform="rotate(146 512.8 473.3)"/><ellipse cx="517.8" cy="479.4" rx="3.2" ry="1.0" fill="#b81020" fill-opacity="0.12" transform="rotate(52 517.7 480.3)"/><ellipse cx="516.6" cy="480.6" rx="2.5" ry="0.8" fill="#b81020" fill-opacity="0.12" transform="rotate(54 517.7 480.3)"/><ellipse cx="523.7" cy="481.1" rx="2.1" ry="1.1" fill="#b81020" fill-opacity="0.12" transform="rotate(93 524.4 480.7)"/><ellipse cx="523.9" cy="481.6" rx="1.8" ry="1.2" fill="#b81020" fill-opacity="0.12" transform="rotate(119 524.4 480.7)"/><ellipse cx="507.4" cy="492.6" rx="3.2" ry="0.8" fill="#b81020" fill-opacity="0.12" transform="rotate(24 507.2 492.2)"/><ellipse cx="506.0" cy="491.9" rx="3.2" ry="1.3" fill="#b81020" fill-opacity="0.12" transform="rotate(110 507.2 492.2)"/><ellipse cx="509.9" cy="504.9" rx="2.9" ry="1.2" fill="#b81020" fill-opacity="0.12" transform="rotate(58 511.0 503.8)"/><ellipse cx="509.8" cy="504.8" rx="2.1" ry="1.2" fill="#b81020" fill-opacity="0.12" transform="rotate(81 511.0 503.8)"/><ellipse cx="577.6" cy="475.3" rx="5.1" ry="2.3" fill="#b81020" fill-opacity="0.42" transform="rotate(125 578.8 476.5)"/><ellipse cx="578.8" cy="476.5" rx="4.1" ry="2.6" fill="#b81020" fill-opacity="0.42" transform="rotate(87 578.8 476.5)"/><ellipse cx="579.5" cy="483.3" rx="5.0" ry="1.8" fill="#b81020" fill-opacity="0.42" transform="rotate(72 579.1 482.0)"/><ellipse cx="579.4" cy="483.4" rx="4.0" ry="2.5" fill="#b81020" fill-opacity="0.42" transform="rotate(54 579.1 482.0)"/><ellipse cx="574.2" cy="487.0" rx="5.9" ry="2.2" fill="#b81020" fill-opacity="0.42" transform="rotate(165 574.6 485.9)"/><ellipse cx="575.2" cy="485.1" rx="4.1" ry="1.8" fill="#b81020" fill-opacity="0.42" transform="rotate(41 574.6 485.9)"/><ellipse cx="583.4" cy="485.8" rx="5.0" ry="2.3" fill="#b81020" fill-opacity="0.42" transform="rotate(22 583.3 485.2)"/><ellipse cx="582.7" cy="484.4" rx="4.0" ry="1.7" fill="#b81020" fill-opacity="0.42" transform="rotate(63 583.3 485.2)"/><ellipse cx="579.8" cy="487.1" rx="5.5" ry="2.1" fill="#b81020" fill-opacity="0.42" transform="rotate(176 578.8 488.5)"/><ellipse cx="579.7" cy="489.4" rx="4.5" ry="2.2" fill="#b81020" fill-opacity="0.42" transform="rotate(92 578.8 488.5)"/><ellipse cx="584.9" cy="490.7" rx="3.8" ry="1.7" fill="#b81020" fill-opacity="0.42" transform="rotate(104 583.5 490.4)"/><ellipse cx="584.2" cy="491.7" rx="6.0" ry="2.5" fill="#b81020" fill-opacity="0.42" transform="rotate(166 583.5 490.4)"/><ellipse cx="585.7" cy="488.0" rx="4.3" ry="2.6" fill="#b81020" fill-opacity="0.42" transform="rotate(95 586.1 488.0)"/><ellipse cx="587.0" cy="487.1" rx="5.7" ry="1.6" fill="#b81020" fill-opacity="0.42" transform="rotate(42 586.1 488.0)"/><ellipse cx="581.5" cy="495.6" rx="4.4" ry="1.8" fill="#b81020" fill-opacity="0.42" transform="rotate(74 581.6 494.6)"/><ellipse cx="582.1" cy="493.6" rx="5.0" ry="2.3" fill="#b81020" fill-opacity="0.42" transform="rotate(86 581.6 494.6)"/><ellipse cx="584.0" cy="493.5" rx="5.7" ry="1.7" fill="#b81020" fill-opacity="0.42" transform="rotate(84 585.4 494.0)"/><ellipse cx="584.1" cy="494.0" rx="4.6" ry="2.2" fill="#b81020" fill-opacity="0.42" transform="rotate(1 585.4 494.0)"/><ellipse cx="589.1" cy="492.8" rx="5.2" ry="1.5" fill="#b81020" fill-opacity="0.42" transform="rotate(138 587.7 492.8)"/><ellipse cx="588.8" cy="492.8" rx="6.2" ry="1.5" fill="#b81020" fill-opacity="0.42" transform="rotate(22 587.7 492.8)"/><ellipse cx="591.4" cy="490.3" rx="4.9" ry="1.9" fill="#b81020" fill-opacity="0.42" transform="rotate(128 592.1 491.2)"/><ellipse cx="592.8" cy="490.4" rx="4.0" ry="2.0" fill="#b81020" fill-opacity="0.42" transform="rotate(82 592.1 491.2)"/><ellipse cx="594.3" cy="488.5" rx="4.7" ry="1.5" fill="#b81020" fill-opacity="0.42" transform="rotate(106 593.0 487.3)"/><ellipse cx="591.8" cy="486.7" rx="6.1" ry="2.4" fill="#b81020" fill-opacity="0.42" transform="rotate(158 593.0 487.3)"/><ellipse cx="595.9" cy="491.1" rx="5.0" ry="2.6" fill="#b81020" fill-opacity="0.42" transform="rotate(85 594.6 489.6)"/><ellipse cx="594.5" cy="489.5" rx="4.8" ry="2.5" fill="#b81020" fill-opacity="0.42" transform="rotate(87 594.6 489.6)"/><ellipse cx="592.6" cy="493.6" rx="5.6" ry="2.5" fill="#b81020" fill-opacity="0.42" transform="rotate(23 591.7 494.3)"/><ellipse cx="591.0" cy="493.2" rx="5.8" ry="1.5" fill="#b81020" fill-opacity="0.42" transform="rotate(90 591.7 494.3)"/><ellipse cx="595.6" cy="492.1" rx="3.5" ry="2.0" fill="#b81020" fill-opacity="0.42" transform="rotate(88 595.1 493.6)"/><ellipse cx="595.7" cy="494.4" rx="4.2" ry="2.1" fill="#b81020" fill-opacity="0.42" transform="rotate(127 595.1 493.6)"/><ellipse cx="593.5" cy="496.7" rx="4.7" ry="2.1" fill="#b81020" fill-opacity="0.42" transform="rotate(43 594.0 496.1)"/><ellipse cx="593.1" cy="497.2" rx="4.6" ry="2.2" fill="#b81020" fill-opacity="0.42" transform="rotate(60 594.0 496.1)"/><ellipse cx="598.0" cy="495.9" rx="5.3" ry="2.1" fill="#b81020" fill-opacity="0.42" transform="rotate(26 596.7 496.4)"/><ellipse cx="597.9" cy="497.9" rx="5.7" ry="1.6" fill="#b81020" fill-opacity="0.42" transform="rotate(170 596.7 496.4)"/><ellipse cx="583.4" cy="498.4" rx="6.0" ry="1.6" fill="#b81020" fill-opacity="0.42" transform="rotate(10 584.6 497.5)"/><ellipse cx="585.7" cy="498.6" rx="5.2" ry="2.5" fill="#b81020" fill-opacity="0.42" transform="rotate(27 584.6 497.5)"/><ellipse cx="589.0" cy="497.5" rx="5.8" ry="2.5" fill="#b81020" fill-opacity="0.42" transform="rotate(46 587.7 497.5)"/><ellipse cx="587.3" cy="498.7" rx="4.6" ry="2.5" fill="#b81020" fill-opacity="0.42" transform="rotate(98 587.7 497.5)"/><ellipse cx="586.3" cy="501.7" rx="5.5" ry="2.3" fill="#b81020" fill-opacity="0.42" transform="rotate(29 586.7 501.4)"/><ellipse cx="586.5" cy="502.1" rx="4.7" ry="2.3" fill="#b81020" fill-opacity="0.42" transform="rotate(134 586.7 501.4)"/><ellipse cx="588.6" cy="501.7" rx="4.5" ry="2.1" fill="#b81020" fill-opacity="0.42" transform="rotate(97 589.6 502.0)"/><ellipse cx="590.9" cy="500.7" rx="5.0" ry="2.5" fill="#b81020" fill-opacity="0.42" transform="rotate(50 589.6 502.0)"/><ellipse cx="593.5" cy="500.5" rx="5.4" ry="1.9" fill="#b81020" fill-opacity="0.42" transform="rotate(25 594.6 501.7)"/><ellipse cx="593.5" cy="501.7" rx="4.9" ry="1.8" fill="#b81020" fill-opacity="0.42" transform="rotate(170 594.6 501.7)"/><ellipse cx="594.8" cy="475.4" rx="5.8" ry="1.5" fill="#b81020" fill-opacity="0.42" transform="rotate(51 593.5 476.1)"/><ellipse cx="592.7" cy="475.8" rx="5.0" ry="2.1" fill="#b81020" fill-opacity="0.42" transform="rotate(132 593.5 476.1)"/><ellipse cx="602.1" cy="472.9" rx="3.7" ry="2.0" fill="#b81020" fill-opacity="0.42" transform="rotate(8 601.2 472.2)"/><ellipse cx="600.0" cy="472.9" rx="5.3" ry="2.2" fill="#b81020" fill-opacity="0.42" transform="rotate(27 601.2 472.2)"/><ellipse cx="607.2" cy="471.9" rx="5.9" ry="2.5" fill="#b81020" fill-opacity="0.42" transform="rotate(54 606.9 472.2)"/><ellipse cx="605.9" cy="471.5" rx="4.4" ry="2.3" fill="#b81020" fill-opacity="0.42" transform="rotate(86 606.9 472.2)"/><ellipse cx="609.2" cy="474.9" rx="5.9" ry="1.7" fill="#b81020" fill-opacity="0.42" transform="rotate(154 609.3 475.9)"/><ellipse cx="607.9" cy="474.6" rx="5.9" ry="2.1" fill="#b81020" fill-opacity="0.42" transform="rotate(171 609.3 475.9)"/><ellipse cx="616.3" cy="483.2" rx="3.7" ry="1.6" fill="#b81020" fill-opacity="0.42" transform="rotate(173 615.6 481.7)"/><ellipse cx="616.2" cy="483.1" rx="5.6" ry="2.5" fill="#b81020" fill-opacity="0.42" transform="rotate(73 615.6 481.7)"/><ellipse cx="619.2" cy="481.5" rx="5.7" ry="2.4" fill="#b81020" fill-opacity="0.42" transform="rotate(27 619.3 482.2)"/><ellipse cx="618.5" cy="480.9" rx="5.4" ry="1.9" fill="#b81020" fill-opacity="0.42" transform="rotate(166 619.3 482.2)"/><ellipse cx="624.6" cy="477.4" rx="5.9" ry="2.0" fill="#b81020" fill-opacity="0.42" transform="rotate(64 625.1 478.0)"/><ellipse cx="623.7" cy="477.4" rx="3.6" ry="2.0" fill="#b81020" fill-opacity="0.42" transform="rotate(173 625.1 478.0)"/><ellipse cx="621.8" cy="486.6" rx="5.2" ry="2.3" fill="#b81020" fill-opacity="0.42" transform="rotate(80 621.9 486.4)"/><ellipse cx="621.7" cy="487.7" rx="4.6" ry="1.9" fill="#b81020" fill-opacity="0.42" transform="rotate(171 621.9 486.4)"/><ellipse cx="615.9" cy="486.4" rx="4.2" ry="1.7" fill="#b81020" fill-opacity="0.42" transform="rotate(40 617.0 487.0)"/><ellipse cx="616.1" cy="487.6" rx="3.7" ry="2.2" fill="#b81020" fill-opacity="0.42" transform="rotate(80 617.0 487.0)"/><ellipse cx="614.9" cy="488.1" rx="3.7" ry="1.6" fill="#b81020" fill-opacity="0.42" transform="rotate(30 615.1 489.4)"/><ellipse cx="616.0" cy="489.2" rx="3.5" ry="2.0" fill="#b81020" fill-opacity="0.42" transform="rotate(109 615.1 489.4)"/><ellipse cx="621.9" cy="490.5" rx="4.2" ry="1.7" fill="#b81020" fill-opacity="0.42" transform="rotate(92 621.9 491.7)"/><ellipse cx="622.2" cy="491.0" rx="3.5" ry="1.8" fill="#b81020" fill-opacity="0.42" transform="rotate(61 621.9 491.7)"/><ellipse cx="624.8" cy="491.2" rx="4.3" ry="1.9" fill="#b81020" fill-opacity="0.42" transform="rotate(11 625.6 491.7)"/><ellipse cx="626.9" cy="493.0" rx="5.4" ry="2.6" fill="#b81020" fill-opacity="0.42" transform="rotate(145 625.6 491.7)"/><ellipse cx="629.1" cy="494.1" rx="5.4" ry="1.8" fill="#b81020" fill-opacity="0.42" transform="rotate(32 629.3 494.9)"/><ellipse cx="629.9" cy="495.7" rx="5.1" ry="1.9" fill="#b81020" fill-opacity="0.42" transform="rotate(71 629.3 494.9)"/><ellipse cx="625.3" cy="495.7" rx="3.4" ry="1.7" fill="#b81020" fill-opacity="0.42" transform="rotate(46 626.1 496.7)"/><ellipse cx="627.3" cy="497.7" rx="6.1" ry="1.5" fill="#b81020" fill-opacity="0.42" transform="rotate(133 626.1 496.7)"/><ellipse cx="617.5" cy="494.1" rx="3.4" ry="2.5" fill="#b81020" fill-opacity="0.42" transform="rotate(97 616.1 495.4)"/><ellipse cx="615.2" cy="496.3" rx="4.7" ry="2.1" fill="#b81020" fill-opacity="0.42" transform="rotate(166 616.1 495.4)"/><ellipse cx="609.5" cy="497.3" rx="4.1" ry="2.2" fill="#b81020" fill-opacity="0.42" transform="rotate(96 610.9 497.5)"/><ellipse cx="610.8" cy="496.4" rx="5.7" ry="1.5" fill="#b81020" fill-opacity="0.42" transform="rotate(136 610.9 497.5)"/><ellipse cx="626.2" cy="483.6" rx="3.8" ry="2.5" fill="#b81020" fill-opacity="0.42" transform="rotate(44 627.7 482.2)"/><ellipse cx="628.3" cy="481.5" rx="5.6" ry="1.6" fill="#b81020" fill-opacity="0.42" transform="rotate(135 627.7 482.2)"/><ellipse cx="632.2" cy="484.7" rx="4.2" ry="2.6" fill="#b81020" fill-opacity="0.42" transform="rotate(126 631.7 484.5)"/><ellipse cx="630.7" cy="485.3" rx="4.7" ry="1.7" fill="#b81020" fill-opacity="0.42" transform="rotate(19 631.7 484.5)"/><ellipse cx="632.0" cy="478.9" rx="5.9" ry="2.6" fill="#b81020" fill-opacity="0.42" transform="rotate(84 632.4 479.6)"/><ellipse cx="631.2" cy="480.6" rx="5.8" ry="2.2" fill="#b81020" fill-opacity="0.42" transform="rotate(77 632.4 479.6)"/><ellipse cx="635.8" cy="474.4" rx="4.3" ry="2.2" fill="#b81020" fill-opacity="0.42" transform="rotate(108 636.6 474.7)"/><ellipse cx="636.9" cy="473.5" rx="3.8" ry="1.6" fill="#b81020" fill-opacity="0.42" transform="rotate(10 636.6 474.7)"/><ellipse cx="629.8" cy="474.4" rx="4.0" ry="1.8" fill="#b81020" fill-opacity="0.42" transform="rotate(8 629.8 473.3)"/><ellipse cx="628.8" cy="474.7" rx="4.2" ry="1.7" fill="#b81020" fill-opacity="0.42" transform="rotate(35 629.8 473.3)"/><ellipse cx="631.3" cy="469.5" rx="3.7" ry="1.4" fill="#b81020" fill-opacity="0.42" transform="rotate(180 631.4 470.1)"/><ellipse cx="632.0" cy="469.8" rx="3.7" ry="2.4" fill="#b81020" fill-opacity="0.42" transform="rotate(178 631.4 470.1)"/><ellipse cx="621.9" cy="465.2" rx="4.3" ry="1.4" fill="#b81020" fill-opacity="0.42" transform="rotate(160 620.8 465.2)"/><ellipse cx="620.2" cy="463.8" rx="3.7" ry="1.5" fill="#b81020" fill-opacity="0.42" transform="rotate(63 620.8 465.2)"/><ellipse cx="623.9" cy="465.1" rx="5.1" ry="2.4" fill="#b81020" fill-opacity="0.42" transform="rotate(130 622.9 464.2)"/><ellipse cx="622.6" cy="462.9" rx="6.1" ry="1.5" fill="#b81020" fill-opacity="0.42" transform="rotate(113 622.9 464.2)"/><ellipse cx="626.4" cy="467.1" rx="5.0" ry="1.6" fill="#b81020" fill-opacity="0.42" transform="rotate(66 626.1 467.0)"/><ellipse cx="626.1" cy="466.7" rx="5.3" ry="2.5" fill="#b81020" fill-opacity="0.42" transform="rotate(172 626.1 467.0)"/><ellipse cx="633.0" cy="458.7" rx="4.3" ry="2.3" fill="#b81020" fill-opacity="0.42" transform="rotate(125 634.0 459.9)"/><ellipse cx="635.1" cy="459.5" rx="4.4" ry="1.7" fill="#b81020" fill-opacity="0.42" transform="rotate(137 634.0 459.9)"/><ellipse cx="635.0" cy="465.5" rx="4.7" ry="2.5" fill="#b81020" fill-opacity="0.42" transform="rotate(15 634.0 465.9)"/><ellipse cx="634.2" cy="467.2" rx="4.5" ry="1.7" fill="#b81020" fill-opacity="0.42" transform="rotate(55 634.0 465.9)"/><ellipse cx="638.0" cy="467.5" rx="5.5" ry="2.3" fill="#b81020" fill-opacity="0.42" transform="rotate(47 637.4 466.3)"/><ellipse cx="638.4" cy="467.0" rx="4.3" ry="1.8" fill="#b81020" fill-opacity="0.42" transform="rotate(107 637.4 466.3)"/><ellipse cx="638.0" cy="461.9" rx="5.8" ry="1.8" fill="#b81020" fill-opacity="0.42" transform="rotate(127 639.5 462.3)"/><ellipse cx="639.5" cy="463.3" rx="3.5" ry="2.1" fill="#b81020" fill-opacity="0.42" transform="rotate(103 639.5 462.3)"/></g><g filter="url(#bl)"><ellipse cx="71.0" cy="362.8" rx="1.55" ry="1.30" fill="#3a3cec"/><ellipse cx="71.0" cy="362.8" rx="0.75" ry="0.65" fill="#5a5cff"/><ellipse cx="74.9" cy="363.9" rx="1.55" ry="1.30" fill="#3a3cec"/><ellipse cx="74.9" cy="363.9" rx="0.75" ry="0.65" fill="#5a5cff"/><ellipse cx="72.8" cy="366.3" rx="1.55" ry="1.30" fill="#3a3cec"/><ellipse cx="72.8" cy="366.3" rx="0.75" ry="0.65" fill="#5a5cff"/><ellipse cx="76.2" cy="367.9" rx="1.55" ry="1.30" fill="#3a3cec"/><ellipse cx="76.2" cy="367.9" rx="0.75" ry="0.65" fill="#5a5cff"/><ellipse cx="76.2" cy="374.9" rx="1.55" ry="1.30" fill="#3a3cec"/><ellipse cx="76.2" cy="374.9" rx="0.75" ry="0.65" fill="#5a5cff"/><ellipse cx="73.4" cy="377.3" rx="1.55" ry="1.30" fill="#3a3cec"/><ellipse cx="73.4" cy="377.3" rx="0.75" ry="0.65" fill="#5a5cff"/><ellipse cx="87.1" cy="366.5" rx="1.55" ry="1.30" fill="#3a3cec"/><ellipse cx="87.1" cy="366.5" rx="0.75" ry="0.65" fill="#5a5cff"/><ellipse cx="93.6" cy="363.2" rx="1.55" ry="1.30" fill="#3a3cec"/><ellipse cx="93.6" cy="363.2" rx="0.75" ry="0.65" fill="#5a5cff"/><ellipse cx="98.3" cy="366.0" rx="1.55" ry="1.30" fill="#3a3cec"/><ellipse cx="98.3" cy="366.0" rx="0.75" ry="0.65" fill="#5a5cff"/><ellipse cx="87.8" cy="371.8" rx="1.55" ry="1.30" fill="#3a3cec"/><ellipse cx="87.8" cy="371.8" rx="0.75" ry="0.65" fill="#5a5cff"/><ellipse cx="96.2" cy="372.0" rx="1.55" ry="1.30" fill="#3a3cec"/><ellipse cx="96.2" cy="372.0" rx="0.75" ry="0.65" fill="#5a5cff"/><ellipse cx="106.4" cy="368.1" rx="1.55" ry="1.30" fill="#3a3cec"/><ellipse cx="106.4" cy="368.1" rx="0.75" ry="0.65" fill="#5a5cff"/><ellipse cx="99.7" cy="378.1" rx="1.55" ry="1.30" fill="#3a3cec"/><ellipse cx="99.7" cy="378.1" rx="0.75" ry="0.65" fill="#5a5cff"/><ellipse cx="130.9" cy="369.1" rx="1.55" ry="1.30" fill="#3a3cec"/><ellipse cx="130.9" cy="369.1" rx="0.75" ry="0.65" fill="#5a5cff"/><ellipse cx="117.8" cy="381.6" rx="1.55" ry="1.30" fill="#3a3cec"/><ellipse cx="117.8" cy="381.6" rx="0.75" ry="0.65" fill="#5a5cff"/><ellipse cx="116.2" cy="388.1" rx="1.55" ry="1.30" fill="#3a3cec"/><ellipse cx="116.2" cy="388.1" rx="0.75" ry="0.65" fill="#5a5cff"/><ellipse cx="121.1" cy="388.1" rx="1.55" ry="1.30" fill="#3a3cec"/><ellipse cx="121.1" cy="388.1" rx="0.75" ry="0.65" fill="#5a5cff"/><ellipse cx="124.3" cy="386.0" rx="1.55" ry="1.30" fill="#3a3cec"/><ellipse cx="124.3" cy="386.0" rx="0.75" ry="0.65" fill="#5a5cff"/><ellipse cx="120.4" cy="391.8" rx="1.55" ry="1.30" fill="#3a3cec"/><ellipse cx="120.4" cy="391.8" rx="0.75" ry="0.65" fill="#5a5cff"/><ellipse cx="117.8" cy="395.7" rx="1.55" ry="1.30" fill="#3a3cec"/><ellipse cx="117.8" cy="395.7" rx="0.75" ry="0.65" fill="#5a5cff"/><ellipse cx="110.6" cy="398.1" rx="1.55" ry="1.30" fill="#3a3cec"/><ellipse cx="110.6" cy="398.1" rx="0.75" ry="0.65" fill="#5a5cff"/><ellipse cx="103.3" cy="396.3" rx="1.55" ry="1.30" fill="#3a3cec"/><ellipse cx="103.3" cy="396.3" rx="0.75" ry="0.65" fill="#5a5cff"/><ellipse cx="95.7" cy="392.3" rx="1.55" ry="1.30" fill="#3a3cec"/><ellipse cx="95.7" cy="392.3" rx="0.75" ry="0.65" fill="#5a5cff"/><ellipse cx="101.0" cy="401.2" rx="1.55" ry="1.30" fill="#3a3cec"/><ellipse cx="101.0" cy="401.2" rx="0.75" ry="0.65" fill="#5a5cff"/><ellipse cx="104.1" cy="401.4" rx="1.55" ry="1.30" fill="#3a3cec"/><ellipse cx="104.1" cy="401.4" rx="0.75" ry="0.65" fill="#5a5cff"/><ellipse cx="65.4" cy="395.4" rx="1.55" ry="1.30" fill="#3a3cec"/><ellipse cx="65.4" cy="395.4" rx="0.75" ry="0.65" fill="#5a5cff"/><ellipse cx="69.4" cy="392.8" rx="1.55" ry="1.30" fill="#3a3cec"/><ellipse cx="69.4" cy="392.8" rx="0.75" ry="0.65" fill="#5a5cff"/><ellipse cx="65.4" cy="399.1" rx="1.55" ry="1.30" fill="#3a3cec"/><ellipse cx="65.4" cy="399.1" rx="0.75" ry="0.65" fill="#5a5cff"/><ellipse cx="139.0" cy="360.7" rx="1.65" ry="1.40" fill="#8c46e4"/><ellipse cx="139.0" cy="360.7" rx="0.75" ry="0.65" fill="#a874f6"/><ellipse cx="141.5" cy="369.7" rx="1.65" ry="1.40" fill="#8c46e4"/><ellipse cx="141.5" cy="369.7" rx="0.75" ry="0.65" fill="#a874f6"/><ellipse cx="144.7" cy="368.8" rx="1.65" ry="1.40" fill="#8c46e4"/><ellipse cx="144.7" cy="368.8" rx="0.75" ry="0.65" fill="#a874f6"/><ellipse cx="149.7" cy="363.2" rx="1.65" ry="1.40" fill="#8c46e4"/><ellipse cx="149.7" cy="363.2" rx="0.75" ry="0.65" fill="#a874f6"/><ellipse cx="149.7" cy="367.0" rx="1.65" ry="1.40" fill="#8c46e4"/><ellipse cx="149.7" cy="367.0" rx="0.75" ry="0.65" fill="#a874f6"/><ellipse cx="155.8" cy="370.2" rx="1.65" ry="1.40" fill="#8c46e4"/><ellipse cx="155.8" cy="370.2" rx="0.75" ry="0.65" fill="#a874f6"/><ellipse cx="158.7" cy="364.2" rx="1.65" ry="1.40" fill="#8c46e4"/><ellipse cx="158.7" cy="364.2" rx="0.75" ry="0.65" fill="#a874f6"/><ellipse cx="150.8" cy="375.5" rx="1.65" ry="1.40" fill="#8c46e4"/><ellipse cx="150.8" cy="375.5" rx="0.75" ry="0.65" fill="#a874f6"/><ellipse cx="153.4" cy="374.1" rx="1.65" ry="1.40" fill="#8c46e4"/><ellipse cx="153.4" cy="374.1" rx="0.75" ry="0.65" fill="#a874f6"/><ellipse cx="159.7" cy="373.4" rx="1.65" ry="1.40" fill="#8c46e4"/><ellipse cx="159.7" cy="373.4" rx="0.75" ry="0.65" fill="#a874f6"/><ellipse cx="168.1" cy="376.0" rx="1.65" ry="1.40" fill="#8c46e4"/><ellipse cx="168.1" cy="376.0" rx="0.75" ry="0.65" fill="#a874f6"/><ellipse cx="159.4" cy="381.6" rx="1.65" ry="1.40" fill="#8c46e4"/><ellipse cx="159.4" cy="381.6" rx="0.75" ry="0.65" fill="#a874f6"/><ellipse cx="163.4" cy="381.2" rx="1.65" ry="1.40" fill="#8c46e4"/><ellipse cx="163.4" cy="381.2" rx="0.75" ry="0.65" fill="#a874f6"/><ellipse cx="147.4" cy="384.6" rx="1.65" ry="1.40" fill="#8c46e4"/><ellipse cx="147.4" cy="384.6" rx="0.75" ry="0.65" fill="#a874f6"/><ellipse cx="157.6" cy="387.5" rx="1.65" ry="1.40" fill="#8c46e4"/><ellipse cx="157.6" cy="387.5" rx="0.75" ry="0.65" fill="#a874f6"/><ellipse cx="160.2" cy="386.5" rx="1.65" ry="1.40" fill="#8c46e4"/><ellipse cx="160.2" cy="386.5" rx="0.75" ry="0.65" fill="#a874f6"/><ellipse cx="165.0" cy="387.5" rx="1.65" ry="1.40" fill="#8c46e4"/><ellipse cx="165.0" cy="387.5" rx="0.75" ry="0.65" fill="#a874f6"/><ellipse cx="166.0" cy="393.0" rx="1.65" ry="1.40" fill="#8c46e4"/><ellipse cx="166.0" cy="393.0" rx="0.75" ry="0.65" fill="#a874f6"/><ellipse cx="170.2" cy="393.0" rx="1.65" ry="1.40" fill="#8c46e4"/><ellipse cx="170.2" cy="393.0" rx="0.75" ry="0.65" fill="#a874f6"/><ellipse cx="153.4" cy="402.1" rx="1.65" ry="1.40" fill="#8c46e4"/><ellipse cx="153.4" cy="402.1" rx="0.75" ry="0.65" fill="#a874f6"/><ellipse cx="191.3" cy="378.1" rx="1.65" ry="1.40" fill="#8c46e4"/><ellipse cx="191.3" cy="378.1" rx="0.75" ry="0.65" fill="#a874f6"/><ellipse cx="193.4" cy="381.8" rx="1.65" ry="1.40" fill="#8c46e4"/><ellipse cx="193.4" cy="381.8" rx="0.75" ry="0.65" fill="#a874f6"/><ellipse cx="197.0" cy="382.8" rx="1.65" ry="1.40" fill="#8c46e4"/><ellipse cx="197.0" cy="382.8" rx="0.75" ry="0.65" fill="#a874f6"/><ellipse cx="201.8" cy="363.9" rx="1.65" ry="1.40" fill="#8c46e4"/><ellipse cx="201.8" cy="363.9" rx="0.75" ry="0.65" fill="#a874f6"/><ellipse cx="202.8" cy="368.6" rx="1.65" ry="1.40" fill="#8c46e4"/><ellipse cx="202.8" cy="368.6" rx="0.75" ry="0.65" fill="#a874f6"/><ellipse cx="195.5" cy="395.7" rx="1.65" ry="1.40" fill="#8c46e4"/><ellipse cx="195.5" cy="395.7" rx="0.75" ry="0.65" fill="#a874f6"/><ellipse cx="210.9" cy="360.7" rx="1.65" ry="1.40" fill="#8a48e8"/><ellipse cx="210.9" cy="360.7" rx="0.75" ry="0.65" fill="#a878fa"/><ellipse cx="213.8" cy="360.7" rx="1.65" ry="1.40" fill="#8a48e8"/><ellipse cx="213.8" cy="360.7" rx="0.75" ry="0.65" fill="#a878fa"/><ellipse cx="212.7" cy="364.9" rx="1.65" ry="1.40" fill="#8a48e8"/><ellipse cx="212.7" cy="364.9" rx="0.75" ry="0.65" fill="#a878fa"/><ellipse cx="221.1" cy="357.9" rx="1.65" ry="1.40" fill="#8a48e8"/><ellipse cx="221.1" cy="357.9" rx="0.75" ry="0.65" fill="#a878fa"/><ellipse cx="218.0" cy="363.2" rx="1.55" ry="1.30" fill="#3a3cec"/><ellipse cx="218.0" cy="363.2" rx="0.75" ry="0.65" fill="#5a5cff"/><ellipse cx="220.6" cy="362.8" rx="1.65" ry="1.40" fill="#8a48e8"/><ellipse cx="220.6" cy="362.8" rx="0.75" ry="0.65" fill="#a878fa"/><ellipse cx="229.9" cy="367.4" rx="1.65" ry="1.40" fill="#8a48e8"/><ellipse cx="229.9" cy="367.4" rx="0.75" ry="0.65" fill="#a878fa"/><ellipse cx="232.0" cy="376.0" rx="1.55" ry="1.30" fill="#3a3cec"/><ellipse cx="232.0" cy="376.0" rx="0.75" ry="0.65" fill="#5a5cff"/><ellipse cx="229.0" cy="379.3" rx="1.65" ry="1.40" fill="#8a48e8"/><ellipse cx="229.0" cy="379.3" rx="0.75" ry="0.65" fill="#a878fa"/><ellipse cx="230.9" cy="379.1" rx="1.65" ry="1.40" fill="#8a48e8"/><ellipse cx="230.9" cy="379.1" rx="0.75" ry="0.65" fill="#a878fa"/><ellipse cx="223.8" cy="384.4" rx="1.55" ry="1.30" fill="#3a3cec"/><ellipse cx="223.8" cy="384.4" rx="0.75" ry="0.65" fill="#5a5cff"/><ellipse cx="217.3" cy="387.0" rx="1.55" ry="1.30" fill="#3a3cec"/><ellipse cx="217.3" cy="387.0" rx="0.75" ry="0.65" fill="#5a5cff"/><ellipse cx="212.7" cy="390.2" rx="1.65" ry="1.40" fill="#8a48e8"/><ellipse cx="212.7" cy="390.2" rx="0.75" ry="0.65" fill="#a878fa"/><ellipse cx="214.5" cy="393.0" rx="1.65" ry="1.40" fill="#8a48e8"/><ellipse cx="214.5" cy="393.0" rx="0.75" ry="0.65" fill="#a878fa"/><ellipse cx="255.3" cy="360.7" rx="1.55" ry="1.30" fill="#3a3cec"/><ellipse cx="255.3" cy="360.7" rx="0.75" ry="0.65" fill="#5a5cff"/><ellipse cx="254.3" cy="363.9" rx="1.55" ry="1.30" fill="#3a3cec"/><ellipse cx="254.3" cy="363.9" rx="0.75" ry="0.65" fill="#5a5cff"/><ellipse cx="250.6" cy="369.1" rx="1.55" ry="1.30" fill="#3a3cec"/><ellipse cx="250.6" cy="369.1" rx="0.75" ry="0.65" fill="#5a5cff"/><ellipse cx="253.4" cy="371.8" rx="1.55" ry="1.30" fill="#3a3cec"/><ellipse cx="253.4" cy="371.8" rx="0.75" ry="0.65" fill="#5a5cff"/><ellipse cx="249.9" cy="378.3" rx="1.55" ry="1.30" fill="#3a3cec"/><ellipse cx="249.9" cy="378.3" rx="0.75" ry="0.65" fill="#5a5cff"/><ellipse cx="248.5" cy="388.6" rx="1.55" ry="1.30" fill="#3a3cec"/><ellipse cx="248.5" cy="388.6" rx="0.75" ry="0.65" fill="#5a5cff"/><ellipse cx="271.1" cy="375.5" rx="1.55" ry="1.30" fill="#3a3cec"/><ellipse cx="271.1" cy="375.5" rx="0.75" ry="0.65" fill="#5a5cff"/><ellipse cx="269.0" cy="379.3" rx="1.65" ry="1.40" fill="#8a48e8"/><ellipse cx="269.0" cy="379.3" rx="0.75" ry="0.65" fill="#a878fa"/><ellipse cx="275.8" cy="378.6" rx="1.55" ry="1.30" fill="#3a3cec"/><ellipse cx="275.8" cy="378.6" rx="0.75" ry="0.65" fill="#5a5cff"/><ellipse cx="259.3" cy="382.1" rx="1.65" ry="1.40" fill="#8a48e8"/><ellipse cx="259.3" cy="382.1" rx="0.75" ry="0.65" fill="#a878fa"/><ellipse cx="262.9" cy="382.3" rx="1.55" ry="1.30" fill="#3a3cec"/><ellipse cx="262.9" cy="382.3" rx="0.75" ry="0.65" fill="#5a5cff"/><ellipse cx="259.3" cy="386.0" rx="1.55" ry="1.30" fill="#3a3cec"/><ellipse cx="259.3" cy="386.0" rx="0.75" ry="0.65" fill="#5a5cff"/><ellipse cx="266.4" cy="386.5" rx="1.55" ry="1.30" fill="#3a3cec"/><ellipse cx="266.4" cy="386.5" rx="0.75" ry="0.65" fill="#5a5cff"/><ellipse cx="270.0" cy="387.5" rx="1.55" ry="1.30" fill="#3a3cec"/><ellipse cx="270.0" cy="387.5" rx="0.75" ry="0.65" fill="#5a5cff"/><ellipse cx="274.8" cy="386.5" rx="1.55" ry="1.30" fill="#3a3cec"/><ellipse cx="274.8" cy="386.5" rx="0.75" ry="0.65" fill="#5a5cff"/><ellipse cx="267.4" cy="398.6" rx="1.55" ry="1.30" fill="#3a3cec"/><ellipse cx="267.4" cy="398.6" rx="0.75" ry="0.65" fill="#5a5cff"/><ellipse cx="274.5" cy="400.2" rx="1.55" ry="1.30" fill="#3a3cec"/><ellipse cx="274.5" cy="400.2" rx="0.75" ry="0.65" fill="#5a5cff"/><ellipse cx="276.9" cy="397.0" rx="1.55" ry="1.30" fill="#3a3cec"/><ellipse cx="276.9" cy="397.0" rx="0.75" ry="0.65" fill="#5a5cff"/><ellipse cx="257.9" cy="401.7" rx="1.65" ry="1.40" fill="#8a48e8"/><ellipse cx="257.9" cy="401.7" rx="0.75" ry="0.65" fill="#a878fa"/><ellipse cx="287.3" cy="359.2" rx="1.55" ry="1.30" fill="#3a3cec"/><ellipse cx="287.3" cy="359.2" rx="0.75" ry="0.65" fill="#5a5cff"/><ellipse cx="289.9" cy="369.5" rx="1.55" ry="1.30" fill="#3a3cec"/><ellipse cx="289.9" cy="369.5" rx="0.75" ry="0.65" fill="#5a5cff"/><ellipse cx="299.7" cy="369.1" rx="1.55" ry="1.30" fill="#6c46e2"/><ellipse cx="299.7" cy="369.1" rx="0.75" ry="0.65" fill="#8c70fa"/><ellipse cx="303.9" cy="367.6" rx="1.55" ry="1.30" fill="#6c46e2"/><ellipse cx="303.9" cy="367.6" rx="0.75" ry="0.65" fill="#8c70fa"/><ellipse cx="329.6" cy="363.2" rx="1.55" ry="1.30" fill="#3a3cec"/><ellipse cx="329.6" cy="363.2" rx="0.75" ry="0.65" fill="#5a5cff"/><ellipse cx="336.2" cy="360.7" rx="1.55" ry="1.30" fill="#3a3cec"/><ellipse cx="336.2" cy="360.7" rx="0.75" ry="0.65" fill="#5a5cff"/><ellipse cx="338.3" cy="362.5" rx="1.55" ry="1.30" fill="#6c46e2"/><ellipse cx="338.3" cy="362.5" rx="0.75" ry="0.65" fill="#8c70fa"/><ellipse cx="334.4" cy="364.4" rx="1.55" ry="1.30" fill="#3a3cec"/><ellipse cx="334.4" cy="364.4" rx="0.75" ry="0.65" fill="#5a5cff"/><ellipse cx="325.7" cy="379.7" rx="1.55" ry="1.30" fill="#3a3cec"/><ellipse cx="325.7" cy="379.7" rx="0.75" ry="0.65" fill="#5a5cff"/><ellipse cx="326.7" cy="381.8" rx="1.55" ry="1.30" fill="#3a3cec"/><ellipse cx="326.7" cy="381.8" rx="0.75" ry="0.65" fill="#5a5cff"/><ellipse cx="330.9" cy="380.4" rx="1.55" ry="1.30" fill="#3a3cec"/><ellipse cx="330.9" cy="380.4" rx="0.75" ry="0.65" fill="#5a5cff"/><ellipse cx="333.4" cy="383.9" rx="1.55" ry="1.30" fill="#3a3cec"/><ellipse cx="333.4" cy="383.9" rx="0.75" ry="0.65" fill="#5a5cff"/><ellipse cx="335.2" cy="383.5" rx="1.55" ry="1.30" fill="#3a3cec"/><ellipse cx="335.2" cy="383.5" rx="0.75" ry="0.65" fill="#5a5cff"/><ellipse cx="346.0" cy="381.8" rx="1.55" ry="1.30" fill="#3a3cec"/><ellipse cx="346.0" cy="381.8" rx="0.75" ry="0.65" fill="#5a5cff"/><ellipse cx="341.8" cy="385.4" rx="1.55" ry="1.30" fill="#3a3cec"/><ellipse cx="341.8" cy="385.4" rx="0.75" ry="0.65" fill="#5a5cff"/><ellipse cx="329.9" cy="385.7" rx="1.55" ry="1.30" fill="#3a3cec"/><ellipse cx="329.9" cy="385.7" rx="0.75" ry="0.65" fill="#5a5cff"/><ellipse cx="328.1" cy="387.5" rx="1.55" ry="1.30" fill="#6c46e2"/><ellipse cx="328.1" cy="387.5" rx="0.75" ry="0.65" fill="#8c70fa"/><ellipse cx="323.6" cy="387.0" rx="1.55" ry="1.30" fill="#3a3cec"/><ellipse cx="323.6" cy="387.0" rx="0.75" ry="0.65" fill="#5a5cff"/><ellipse cx="334.6" cy="387.5" rx="1.55" ry="1.30" fill="#3a3cec"/><ellipse cx="334.6" cy="387.5" rx="0.75" ry="0.65" fill="#5a5cff"/><ellipse cx="335.2" cy="389.1" rx="1.55" ry="1.30" fill="#3a3cec"/><ellipse cx="335.2" cy="389.1" rx="0.75" ry="0.65" fill="#5a5cff"/><ellipse cx="291.0" cy="389.6" rx="1.55" ry="1.30" fill="#6c46e2"/><ellipse cx="291.0" cy="389.6" rx="0.75" ry="0.65" fill="#8c70fa"/><ellipse cx="293.6" cy="391.2" rx="1.55" ry="1.30" fill="#6c46e2"/><ellipse cx="293.6" cy="391.2" rx="0.75" ry="0.65" fill="#8c70fa"/><ellipse cx="296.8" cy="393.0" rx="1.55" ry="1.30" fill="#3a3cec"/><ellipse cx="296.8" cy="393.0" rx="0.75" ry="0.65" fill="#5a5cff"/><ellipse cx="300.8" cy="392.3" rx="1.55" ry="1.30" fill="#3a3cec"/><ellipse cx="300.8" cy="392.3" rx="0.75" ry="0.65" fill="#5a5cff"/><ellipse cx="293.4" cy="397.5" rx="1.55" ry="1.30" fill="#3a3cec"/><ellipse cx="293.4" cy="397.5" rx="0.75" ry="0.65" fill="#5a5cff"/><ellipse cx="299.4" cy="397.9" rx="1.55" ry="1.30" fill="#3a3cec"/><ellipse cx="299.4" cy="397.9" rx="0.75" ry="0.65" fill="#5a5cff"/><ellipse cx="301.8" cy="402.3" rx="1.55" ry="1.30" fill="#3a3cec"/><ellipse cx="301.8" cy="402.3" rx="0.75" ry="0.65" fill="#5a5cff"/><ellipse cx="310.4" cy="393.6" rx="1.55" ry="1.30" fill="#3a3cec"/><ellipse cx="310.4" cy="393.6" rx="0.75" ry="0.65" fill="#5a5cff"/><ellipse cx="315.2" cy="390.2" rx="1.55" ry="1.30" fill="#6c46e2"/><ellipse cx="315.2" cy="390.2" rx="0.75" ry="0.65" fill="#8c70fa"/><ellipse cx="315.7" cy="392.3" rx="1.55" ry="1.30" fill="#3a3cec"/><ellipse cx="315.7" cy="392.3" rx="0.75" ry="0.65" fill="#5a5cff"/><ellipse cx="317.6" cy="393.6" rx="1.55" ry="1.30" fill="#6c46e2"/><ellipse cx="317.6" cy="393.6" rx="0.75" ry="0.65" fill="#8c70fa"/><ellipse cx="327.3" cy="395.7" rx="1.55" ry="1.30" fill="#3a3cec"/><ellipse cx="327.3" cy="395.7" rx="0.75" ry="0.65" fill="#5a5cff"/><ellipse cx="330.9" cy="393.6" rx="1.55" ry="1.30" fill="#3a3cec"/><ellipse cx="330.9" cy="393.6" rx="0.75" ry="0.65" fill="#5a5cff"/><ellipse cx="333.1" cy="396.8" rx="1.55" ry="1.30" fill="#3a3cec"/><ellipse cx="333.1" cy="396.8" rx="0.75" ry="0.65" fill="#5a5cff"/><ellipse cx="336.2" cy="398.3" rx="1.55" ry="1.30" fill="#3a3cec"/><ellipse cx="336.2" cy="398.3" rx="0.75" ry="0.65" fill="#5a5cff"/><ellipse cx="342.0" cy="399.3" rx="1.55" ry="1.30" fill="#6c46e2"/><ellipse cx="342.0" cy="399.3" rx="0.75" ry="0.65" fill="#8c70fa"/><ellipse cx="369.0" cy="368.8" rx="1.55" ry="1.30" fill="#3a3cec"/><ellipse cx="369.0" cy="368.8" rx="0.75" ry="0.65" fill="#5a5cff"/><ellipse cx="374.9" cy="369.7" rx="1.55" ry="1.30" fill="#3a3cec"/><ellipse cx="374.9" cy="369.7" rx="0.75" ry="0.65" fill="#5a5cff"/><ellipse cx="378.4" cy="370.9" rx="1.55" ry="1.30" fill="#3a3cec"/><ellipse cx="378.4" cy="370.9" rx="0.75" ry="0.65" fill="#5a5cff"/><ellipse cx="376.3" cy="373.7" rx="1.55" ry="1.30" fill="#3a3cec"/><ellipse cx="376.3" cy="373.7" rx="0.75" ry="0.65" fill="#5a5cff"/><ellipse cx="357.0" cy="378.6" rx="1.55" ry="1.30" fill="#3a3cec"/><ellipse cx="357.0" cy="378.6" rx="0.75" ry="0.65" fill="#5a5cff"/><ellipse cx="355.3" cy="381.4" rx="1.55" ry="1.30" fill="#6c46e2"/><ellipse cx="355.3" cy="381.4" rx="0.75" ry="0.65" fill="#8c70fa"/><ellipse cx="361.9" cy="380.7" rx="1.55" ry="1.30" fill="#3a3cec"/><ellipse cx="361.9" cy="380.7" rx="0.75" ry="0.65" fill="#5a5cff"/><ellipse cx="368.6" cy="389.4" rx="1.55" ry="1.30" fill="#3a3cec"/><ellipse cx="368.6" cy="389.4" rx="0.75" ry="0.65" fill="#5a5cff"/><ellipse cx="376.3" cy="386.0" rx="1.55" ry="1.30" fill="#3a3cec"/><ellipse cx="376.3" cy="386.0" rx="0.75" ry="0.65" fill="#5a5cff"/><ellipse cx="410.6" cy="359.7" rx="1.55" ry="1.30" fill="#3a3cec"/><ellipse cx="410.6" cy="359.7" rx="0.75" ry="0.65" fill="#5a5cff"/><ellipse cx="421.1" cy="357.9" rx="1.55" ry="1.30" fill="#3a3cec"/><ellipse cx="421.1" cy="357.9" rx="0.75" ry="0.65" fill="#5a5cff"/><ellipse cx="410.6" cy="372.3" rx="1.55" ry="1.30" fill="#3a3cec"/><ellipse cx="410.6" cy="372.3" rx="0.75" ry="0.65" fill="#5a5cff"/><ellipse cx="421.1" cy="374.1" rx="1.55" ry="1.30" fill="#3a3cec"/><ellipse cx="421.1" cy="374.1" rx="0.75" ry="0.65" fill="#5a5cff"/><ellipse cx="402.4" cy="377.6" rx="1.55" ry="1.30" fill="#3a3cec"/><ellipse cx="402.4" cy="377.6" rx="0.75" ry="0.65" fill="#5a5cff"/><ellipse cx="406.8" cy="376.5" rx="1.55" ry="1.30" fill="#3a3cec"/><ellipse cx="406.8" cy="376.5" rx="0.75" ry="0.65" fill="#5a5cff"/><ellipse cx="396.6" cy="378.6" rx="1.55" ry="1.30" fill="#6c46e2"/><ellipse cx="396.6" cy="378.6" rx="0.75" ry="0.65" fill="#8c70fa"/><ellipse cx="399.5" cy="381.0" rx="1.55" ry="1.30" fill="#3a3cec"/><ellipse cx="399.5" cy="381.0" rx="0.75" ry="0.65" fill="#5a5cff"/><ellipse cx="406.8" cy="380.7" rx="1.55" ry="1.30" fill="#3a3cec"/><ellipse cx="406.8" cy="380.7" rx="0.75" ry="0.65" fill="#5a5cff"/><ellipse cx="416.6" cy="381.2" rx="1.55" ry="1.30" fill="#3a3cec"/><ellipse cx="416.6" cy="381.2" rx="0.75" ry="0.65" fill="#5a5cff"/><ellipse cx="397.2" cy="388.6" rx="1.55" ry="1.30" fill="#3a3cec"/><ellipse cx="397.2" cy="388.6" rx="0.75" ry="0.65" fill="#5a5cff"/><ellipse cx="404.3" cy="387.5" rx="1.55" ry="1.30" fill="#3a3cec"/><ellipse cx="404.3" cy="387.5" rx="0.75" ry="0.65" fill="#5a5cff"/><ellipse cx="391.1" cy="392.3" rx="1.55" ry="1.30" fill="#3a3cec"/><ellipse cx="391.1" cy="392.3" rx="0.75" ry="0.65" fill="#5a5cff"/><ellipse cx="394.5" cy="392.6" rx="1.55" ry="1.30" fill="#3a3cec"/><ellipse cx="394.5" cy="392.6" rx="0.75" ry="0.65" fill="#5a5cff"/><ellipse cx="392.1" cy="395.7" rx="1.55" ry="1.30" fill="#3a3cec"/><ellipse cx="392.1" cy="395.7" rx="0.75" ry="0.65" fill="#5a5cff"/><ellipse cx="395.1" cy="396.2" rx="1.55" ry="1.30" fill="#3a3cec"/><ellipse cx="395.1" cy="396.2" rx="0.75" ry="0.65" fill="#5a5cff"/><ellipse cx="405.8" cy="398.3" rx="1.55" ry="1.30" fill="#3a3cec"/><ellipse cx="405.8" cy="398.3" rx="0.75" ry="0.65" fill="#5a5cff"/><ellipse cx="384.5" cy="401.4" rx="1.55" ry="1.30" fill="#3a3cec"/><ellipse cx="384.5" cy="401.4" rx="0.75" ry="0.65" fill="#5a5cff"/><ellipse cx="387.9" cy="401.7" rx="1.55" ry="1.30" fill="#3a3cec"/><ellipse cx="387.9" cy="401.7" rx="0.75" ry="0.65" fill="#5a5cff"/><ellipse cx="431.0" cy="357.6" rx="1.55" ry="1.30" fill="#6c46e2"/><ellipse cx="431.0" cy="357.6" rx="0.75" ry="0.65" fill="#8c70fa"/><ellipse cx="445.9" cy="358.9" rx="1.55" ry="1.30" fill="#6c46e2"/><ellipse cx="445.9" cy="358.9" rx="0.75" ry="0.65" fill="#8c70fa"/><ellipse cx="444.4" cy="360.7" rx="1.55" ry="1.30" fill="#6c46e2"/><ellipse cx="444.4" cy="360.7" rx="0.75" ry="0.65" fill="#8c70fa"/><ellipse cx="436.3" cy="364.2" rx="1.55" ry="1.30" fill="#6c46e2"/><ellipse cx="436.3" cy="364.2" rx="0.75" ry="0.65" fill="#8c70fa"/><ellipse cx="437.3" cy="366.0" rx="1.55" ry="1.30" fill="#6c46e2"/><ellipse cx="437.3" cy="366.0" rx="0.75" ry="0.65" fill="#8c70fa"/><ellipse cx="442.6" cy="367.0" rx="1.55" ry="1.30" fill="#6c46e2"/><ellipse cx="442.6" cy="367.0" rx="0.75" ry="0.65" fill="#8c70fa"/><ellipse cx="445.7" cy="364.9" rx="1.55" ry="1.30" fill="#6c46e2"/><ellipse cx="445.7" cy="364.9" rx="0.75" ry="0.65" fill="#8c70fa"/><ellipse cx="439.8" cy="370.5" rx="1.55" ry="1.30" fill="#3a3cec"/><ellipse cx="439.8" cy="370.5" rx="0.75" ry="0.65" fill="#5a5cff"/><ellipse cx="443.8" cy="374.7" rx="1.55" ry="1.30" fill="#3a3cec"/><ellipse cx="443.8" cy="374.7" rx="0.75" ry="0.65" fill="#5a5cff"/><ellipse cx="440.9" cy="376.8" rx="1.55" ry="1.30" fill="#6c46e2"/><ellipse cx="440.9" cy="376.8" rx="0.75" ry="0.65" fill="#8c70fa"/><ellipse cx="438.0" cy="380.7" rx="1.55" ry="1.30" fill="#3a3cec"/><ellipse cx="438.0" cy="380.7" rx="0.75" ry="0.65" fill="#5a5cff"/><ellipse cx="478.3" cy="365.3" rx="1.55" ry="1.30" fill="#3a3cec"/><ellipse cx="478.3" cy="365.3" rx="0.75" ry="0.65" fill="#5a5cff"/><ellipse cx="480.8" cy="364.4" rx="1.55" ry="1.30" fill="#3a3cec"/><ellipse cx="480.8" cy="364.4" rx="0.75" ry="0.65" fill="#5a5cff"/><ellipse cx="486.4" cy="363.6" rx="1.55" ry="1.30" fill="#6c46e2"/><ellipse cx="486.4" cy="363.6" rx="0.75" ry="0.65" fill="#8c70fa"/><ellipse cx="490.1" cy="361.3" rx="1.55" ry="1.30" fill="#3a3cec"/><ellipse cx="490.1" cy="361.3" rx="0.75" ry="0.65" fill="#5a5cff"/><ellipse cx="490.6" cy="366.0" rx="1.55" ry="1.30" fill="#6c46e2"/><ellipse cx="490.6" cy="366.0" rx="0.75" ry="0.65" fill="#8c70fa"/><ellipse cx="483.3" cy="368.8" rx="1.55" ry="1.30" fill="#3a3cec"/><ellipse cx="483.3" cy="368.8" rx="0.75" ry="0.65" fill="#5a5cff"/><ellipse cx="464.0" cy="377.9" rx="1.55" ry="1.30" fill="#6c46e2"/><ellipse cx="464.0" cy="377.9" rx="0.75" ry="0.65" fill="#8c70fa"/><ellipse cx="467.0" cy="378.1" rx="1.55" ry="1.30" fill="#3a3cec"/><ellipse cx="467.0" cy="378.1" rx="0.75" ry="0.65" fill="#5a5cff"/><ellipse cx="465.9" cy="382.1" rx="1.55" ry="1.30" fill="#3a3cec"/><ellipse cx="465.9" cy="382.1" rx="0.75" ry="0.65" fill="#5a5cff"/><ellipse cx="472.7" cy="378.6" rx="1.55" ry="1.30" fill="#c050c8"/><ellipse cx="472.7" cy="378.6" rx="0.75" ry="0.65" fill="#e090e8"/><ellipse cx="472.7" cy="381.8" rx="1.55" ry="1.30" fill="#3a3cec"/><ellipse cx="472.7" cy="381.8" rx="0.75" ry="0.65" fill="#5a5cff"/><ellipse cx="476.2" cy="377.6" rx="1.55" ry="1.30" fill="#6c46e2"/><ellipse cx="476.2" cy="377.6" rx="0.75" ry="0.65" fill="#8c70fa"/><ellipse cx="486.4" cy="392.6" rx="1.55" ry="1.30" fill="#3a3cec"/><ellipse cx="486.4" cy="392.6" rx="0.75" ry="0.65" fill="#5a5cff"/><ellipse cx="488.5" cy="396.0" rx="1.55" ry="1.30" fill="#3a3cec"/><ellipse cx="488.5" cy="396.0" rx="0.75" ry="0.65" fill="#5a5cff"/><ellipse cx="485.4" cy="395.7" rx="1.55" ry="1.30" fill="#6c46e2"/><ellipse cx="485.4" cy="395.7" rx="0.75" ry="0.65" fill="#8c70fa"/><ellipse cx="485.9" cy="397.9" rx="1.55" ry="1.30" fill="#c050c8"/><ellipse cx="485.9" cy="397.9" rx="0.75" ry="0.65" fill="#e090e8"/><ellipse cx="447.2" cy="398.3" rx="1.55" ry="1.30" fill="#3a3cec"/><ellipse cx="447.2" cy="398.3" rx="0.75" ry="0.65" fill="#5a5cff"/><ellipse cx="451.7" cy="398.1" rx="1.55" ry="1.30" fill="#3a3cec"/><ellipse cx="451.7" cy="398.1" rx="0.75" ry="0.65" fill="#5a5cff"/><ellipse cx="435.9" cy="401.0" rx="1.55" ry="1.30" fill="#6c46e2"/><ellipse cx="435.9" cy="401.0" rx="0.75" ry="0.65" fill="#8c70fa"/><ellipse cx="458.8" cy="402.3" rx="1.55" ry="1.30" fill="#3a3cec"/><ellipse cx="458.8" cy="402.3" rx="0.75" ry="0.65" fill="#5a5cff"/><ellipse cx="470.3" cy="400.7" rx="1.55" ry="1.30" fill="#3a3cec"/><ellipse cx="470.3" cy="400.7" rx="0.75" ry="0.65" fill="#5a5cff"/><ellipse cx="477.3" cy="399.6" rx="1.55" ry="1.30" fill="#3a3cec"/><ellipse cx="477.3" cy="399.6" rx="0.75" ry="0.65" fill="#5a5cff"/><ellipse cx="477.3" cy="402.5" rx="1.55" ry="1.30" fill="#3a3cec"/><ellipse cx="477.3" cy="402.5" rx="0.75" ry="0.65" fill="#5a5cff"/><ellipse cx="510.5" cy="358.9" rx="1.55" ry="1.30" fill="#3a3cec"/><ellipse cx="510.5" cy="358.9" rx="0.75" ry="0.65" fill="#5a5cff"/><ellipse cx="520.8" cy="360.4" rx="1.55" ry="1.30" fill="#3a3cec"/><ellipse cx="520.8" cy="360.4" rx="0.75" ry="0.65" fill="#5a5cff"/><ellipse cx="518.1" cy="363.4" rx="1.55" ry="1.30" fill="#3a3cec"/><ellipse cx="518.1" cy="363.4" rx="0.75" ry="0.65" fill="#5a5cff"/><ellipse cx="514.5" cy="369.1" rx="1.55" ry="1.30" fill="#3a3cec"/><ellipse cx="514.5" cy="369.1" rx="0.75" ry="0.65" fill="#5a5cff"/><ellipse cx="513.5" cy="375.5" rx="1.55" ry="1.30" fill="#3a3cec"/><ellipse cx="513.5" cy="375.5" rx="0.75" ry="0.65" fill="#5a5cff"/><ellipse cx="530.3" cy="367.0" rx="1.55" ry="1.30" fill="#3a3cec"/><ellipse cx="530.3" cy="367.0" rx="0.75" ry="0.65" fill="#5a5cff"/><ellipse cx="533.9" cy="367.8" rx="1.55" ry="1.30" fill="#3a3cec"/><ellipse cx="533.9" cy="367.8" rx="0.75" ry="0.65" fill="#5a5cff"/><ellipse cx="533.1" cy="380.2" rx="1.55" ry="1.30" fill="#6c46e2"/><ellipse cx="533.1" cy="380.2" rx="0.75" ry="0.65" fill="#8c70fa"/><ellipse cx="541.0" cy="387.0" rx="1.55" ry="1.30" fill="#3a3cec"/><ellipse cx="541.0" cy="387.0" rx="0.75" ry="0.65" fill="#5a5cff"/><ellipse cx="548.9" cy="364.6" rx="1.55" ry="1.30" fill="#6c46e2"/><ellipse cx="548.9" cy="364.6" rx="0.75" ry="0.65" fill="#8c70fa"/><ellipse cx="552.6" cy="364.9" rx="1.55" ry="1.30" fill="#6c46e2"/><ellipse cx="552.6" cy="364.9" rx="0.75" ry="0.65" fill="#8c70fa"/><ellipse cx="555.2" cy="363.4" rx="1.55" ry="1.30" fill="#3a3cec"/><ellipse cx="555.2" cy="363.4" rx="0.75" ry="0.65" fill="#5a5cff"/><ellipse cx="558.7" cy="362.5" rx="1.55" ry="1.30" fill="#3a3cec"/><ellipse cx="558.7" cy="362.5" rx="0.75" ry="0.65" fill="#5a5cff"/><ellipse cx="561.5" cy="373.4" rx="1.55" ry="1.30" fill="#6c46e2"/><ellipse cx="561.5" cy="373.4" rx="0.75" ry="0.65" fill="#8c70fa"/><ellipse cx="566.5" cy="377.9" rx="1.55" ry="1.30" fill="#3a3cec"/><ellipse cx="566.5" cy="377.9" rx="0.75" ry="0.65" fill="#5a5cff"/><ellipse cx="552.8" cy="382.8" rx="1.55" ry="1.30" fill="#3a3cec"/><ellipse cx="552.8" cy="382.8" rx="0.75" ry="0.65" fill="#5a5cff"/><ellipse cx="552.1" cy="386.3" rx="1.55" ry="1.30" fill="#3a3cec"/><ellipse cx="552.1" cy="386.3" rx="0.75" ry="0.65" fill="#5a5cff"/><ellipse cx="556.3" cy="386.5" rx="1.55" ry="1.30" fill="#3a3cec"/><ellipse cx="556.3" cy="386.5" rx="0.75" ry="0.65" fill="#5a5cff"/><ellipse cx="567.8" cy="387.3" rx="1.55" ry="1.30" fill="#3a3cec"/><ellipse cx="567.8" cy="387.3" rx="0.75" ry="0.65" fill="#5a5cff"/><ellipse cx="501.3" cy="394.1" rx="1.55" ry="1.30" fill="#3a3cec"/><ellipse cx="501.3" cy="394.1" rx="0.75" ry="0.65" fill="#5a5cff"/><ellipse cx="504.2" cy="393.0" rx="1.55" ry="1.30" fill="#3a3cec"/><ellipse cx="504.2" cy="393.0" rx="0.75" ry="0.65" fill="#5a5cff"/><ellipse cx="514.2" cy="395.7" rx="1.55" ry="1.30" fill="#3a3cec"/><ellipse cx="514.2" cy="395.7" rx="0.75" ry="0.65" fill="#5a5cff"/><ellipse cx="514.2" cy="398.6" rx="1.55" ry="1.30" fill="#3a3cec"/><ellipse cx="514.2" cy="398.6" rx="0.75" ry="0.65" fill="#5a5cff"/><ellipse cx="512.6" cy="400.7" rx="1.55" ry="1.30" fill="#3a3cec"/><ellipse cx="512.6" cy="400.7" rx="0.75" ry="0.65" fill="#5a5cff"/><ellipse cx="506.8" cy="399.3" rx="1.55" ry="1.30" fill="#3a3cec"/><ellipse cx="506.8" cy="399.3" rx="0.75" ry="0.65" fill="#5a5cff"/><ellipse cx="518.4" cy="401.4" rx="1.55" ry="1.30" fill="#3a3cec"/><ellipse cx="518.4" cy="401.4" rx="0.75" ry="0.65" fill="#5a5cff"/><ellipse cx="583.5" cy="357.9" rx="1.65" ry="1.40" fill="#8a48e8"/><ellipse cx="583.5" cy="357.9" rx="0.75" ry="0.65" fill="#a878fa"/><ellipse cx="586.7" cy="358.3" rx="1.65" ry="1.40" fill="#8a48e8"/><ellipse cx="586.7" cy="358.3" rx="0.75" ry="0.65" fill="#a878fa"/><ellipse cx="594.9" cy="361.3" rx="1.55" ry="1.30" fill="#3a3cec"/><ellipse cx="594.9" cy="361.3" rx="0.75" ry="0.65" fill="#5a5cff"/><ellipse cx="606.9" cy="360.4" rx="1.55" ry="1.30" fill="#3a3cec"/><ellipse cx="606.9" cy="360.4" rx="0.75" ry="0.65" fill="#5a5cff"/><ellipse cx="581.2" cy="363.2" rx="1.65" ry="1.40" fill="#8a48e8"/><ellipse cx="581.2" cy="363.2" rx="0.75" ry="0.65" fill="#a878fa"/><ellipse cx="590.4" cy="364.6" rx="1.65" ry="1.40" fill="#c050c8"/><ellipse cx="590.4" cy="364.6" rx="0.75" ry="0.65" fill="#e090e8"/><ellipse cx="604.3" cy="366.0" rx="1.65" ry="1.40" fill="#8a48e8"/><ellipse cx="604.3" cy="366.0" rx="0.75" ry="0.65" fill="#a878fa"/><ellipse cx="610.6" cy="367.0" rx="1.55" ry="1.30" fill="#3a3cec"/><ellipse cx="610.6" cy="367.0" rx="0.75" ry="0.65" fill="#5a5cff"/><ellipse cx="623.3" cy="366.5" rx="1.65" ry="1.40" fill="#8a48e8"/><ellipse cx="623.3" cy="366.5" rx="0.75" ry="0.65" fill="#a878fa"/><ellipse cx="615.6" cy="372.6" rx="1.65" ry="1.40" fill="#8a48e8"/><ellipse cx="615.6" cy="372.6" rx="0.75" ry="0.65" fill="#a878fa"/><ellipse cx="606.4" cy="373.4" rx="1.65" ry="1.40" fill="#8a48e8"/><ellipse cx="606.4" cy="373.4" rx="0.75" ry="0.65" fill="#a878fa"/><ellipse cx="630.6" cy="376.0" rx="1.55" ry="1.30" fill="#3a3cec"/><ellipse cx="630.6" cy="376.0" rx="0.75" ry="0.65" fill="#5a5cff"/><ellipse cx="636.6" cy="374.1" rx="1.65" ry="1.40" fill="#8a48e8"/><ellipse cx="636.6" cy="374.1" rx="0.75" ry="0.65" fill="#a878fa"/><ellipse cx="639.2" cy="357.3" rx="1.65" ry="1.40" fill="#8a48e8"/><ellipse cx="639.2" cy="357.3" rx="0.75" ry="0.65" fill="#a878fa"/><ellipse cx="587.7" cy="381.8" rx="1.55" ry="1.30" fill="#3a3cec"/><ellipse cx="587.7" cy="381.8" rx="0.75" ry="0.65" fill="#5a5cff"/><ellipse cx="588.8" cy="387.0" rx="1.55" ry="1.30" fill="#3a3cec"/><ellipse cx="588.8" cy="387.0" rx="0.75" ry="0.65" fill="#5a5cff"/><ellipse cx="590.9" cy="389.1" rx="1.55" ry="1.30" fill="#3a3cec"/><ellipse cx="590.9" cy="389.1" rx="0.75" ry="0.65" fill="#5a5cff"/><ellipse cx="598.0" cy="390.5" rx="1.65" ry="1.40" fill="#8a48e8"/><ellipse cx="598.0" cy="390.5" rx="0.75" ry="0.65" fill="#a878fa"/><ellipse cx="585.1" cy="392.8" rx="1.65" ry="1.40" fill="#8a48e8"/><ellipse cx="585.1" cy="392.8" rx="0.75" ry="0.65" fill="#a878fa"/><ellipse cx="591.9" cy="393.6" rx="1.65" ry="1.40" fill="#8a48e8"/><ellipse cx="591.9" cy="393.6" rx="0.75" ry="0.65" fill="#a878fa"/><ellipse cx="592.1" cy="395.1" rx="1.65" ry="1.40" fill="#8a48e8"/><ellipse cx="592.1" cy="395.1" rx="0.75" ry="0.65" fill="#a878fa"/><ellipse cx="585.4" cy="400.2" rx="1.55" ry="1.30" fill="#3a3cec"/><ellipse cx="585.4" cy="400.2" rx="0.75" ry="0.65" fill="#5a5cff"/><ellipse cx="587.2" cy="402.3" rx="1.55" ry="1.30" fill="#3a3cec"/><ellipse cx="587.2" cy="402.3" rx="0.75" ry="0.65" fill="#5a5cff"/><ellipse cx="613.2" cy="399.3" rx="1.65" ry="1.40" fill="#8a48e8"/><ellipse cx="613.2" cy="399.3" rx="0.75" ry="0.65" fill="#a878fa"/><ellipse cx="627.9" cy="388.4" rx="1.55" ry="1.30" fill="#3a3cec"/><ellipse cx="627.9" cy="388.4" rx="0.75" ry="0.65" fill="#5a5cff"/><ellipse cx="632.9" cy="386.7" rx="1.55" ry="1.30" fill="#3a3cec"/><ellipse cx="632.9" cy="386.7" rx="0.75" ry="0.65" fill="#5a5cff"/><ellipse cx="638.0" cy="382.1" rx="1.55" ry="1.30" fill="#3a3cec"/><ellipse cx="638.0" cy="382.1" rx="0.75" ry="0.65" fill="#5a5cff"/><ellipse cx="638.4" cy="390.5" rx="1.65" ry="1.40" fill="#8a48e8"/><ellipse cx="638.4" cy="390.5" rx="0.75" ry="0.65" fill="#a878fa"/><ellipse cx="631.7" cy="391.5" rx="1.55" ry="1.30" fill="#3a3cec"/><ellipse cx="631.7" cy="391.5" rx="0.75" ry="0.65" fill="#5a5cff"/><ellipse cx="632.4" cy="393.6" rx="1.55" ry="1.30" fill="#3a3cec"/><ellipse cx="632.4" cy="393.6" rx="0.75" ry="0.65" fill="#5a5cff"/><ellipse cx="632.4" cy="396.0" rx="1.65" ry="1.40" fill="#8a48e8"/><ellipse cx="632.4" cy="396.0" rx="0.75" ry="0.65" fill="#a878fa"/><ellipse cx="622.4" cy="394.7" rx="1.65" ry="1.40" fill="#8a48e8"/><ellipse cx="622.4" cy="394.7" rx="0.75" ry="0.65" fill="#a878fa"/><ellipse cx="619.3" cy="396.5" rx="1.55" ry="1.30" fill="#3a3cec"/><ellipse cx="619.3" cy="396.5" rx="0.75" ry="0.65" fill="#5a5cff"/><ellipse cx="626.6" cy="397.0" rx="1.55" ry="1.30" fill="#3a3cec"/><ellipse cx="626.6" cy="397.0" rx="0.75" ry="0.65" fill="#5a5cff"/><ellipse cx="72.4" cy="406.5" rx="1.55" ry="1.30" fill="#3a3cec"/><ellipse cx="72.4" cy="406.5" rx="0.75" ry="0.65" fill="#5a5cff"/><ellipse cx="69.9" cy="411.8" rx="1.55" ry="1.30" fill="#3a3cec"/><ellipse cx="69.9" cy="411.8" rx="0.75" ry="0.65" fill="#5a5cff"/><ellipse cx="75.5" cy="413.6" rx="1.55" ry="1.30" fill="#3a3cec"/><ellipse cx="75.5" cy="413.6" rx="0.75" ry="0.65" fill="#5a5cff"/><ellipse cx="64.2" cy="420.9" rx="1.55" ry="1.30" fill="#3a3cec"/><ellipse cx="64.2" cy="420.9" rx="0.75" ry="0.65" fill="#5a5cff"/><ellipse cx="72.4" cy="420.5" rx="1.55" ry="1.30" fill="#3a3cec"/><ellipse cx="72.4" cy="420.5" rx="0.75" ry="0.65" fill="#5a5cff"/><ellipse cx="74.1" cy="421.8" rx="1.55" ry="1.30" fill="#3a3cec"/><ellipse cx="74.1" cy="421.8" rx="0.75" ry="0.65" fill="#5a5cff"/><ellipse cx="68.9" cy="423.9" rx="1.55" ry="1.30" fill="#6c46e2"/><ellipse cx="68.9" cy="423.9" rx="0.75" ry="0.65" fill="#8c70fa"/><ellipse cx="69.2" cy="426.2" rx="1.55" ry="1.30" fill="#3a3cec"/><ellipse cx="69.2" cy="426.2" rx="0.75" ry="0.65" fill="#5a5cff"/><ellipse cx="74.5" cy="424.7" rx="1.55" ry="1.30" fill="#3a3cec"/><ellipse cx="74.5" cy="424.7" rx="0.75" ry="0.65" fill="#5a5cff"/><ellipse cx="78.9" cy="426.5" rx="1.55" ry="1.30" fill="#6c46e2"/><ellipse cx="78.9" cy="426.5" rx="0.75" ry="0.65" fill="#8c70fa"/><ellipse cx="69.9" cy="435.7" rx="1.55" ry="1.30" fill="#3a3cec"/><ellipse cx="69.9" cy="435.7" rx="0.75" ry="0.65" fill="#5a5cff"/><ellipse cx="103.1" cy="410.7" rx="1.55" ry="1.30" fill="#6c46e2"/><ellipse cx="103.1" cy="410.7" rx="0.75" ry="0.65" fill="#8c70fa"/><ellipse cx="103.9" cy="417.4" rx="1.55" ry="1.30" fill="#3a3cec"/><ellipse cx="103.9" cy="417.4" rx="0.75" ry="0.65" fill="#5a5cff"/><ellipse cx="123.3" cy="408.6" rx="1.55" ry="1.30" fill="#3a3cec"/><ellipse cx="123.3" cy="408.6" rx="0.75" ry="0.65" fill="#5a5cff"/><ellipse cx="117.8" cy="419.1" rx="1.55" ry="1.30" fill="#3a3cec"/><ellipse cx="117.8" cy="419.1" rx="0.75" ry="0.65" fill="#5a5cff"/><ellipse cx="117.3" cy="421.8" rx="1.55" ry="1.30" fill="#3a3cec"/><ellipse cx="117.3" cy="421.8" rx="0.75" ry="0.65" fill="#5a5cff"/><ellipse cx="126.0" cy="421.2" rx="1.55" ry="1.30" fill="#3a3cec"/><ellipse cx="126.0" cy="421.2" rx="0.75" ry="0.65" fill="#5a5cff"/><ellipse cx="118.3" cy="426.0" rx="1.55" ry="1.30" fill="#3a3cec"/><ellipse cx="118.3" cy="426.0" rx="0.75" ry="0.65" fill="#5a5cff"/><ellipse cx="119.4" cy="428.1" rx="1.55" ry="1.30" fill="#3a3cec"/><ellipse cx="119.4" cy="428.1" rx="0.75" ry="0.65" fill="#5a5cff"/><ellipse cx="124.6" cy="428.1" rx="1.55" ry="1.30" fill="#3a3cec"/><ellipse cx="124.6" cy="428.1" rx="0.75" ry="0.65" fill="#5a5cff"/><ellipse cx="122.2" cy="434.4" rx="1.55" ry="1.30" fill="#3a3cec"/><ellipse cx="122.2" cy="434.4" rx="0.75" ry="0.65" fill="#5a5cff"/><ellipse cx="126.7" cy="435.7" rx="1.55" ry="1.30" fill="#3a3cec"/><ellipse cx="126.7" cy="435.7" rx="0.75" ry="0.65" fill="#5a5cff"/><ellipse cx="130.6" cy="437.3" rx="1.55" ry="1.30" fill="#3a3cec"/><ellipse cx="130.6" cy="437.3" rx="0.75" ry="0.65" fill="#5a5cff"/><ellipse cx="92.8" cy="445.7" rx="1.55" ry="1.30" fill="#3a3cec"/><ellipse cx="92.8" cy="445.7" rx="0.75" ry="0.65" fill="#5a5cff"/><ellipse cx="98.9" cy="444.4" rx="1.55" ry="1.30" fill="#6c46e2"/><ellipse cx="98.9" cy="444.4" rx="0.75" ry="0.65" fill="#8c70fa"/><ellipse cx="98.3" cy="447.5" rx="1.55" ry="1.30" fill="#3a3cec"/><ellipse cx="98.3" cy="447.5" rx="0.75" ry="0.65" fill="#5a5cff"/><ellipse cx="104.1" cy="446.5" rx="1.55" ry="1.30" fill="#3a3cec"/><ellipse cx="104.1" cy="446.5" rx="0.75" ry="0.65" fill="#5a5cff"/><ellipse cx="94.9" cy="452.1" rx="1.55" ry="1.30" fill="#3a3cec"/><ellipse cx="94.9" cy="452.1" rx="0.75" ry="0.65" fill="#5a5cff"/><ellipse cx="165.0" cy="407.9" rx="1.65" ry="1.40" fill="#8c46e4"/><ellipse cx="165.0" cy="407.9" rx="0.75" ry="0.65" fill="#a874f6"/><ellipse cx="162.5" cy="411.8" rx="1.65" ry="1.40" fill="#8c46e4"/><ellipse cx="162.5" cy="411.8" rx="0.75" ry="0.65" fill="#a874f6"/><ellipse cx="174.1" cy="410.2" rx="1.65" ry="1.40" fill="#8c46e4"/><ellipse cx="174.1" cy="410.2" rx="0.75" ry="0.65" fill="#a874f6"/><ellipse cx="201.8" cy="409.7" rx="1.65" ry="1.40" fill="#8c46e4"/><ellipse cx="201.8" cy="409.7" rx="0.75" ry="0.65" fill="#a874f6"/><ellipse cx="200.2" cy="412.5" rx="1.65" ry="1.40" fill="#8c46e4"/><ellipse cx="200.2" cy="412.5" rx="0.75" ry="0.65" fill="#a874f6"/><ellipse cx="140.5" cy="416.7" rx="1.65" ry="1.40" fill="#c050c8"/><ellipse cx="140.5" cy="416.7" rx="0.75" ry="0.65" fill="#e090e8"/><ellipse cx="144.7" cy="417.8" rx="1.65" ry="1.40" fill="#c050c8"/><ellipse cx="144.7" cy="417.8" rx="0.75" ry="0.65" fill="#e090e8"/><ellipse cx="143.9" cy="420.2" rx="1.65" ry="1.40" fill="#8c46e4"/><ellipse cx="143.9" cy="420.2" rx="0.75" ry="0.65" fill="#a874f6"/><ellipse cx="151.6" cy="419.7" rx="1.65" ry="1.40" fill="#8c46e4"/><ellipse cx="151.6" cy="419.7" rx="0.75" ry="0.65" fill="#a874f6"/><ellipse cx="151.0" cy="423.4" rx="1.65" ry="1.40" fill="#8c46e4"/><ellipse cx="151.0" cy="423.4" rx="0.75" ry="0.65" fill="#a874f6"/><ellipse cx="145.3" cy="426.5" rx="1.65" ry="1.40" fill="#8c46e4"/><ellipse cx="145.3" cy="426.5" rx="0.75" ry="0.65" fill="#a874f6"/><ellipse cx="150.8" cy="428.1" rx="1.65" ry="1.40" fill="#c050c8"/><ellipse cx="150.8" cy="428.1" rx="0.75" ry="0.65" fill="#e090e8"/><ellipse cx="155.2" cy="426.5" rx="1.65" ry="1.40" fill="#8c46e4"/><ellipse cx="155.2" cy="426.5" rx="0.75" ry="0.65" fill="#a874f6"/><ellipse cx="154.8" cy="428.9" rx="1.65" ry="1.40" fill="#c050c8"/><ellipse cx="154.8" cy="428.9" rx="0.75" ry="0.65" fill="#e090e8"/><ellipse cx="157.9" cy="433.1" rx="1.65" ry="1.40" fill="#8c46e4"/><ellipse cx="157.9" cy="433.1" rx="0.75" ry="0.65" fill="#a874f6"/><ellipse cx="156.9" cy="437.3" rx="1.65" ry="1.40" fill="#8c46e4"/><ellipse cx="156.9" cy="437.3" rx="0.75" ry="0.65" fill="#a874f6"/><ellipse cx="155.2" cy="441.8" rx="1.65" ry="1.40" fill="#8c46e4"/><ellipse cx="155.2" cy="441.8" rx="0.75" ry="0.65" fill="#a874f6"/><ellipse cx="159.4" cy="442.0" rx="1.65" ry="1.40" fill="#8c46e4"/><ellipse cx="159.4" cy="442.0" rx="0.75" ry="0.65" fill="#a874f6"/><ellipse cx="163.9" cy="441.8" rx="1.65" ry="1.40" fill="#8c46e4"/><ellipse cx="163.9" cy="441.8" rx="0.75" ry="0.65" fill="#a874f6"/><ellipse cx="169.7" cy="436.0" rx="1.65" ry="1.40" fill="#8c46e4"/><ellipse cx="169.7" cy="436.0" rx="0.75" ry="0.65" fill="#a874f6"/><ellipse cx="168.4" cy="438.8" rx="1.65" ry="1.40" fill="#8c46e4"/><ellipse cx="168.4" cy="438.8" rx="0.75" ry="0.65" fill="#a874f6"/><ellipse cx="171.3" cy="438.8" rx="1.65" ry="1.40" fill="#8c46e4"/><ellipse cx="171.3" cy="438.8" rx="0.75" ry="0.65" fill="#a874f6"/><ellipse cx="168.1" cy="446.5" rx="1.65" ry="1.40" fill="#8c46e4"/><ellipse cx="168.1" cy="446.5" rx="0.75" ry="0.65" fill="#a874f6"/><ellipse cx="160.2" cy="449.1" rx="1.65" ry="1.40" fill="#8c46e4"/><ellipse cx="160.2" cy="449.1" rx="0.75" ry="0.65" fill="#a874f6"/><ellipse cx="154.5" cy="453.5" rx="1.65" ry="1.40" fill="#8c46e4"/><ellipse cx="154.5" cy="453.5" rx="0.75" ry="0.65" fill="#a874f6"/><ellipse cx="196.8" cy="432.5" rx="1.65" ry="1.40" fill="#8c46e4"/><ellipse cx="196.8" cy="432.5" rx="0.75" ry="0.65" fill="#a874f6"/><ellipse cx="202.8" cy="433.1" rx="1.65" ry="1.40" fill="#8c46e4"/><ellipse cx="202.8" cy="433.1" rx="0.75" ry="0.65" fill="#a874f6"/><ellipse cx="189.7" cy="439.6" rx="1.65" ry="1.40" fill="#8c46e4"/><ellipse cx="189.7" cy="439.6" rx="0.75" ry="0.65" fill="#a874f6"/><ellipse cx="192.3" cy="439.9" rx="1.65" ry="1.40" fill="#c050c8"/><ellipse cx="192.3" cy="439.9" rx="0.75" ry="0.65" fill="#e090e8"/><ellipse cx="190.2" cy="442.3" rx="1.65" ry="1.40" fill="#8c46e4"/><ellipse cx="190.2" cy="442.3" rx="0.75" ry="0.65" fill="#a874f6"/><ellipse cx="188.1" cy="444.4" rx="1.65" ry="1.40" fill="#c050c8"/><ellipse cx="188.1" cy="444.4" rx="0.75" ry="0.65" fill="#e090e8"/><ellipse cx="191.8" cy="445.1" rx="1.65" ry="1.40" fill="#8c46e4"/><ellipse cx="191.8" cy="445.1" rx="0.75" ry="0.65" fill="#a874f6"/><ellipse cx="193.9" cy="447.9" rx="1.65" ry="1.40" fill="#8c46e4"/><ellipse cx="193.9" cy="447.9" rx="0.75" ry="0.65" fill="#a874f6"/><ellipse cx="198.1" cy="446.8" rx="1.65" ry="1.40" fill="#8c46e4"/><ellipse cx="198.1" cy="446.8" rx="0.75" ry="0.65" fill="#a874f6"/><ellipse cx="200.7" cy="444.7" rx="1.65" ry="1.40" fill="#8c46e4"/><ellipse cx="200.7" cy="444.7" rx="0.75" ry="0.65" fill="#a874f6"/><ellipse cx="181.3" cy="450.7" rx="1.65" ry="1.40" fill="#8c46e4"/><ellipse cx="181.3" cy="450.7" rx="0.75" ry="0.65" fill="#a874f6"/><ellipse cx="186.5" cy="451.0" rx="1.65" ry="1.40" fill="#8c46e4"/><ellipse cx="186.5" cy="451.0" rx="0.75" ry="0.65" fill="#a874f6"/><ellipse cx="191.3" cy="451.2" rx="1.65" ry="1.40" fill="#8c46e4"/><ellipse cx="191.3" cy="451.2" rx="0.75" ry="0.65" fill="#a874f6"/><ellipse cx="213.3" cy="407.6" rx="1.55" ry="1.30" fill="#3a3cec"/><ellipse cx="213.3" cy="407.6" rx="0.75" ry="0.65" fill="#5a5cff"/><ellipse cx="217.7" cy="414.6" rx="1.65" ry="1.40" fill="#8c46e4"/><ellipse cx="217.7" cy="414.6" rx="0.75" ry="0.65" fill="#a874f6"/><ellipse cx="219.6" cy="420.9" rx="1.65" ry="1.40" fill="#8c46e4"/><ellipse cx="219.6" cy="420.9" rx="0.75" ry="0.65" fill="#a874f6"/><ellipse cx="224.3" cy="419.5" rx="1.65" ry="1.40" fill="#8c46e4"/><ellipse cx="224.3" cy="419.5" rx="0.75" ry="0.65" fill="#a874f6"/><ellipse cx="216.9" cy="426.2" rx="1.65" ry="1.40" fill="#8c46e4"/><ellipse cx="216.9" cy="426.2" rx="0.75" ry="0.65" fill="#a874f6"/><ellipse cx="216.6" cy="430.0" rx="1.65" ry="1.40" fill="#8c46e4"/><ellipse cx="216.6" cy="430.0" rx="0.75" ry="0.65" fill="#a874f6"/><ellipse cx="219.8" cy="429.3" rx="1.65" ry="1.40" fill="#8c46e4"/><ellipse cx="219.8" cy="429.3" rx="0.75" ry="0.65" fill="#a874f6"/><ellipse cx="223.6" cy="424.7" rx="1.65" ry="1.40" fill="#8c46e4"/><ellipse cx="223.6" cy="424.7" rx="0.75" ry="0.65" fill="#a874f6"/><ellipse cx="223.8" cy="429.7" rx="1.65" ry="1.40" fill="#8c46e4"/><ellipse cx="223.8" cy="429.7" rx="0.75" ry="0.65" fill="#a874f6"/><ellipse cx="228.0" cy="431.0" rx="1.65" ry="1.40" fill="#8c46e4"/><ellipse cx="228.0" cy="431.0" rx="0.75" ry="0.65" fill="#a874f6"/><ellipse cx="231.1" cy="425.5" rx="1.65" ry="1.40" fill="#8c46e4"/><ellipse cx="231.1" cy="425.5" rx="0.75" ry="0.65" fill="#a874f6"/><ellipse cx="233.0" cy="422.0" rx="1.65" ry="1.40" fill="#8c46e4"/><ellipse cx="233.0" cy="422.0" rx="0.75" ry="0.65" fill="#a874f6"/><ellipse cx="232.4" cy="431.4" rx="1.65" ry="1.40" fill="#8c46e4"/><ellipse cx="232.4" cy="431.4" rx="0.75" ry="0.65" fill="#a874f6"/><ellipse cx="235.5" cy="428.9" rx="1.65" ry="1.40" fill="#8c46e4"/><ellipse cx="235.5" cy="428.9" rx="0.75" ry="0.65" fill="#a874f6"/><ellipse cx="225.9" cy="436.0" rx="1.65" ry="1.40" fill="#8c46e4"/><ellipse cx="225.9" cy="436.0" rx="0.75" ry="0.65" fill="#a874f6"/><ellipse cx="230.3" cy="438.4" rx="1.65" ry="1.40" fill="#8c46e4"/><ellipse cx="230.3" cy="438.4" rx="0.75" ry="0.65" fill="#a874f6"/><ellipse cx="235.5" cy="437.8" rx="1.65" ry="1.40" fill="#8c46e4"/><ellipse cx="235.5" cy="437.8" rx="0.75" ry="0.65" fill="#a874f6"/><ellipse cx="238.5" cy="440.7" rx="1.65" ry="1.40" fill="#8c46e4"/><ellipse cx="238.5" cy="440.7" rx="0.75" ry="0.65" fill="#a874f6"/><ellipse cx="229.6" cy="443.0" rx="1.65" ry="1.40" fill="#8c46e4"/><ellipse cx="229.6" cy="443.0" rx="0.75" ry="0.65" fill="#a874f6"/><ellipse cx="233.0" cy="443.0" rx="1.65" ry="1.40" fill="#8c46e4"/><ellipse cx="233.0" cy="443.0" rx="0.75" ry="0.65" fill="#a874f6"/><ellipse cx="239.5" cy="443.6" rx="1.65" ry="1.40" fill="#8c46e4"/><ellipse cx="239.5" cy="443.6" rx="0.75" ry="0.65" fill="#a874f6"/><ellipse cx="254.8" cy="409.4" rx="1.65" ry="1.40" fill="#8c46e4"/><ellipse cx="254.8" cy="409.4" rx="0.75" ry="0.65" fill="#a874f6"/><ellipse cx="255.3" cy="413.9" rx="1.65" ry="1.40" fill="#8c46e4"/><ellipse cx="255.3" cy="413.9" rx="0.75" ry="0.65" fill="#a874f6"/><ellipse cx="256.4" cy="418.4" rx="1.65" ry="1.40" fill="#8c46e4"/><ellipse cx="256.4" cy="418.4" rx="0.75" ry="0.65" fill="#a874f6"/><ellipse cx="262.9" cy="417.6" rx="1.65" ry="1.40" fill="#8c46e4"/><ellipse cx="262.9" cy="417.6" rx="0.75" ry="0.65" fill="#a874f6"/><ellipse cx="270.6" cy="440.7" rx="1.65" ry="1.40" fill="#8c46e4"/><ellipse cx="270.6" cy="440.7" rx="0.75" ry="0.65" fill="#a874f6"/><ellipse cx="269.0" cy="443.0" rx="1.65" ry="1.40" fill="#8c46e4"/><ellipse cx="269.0" cy="443.0" rx="0.75" ry="0.65" fill="#a874f6"/><ellipse cx="272.7" cy="446.5" rx="1.65" ry="1.40" fill="#8c46e4"/><ellipse cx="272.7" cy="446.5" rx="0.75" ry="0.65" fill="#a874f6"/><ellipse cx="213.5" cy="451.7" rx="1.65" ry="1.40" fill="#8c46e4"/><ellipse cx="213.5" cy="451.7" rx="0.75" ry="0.65" fill="#a874f6"/><ellipse cx="247.4" cy="451.2" rx="1.65" ry="1.40" fill="#8c46e4"/><ellipse cx="247.4" cy="451.2" rx="0.75" ry="0.65" fill="#a874f6"/><ellipse cx="291.3" cy="413.9" rx="1.65" ry="1.40" fill="#8a48e8"/><ellipse cx="291.3" cy="413.9" rx="0.75" ry="0.65" fill="#a878fa"/><ellipse cx="299.1" cy="410.2" rx="1.65" ry="1.40" fill="#8a48e8"/><ellipse cx="299.1" cy="410.2" rx="0.75" ry="0.65" fill="#a878fa"/><ellipse cx="316.5" cy="409.2" rx="1.65" ry="1.40" fill="#8a48e8"/><ellipse cx="316.5" cy="409.2" rx="0.75" ry="0.65" fill="#a878fa"/><ellipse cx="318.6" cy="412.5" rx="1.65" ry="1.40" fill="#8a48e8"/><ellipse cx="318.6" cy="412.5" rx="0.75" ry="0.65" fill="#a878fa"/><ellipse cx="316.5" cy="414.6" rx="1.65" ry="1.40" fill="#8a48e8"/><ellipse cx="316.5" cy="414.6" rx="0.75" ry="0.65" fill="#a878fa"/><ellipse cx="311.7" cy="419.1" rx="1.65" ry="1.40" fill="#8a48e8"/><ellipse cx="311.7" cy="419.1" rx="0.75" ry="0.65" fill="#a878fa"/><ellipse cx="314.4" cy="418.4" rx="1.65" ry="1.40" fill="#8a48e8"/><ellipse cx="314.4" cy="418.4" rx="0.75" ry="0.65" fill="#a878fa"/><ellipse cx="296.8" cy="426.5" rx="1.55" ry="1.30" fill="#3a3cec"/><ellipse cx="296.8" cy="426.5" rx="0.75" ry="0.65" fill="#5a5cff"/><ellipse cx="298.4" cy="429.3" rx="1.65" ry="1.40" fill="#8a48e8"/><ellipse cx="298.4" cy="429.3" rx="0.75" ry="0.65" fill="#a878fa"/><ellipse cx="309.2" cy="436.7" rx="1.65" ry="1.40" fill="#8a48e8"/><ellipse cx="309.2" cy="436.7" rx="0.75" ry="0.65" fill="#a878fa"/><ellipse cx="330.6" cy="426.8" rx="1.55" ry="1.30" fill="#3a3cec"/><ellipse cx="330.6" cy="426.8" rx="0.75" ry="0.65" fill="#5a5cff"/><ellipse cx="337.3" cy="424.7" rx="1.65" ry="1.40" fill="#8a48e8"/><ellipse cx="337.3" cy="424.7" rx="0.75" ry="0.65" fill="#a878fa"/><ellipse cx="325.7" cy="429.7" rx="1.65" ry="1.40" fill="#8a48e8"/><ellipse cx="325.7" cy="429.7" rx="0.75" ry="0.65" fill="#a878fa"/><ellipse cx="321.8" cy="433.5" rx="1.55" ry="1.30" fill="#3a3cec"/><ellipse cx="321.8" cy="433.5" rx="0.75" ry="0.65" fill="#5a5cff"/><ellipse cx="324.6" cy="434.4" rx="1.65" ry="1.40" fill="#8a48e8"/><ellipse cx="324.6" cy="434.4" rx="0.75" ry="0.65" fill="#a878fa"/><ellipse cx="329.6" cy="433.5" rx="1.65" ry="1.40" fill="#8a48e8"/><ellipse cx="329.6" cy="433.5" rx="0.75" ry="0.65" fill="#a878fa"/><ellipse cx="327.3" cy="437.0" rx="1.55" ry="1.30" fill="#3a3cec"/><ellipse cx="327.3" cy="437.0" rx="0.75" ry="0.65" fill="#5a5cff"/><ellipse cx="333.6" cy="437.3" rx="1.55" ry="1.30" fill="#3a3cec"/><ellipse cx="333.6" cy="437.3" rx="0.75" ry="0.65" fill="#5a5cff"/><ellipse cx="337.3" cy="434.6" rx="1.55" ry="1.30" fill="#3a3cec"/><ellipse cx="337.3" cy="434.6" rx="0.75" ry="0.65" fill="#5a5cff"/><ellipse cx="337.3" cy="438.1" rx="1.65" ry="1.40" fill="#8a48e8"/><ellipse cx="337.3" cy="438.1" rx="0.75" ry="0.65" fill="#a878fa"/><ellipse cx="345.4" cy="446.5" rx="1.55" ry="1.30" fill="#3a3cec"/><ellipse cx="345.4" cy="446.5" rx="0.75" ry="0.65" fill="#5a5cff"/><ellipse cx="346.2" cy="449.3" rx="1.65" ry="1.40" fill="#8a48e8"/><ellipse cx="346.2" cy="449.3" rx="0.75" ry="0.65" fill="#a878fa"/><ellipse cx="343.3" cy="452.8" rx="1.55" ry="1.30" fill="#3a3cec"/><ellipse cx="343.3" cy="452.8" rx="0.75" ry="0.65" fill="#5a5cff"/><ellipse cx="378.0" cy="407.9" rx="1.55" ry="1.30" fill="#3a3cec"/><ellipse cx="378.0" cy="407.9" rx="0.75" ry="0.65" fill="#5a5cff"/><ellipse cx="380.5" cy="415.7" rx="1.55" ry="1.30" fill="#3a3cec"/><ellipse cx="380.5" cy="415.7" rx="0.75" ry="0.65" fill="#5a5cff"/><ellipse cx="383.5" cy="416.3" rx="1.55" ry="1.30" fill="#6c46e2"/><ellipse cx="383.5" cy="416.3" rx="0.75" ry="0.65" fill="#8c70fa"/><ellipse cx="386.4" cy="420.2" rx="1.55" ry="1.30" fill="#3a3cec"/><ellipse cx="386.4" cy="420.2" rx="0.75" ry="0.65" fill="#5a5cff"/><ellipse cx="371.1" cy="421.6" rx="1.55" ry="1.30" fill="#3a3cec"/><ellipse cx="371.1" cy="421.6" rx="0.75" ry="0.65" fill="#5a5cff"/><ellipse cx="377.4" cy="422.0" rx="1.55" ry="1.30" fill="#3a3cec"/><ellipse cx="377.4" cy="422.0" rx="0.75" ry="0.65" fill="#5a5cff"/><ellipse cx="379.5" cy="422.8" rx="1.55" ry="1.30" fill="#3a3cec"/><ellipse cx="379.5" cy="422.8" rx="0.75" ry="0.65" fill="#5a5cff"/><ellipse cx="381.2" cy="425.8" rx="1.55" ry="1.30" fill="#3a3cec"/><ellipse cx="381.2" cy="425.8" rx="0.75" ry="0.65" fill="#5a5cff"/><ellipse cx="372.1" cy="426.2" rx="1.55" ry="1.30" fill="#3a3cec"/><ellipse cx="372.1" cy="426.2" rx="0.75" ry="0.65" fill="#5a5cff"/><ellipse cx="368.8" cy="430.0" rx="1.55" ry="1.30" fill="#3a3cec"/><ellipse cx="368.8" cy="430.0" rx="0.75" ry="0.65" fill="#5a5cff"/><ellipse cx="375.3" cy="432.8" rx="1.55" ry="1.30" fill="#3a3cec"/><ellipse cx="375.3" cy="432.8" rx="0.75" ry="0.65" fill="#5a5cff"/><ellipse cx="377.4" cy="431.0" rx="1.55" ry="1.30" fill="#3a3cec"/><ellipse cx="377.4" cy="431.0" rx="0.75" ry="0.65" fill="#5a5cff"/><ellipse cx="369.0" cy="434.2" rx="1.55" ry="1.30" fill="#3a3cec"/><ellipse cx="369.0" cy="434.2" rx="0.75" ry="0.65" fill="#5a5cff"/><ellipse cx="415.3" cy="412.8" rx="1.55" ry="1.30" fill="#3a3cec"/><ellipse cx="415.3" cy="412.8" rx="0.75" ry="0.65" fill="#5a5cff"/><ellipse cx="419.2" cy="411.5" rx="1.55" ry="1.30" fill="#6c46e2"/><ellipse cx="419.2" cy="411.5" rx="0.75" ry="0.65" fill="#8c70fa"/><ellipse cx="396.3" cy="427.6" rx="1.55" ry="1.30" fill="#6c46e2"/><ellipse cx="396.3" cy="427.6" rx="0.75" ry="0.65" fill="#8c70fa"/><ellipse cx="397.7" cy="429.7" rx="1.55" ry="1.30" fill="#3a3cec"/><ellipse cx="397.7" cy="429.7" rx="0.75" ry="0.65" fill="#5a5cff"/><ellipse cx="400.8" cy="429.3" rx="1.55" ry="1.30" fill="#3a3cec"/><ellipse cx="400.8" cy="429.3" rx="0.75" ry="0.65" fill="#5a5cff"/><ellipse cx="403.3" cy="426.8" rx="1.55" ry="1.30" fill="#6c46e2"/><ellipse cx="403.3" cy="426.8" rx="0.75" ry="0.65" fill="#8c70fa"/><ellipse cx="402.2" cy="432.8" rx="1.55" ry="1.30" fill="#3a3cec"/><ellipse cx="402.2" cy="432.8" rx="0.75" ry="0.65" fill="#5a5cff"/><ellipse cx="407.7" cy="432.3" rx="1.55" ry="1.30" fill="#3a3cec"/><ellipse cx="407.7" cy="432.3" rx="0.75" ry="0.65" fill="#5a5cff"/><ellipse cx="413.1" cy="431.8" rx="1.55" ry="1.30" fill="#3a3cec"/><ellipse cx="413.1" cy="431.8" rx="0.75" ry="0.65" fill="#5a5cff"/><ellipse cx="358.8" cy="444.4" rx="1.55" ry="1.30" fill="#3a3cec"/><ellipse cx="358.8" cy="444.4" rx="0.75" ry="0.65" fill="#5a5cff"/><ellipse cx="362.3" cy="448.1" rx="1.55" ry="1.30" fill="#3a3cec"/><ellipse cx="362.3" cy="448.1" rx="0.75" ry="0.65" fill="#5a5cff"/><ellipse cx="361.9" cy="451.4" rx="1.55" ry="1.30" fill="#6c46e2"/><ellipse cx="361.9" cy="451.4" rx="0.75" ry="0.65" fill="#8c70fa"/><ellipse cx="367.5" cy="446.2" rx="1.55" ry="1.30" fill="#3a3cec"/><ellipse cx="367.5" cy="446.2" rx="0.75" ry="0.65" fill="#5a5cff"/><ellipse cx="366.7" cy="451.0" rx="1.55" ry="1.30" fill="#3a3cec"/><ellipse cx="366.7" cy="451.0" rx="0.75" ry="0.65" fill="#5a5cff"/><ellipse cx="378.4" cy="443.3" rx="1.55" ry="1.30" fill="#3a3cec"/><ellipse cx="378.4" cy="443.3" rx="0.75" ry="0.65" fill="#5a5cff"/><ellipse cx="379.8" cy="444.1" rx="1.55" ry="1.30" fill="#3a3cec"/><ellipse cx="379.8" cy="444.1" rx="0.75" ry="0.65" fill="#5a5cff"/><ellipse cx="385.1" cy="447.0" rx="1.55" ry="1.30" fill="#3a3cec"/><ellipse cx="385.1" cy="447.0" rx="0.75" ry="0.65" fill="#5a5cff"/><ellipse cx="383.7" cy="450.4" rx="1.55" ry="1.30" fill="#3a3cec"/><ellipse cx="383.7" cy="450.4" rx="0.75" ry="0.65" fill="#5a5cff"/><ellipse cx="428.1" cy="417.6" rx="1.55" ry="1.30" fill="#6c46e2"/><ellipse cx="428.1" cy="417.6" rx="0.75" ry="0.65" fill="#8c70fa"/><ellipse cx="437.3" cy="417.0" rx="1.55" ry="1.30" fill="#6c46e2"/><ellipse cx="437.3" cy="417.0" rx="0.75" ry="0.65" fill="#8c70fa"/><ellipse cx="439.8" cy="415.5" rx="1.55" ry="1.30" fill="#6c46e2"/><ellipse cx="439.8" cy="415.5" rx="0.75" ry="0.65" fill="#8c70fa"/><ellipse cx="441.9" cy="416.7" rx="1.55" ry="1.30" fill="#6c46e2"/><ellipse cx="441.9" cy="416.7" rx="0.75" ry="0.65" fill="#8c70fa"/><ellipse cx="448.6" cy="415.7" rx="1.55" ry="1.30" fill="#3a3cec"/><ellipse cx="448.6" cy="415.7" rx="0.75" ry="0.65" fill="#5a5cff"/><ellipse cx="452.0" cy="412.8" rx="1.55" ry="1.30" fill="#3a3cec"/><ellipse cx="452.0" cy="412.8" rx="0.75" ry="0.65" fill="#5a5cff"/><ellipse cx="445.1" cy="420.7" rx="1.55" ry="1.30" fill="#6c46e2"/><ellipse cx="445.1" cy="420.7" rx="0.75" ry="0.65" fill="#8c70fa"/><ellipse cx="448.6" cy="420.2" rx="1.55" ry="1.30" fill="#3a3cec"/><ellipse cx="448.6" cy="420.2" rx="0.75" ry="0.65" fill="#5a5cff"/><ellipse cx="447.5" cy="423.0" rx="1.55" ry="1.30" fill="#6c46e2"/><ellipse cx="447.5" cy="423.0" rx="0.75" ry="0.65" fill="#8c70fa"/><ellipse cx="452.4" cy="423.4" rx="1.55" ry="1.30" fill="#3a3cec"/><ellipse cx="452.4" cy="423.4" rx="0.75" ry="0.65" fill="#5a5cff"/><ellipse cx="458.0" cy="418.1" rx="1.55" ry="1.30" fill="#3a3cec"/><ellipse cx="458.0" cy="418.1" rx="0.75" ry="0.65" fill="#5a5cff"/><ellipse cx="464.9" cy="416.3" rx="1.55" ry="1.30" fill="#3a3cec"/><ellipse cx="464.9" cy="416.3" rx="0.75" ry="0.65" fill="#5a5cff"/><ellipse cx="466.4" cy="419.7" rx="1.55" ry="1.30" fill="#3a3cec"/><ellipse cx="466.4" cy="419.7" rx="0.75" ry="0.65" fill="#5a5cff"/><ellipse cx="468.9" cy="411.5" rx="1.55" ry="1.30" fill="#6c46e2"/><ellipse cx="468.9" cy="411.5" rx="0.75" ry="0.65" fill="#8c70fa"/><ellipse cx="472.0" cy="415.7" rx="1.55" ry="1.30" fill="#6c46e2"/><ellipse cx="472.0" cy="415.7" rx="0.75" ry="0.65" fill="#8c70fa"/><ellipse cx="462.2" cy="423.0" rx="1.55" ry="1.30" fill="#3a3cec"/><ellipse cx="462.2" cy="423.0" rx="0.75" ry="0.65" fill="#5a5cff"/><ellipse cx="463.8" cy="425.1" rx="1.55" ry="1.30" fill="#3a3cec"/><ellipse cx="463.8" cy="425.1" rx="0.75" ry="0.65" fill="#5a5cff"/><ellipse cx="458.3" cy="429.3" rx="1.55" ry="1.30" fill="#3a3cec"/><ellipse cx="458.3" cy="429.3" rx="0.75" ry="0.65" fill="#5a5cff"/><ellipse cx="463.8" cy="430.0" rx="1.55" ry="1.30" fill="#3a3cec"/><ellipse cx="463.8" cy="430.0" rx="0.75" ry="0.65" fill="#5a5cff"/><ellipse cx="441.7" cy="427.0" rx="1.55" ry="1.30" fill="#3a3cec"/><ellipse cx="441.7" cy="427.0" rx="0.75" ry="0.65" fill="#5a5cff"/><ellipse cx="474.1" cy="430.0" rx="1.55" ry="1.30" fill="#6c46e2"/><ellipse cx="474.1" cy="430.0" rx="0.75" ry="0.65" fill="#8c70fa"/><ellipse cx="473.8" cy="433.1" rx="1.55" ry="1.30" fill="#3a3cec"/><ellipse cx="473.8" cy="433.1" rx="0.75" ry="0.65" fill="#5a5cff"/><ellipse cx="486.7" cy="430.0" rx="1.55" ry="1.30" fill="#3a3cec"/><ellipse cx="486.7" cy="430.0" rx="0.75" ry="0.65" fill="#5a5cff"/><ellipse cx="493.0" cy="408.3" rx="1.55" ry="1.30" fill="#3a3cec"/><ellipse cx="493.0" cy="408.3" rx="0.75" ry="0.65" fill="#5a5cff"/><ellipse cx="493.8" cy="414.2" rx="1.55" ry="1.30" fill="#3a3cec"/><ellipse cx="493.8" cy="414.2" rx="0.75" ry="0.65" fill="#5a5cff"/><ellipse cx="491.4" cy="416.0" rx="1.55" ry="1.30" fill="#3a3cec"/><ellipse cx="491.4" cy="416.0" rx="0.75" ry="0.65" fill="#5a5cff"/><ellipse cx="496.2" cy="418.8" rx="1.55" ry="1.30" fill="#3a3cec"/><ellipse cx="496.2" cy="418.8" rx="0.75" ry="0.65" fill="#5a5cff"/><ellipse cx="445.7" cy="442.0" rx="1.55" ry="1.30" fill="#3a3cec"/><ellipse cx="445.7" cy="442.0" rx="0.75" ry="0.65" fill="#5a5cff"/><ellipse cx="447.0" cy="445.4" rx="1.55" ry="1.30" fill="#3a3cec"/><ellipse cx="447.0" cy="445.4" rx="0.75" ry="0.65" fill="#5a5cff"/><ellipse cx="434.4" cy="446.0" rx="1.55" ry="1.30" fill="#3a3cec"/><ellipse cx="434.4" cy="446.0" rx="0.75" ry="0.65" fill="#5a5cff"/><ellipse cx="476.9" cy="443.0" rx="1.55" ry="1.30" fill="#3a3cec"/><ellipse cx="476.9" cy="443.0" rx="0.75" ry="0.65" fill="#5a5cff"/><ellipse cx="480.1" cy="446.5" rx="1.55" ry="1.30" fill="#3a3cec"/><ellipse cx="480.1" cy="446.5" rx="0.75" ry="0.65" fill="#5a5cff"/><ellipse cx="485.7" cy="443.3" rx="1.55" ry="1.30" fill="#3a3cec"/><ellipse cx="485.7" cy="443.3" rx="0.75" ry="0.65" fill="#5a5cff"/><ellipse cx="488.8" cy="444.1" rx="1.55" ry="1.30" fill="#6c46e2"/><ellipse cx="488.8" cy="444.1" rx="0.75" ry="0.65" fill="#8c70fa"/><ellipse cx="484.3" cy="449.1" rx="1.55" ry="1.30" fill="#6c46e2"/><ellipse cx="484.3" cy="449.1" rx="0.75" ry="0.65" fill="#8c70fa"/><ellipse cx="479.1" cy="452.3" rx="1.55" ry="1.30" fill="#3a3cec"/><ellipse cx="479.1" cy="452.3" rx="0.75" ry="0.65" fill="#5a5cff"/><ellipse cx="481.7" cy="453.8" rx="1.55" ry="1.30" fill="#6c46e2"/><ellipse cx="481.7" cy="453.8" rx="0.75" ry="0.65" fill="#8c70fa"/><ellipse cx="527.1" cy="407.9" rx="1.55" ry="1.30" fill="#3a3cec"/><ellipse cx="527.1" cy="407.9" rx="0.75" ry="0.65" fill="#5a5cff"/><ellipse cx="504.0" cy="413.2" rx="1.55" ry="1.30" fill="#3a3cec"/><ellipse cx="504.0" cy="413.2" rx="0.75" ry="0.65" fill="#5a5cff"/><ellipse cx="507.9" cy="413.9" rx="1.55" ry="1.30" fill="#3a3cec"/><ellipse cx="507.9" cy="413.9" rx="0.75" ry="0.65" fill="#5a5cff"/><ellipse cx="506.5" cy="416.0" rx="1.55" ry="1.30" fill="#3a3cec"/><ellipse cx="506.5" cy="416.0" rx="0.75" ry="0.65" fill="#5a5cff"/><ellipse cx="507.6" cy="417.8" rx="1.55" ry="1.30" fill="#6c46e2"/><ellipse cx="507.6" cy="417.8" rx="0.75" ry="0.65" fill="#8c70fa"/><ellipse cx="540.8" cy="420.9" rx="1.55" ry="1.30" fill="#3a3cec"/><ellipse cx="540.8" cy="420.9" rx="0.75" ry="0.65" fill="#5a5cff"/><ellipse cx="567.5" cy="414.9" rx="1.55" ry="1.30" fill="#3a3cec"/><ellipse cx="567.5" cy="414.9" rx="0.75" ry="0.65" fill="#5a5cff"/><ellipse cx="568.1" cy="419.7" rx="1.55" ry="1.30" fill="#3a3cec"/><ellipse cx="568.1" cy="419.7" rx="0.75" ry="0.65" fill="#5a5cff"/><ellipse cx="566.8" cy="424.7" rx="1.55" ry="1.30" fill="#3a3cec"/><ellipse cx="566.8" cy="424.7" rx="0.75" ry="0.65" fill="#5a5cff"/><ellipse cx="527.1" cy="424.7" rx="1.55" ry="1.30" fill="#3a3cec"/><ellipse cx="527.1" cy="424.7" rx="0.75" ry="0.65" fill="#5a5cff"/><ellipse cx="523.3" cy="426.8" rx="1.55" ry="1.30" fill="#3a3cec"/><ellipse cx="523.3" cy="426.8" rx="0.75" ry="0.65" fill="#5a5cff"/><ellipse cx="530.5" cy="427.6" rx="1.55" ry="1.30" fill="#3a3cec"/><ellipse cx="530.5" cy="427.6" rx="0.75" ry="0.65" fill="#5a5cff"/><ellipse cx="516.0" cy="429.3" rx="1.55" ry="1.30" fill="#3a3cec"/><ellipse cx="516.0" cy="429.3" rx="0.75" ry="0.65" fill="#5a5cff"/><ellipse cx="508.9" cy="429.1" rx="1.55" ry="1.30" fill="#3a3cec"/><ellipse cx="508.9" cy="429.1" rx="0.75" ry="0.65" fill="#5a5cff"/><ellipse cx="538.1" cy="428.6" rx="1.55" ry="1.30" fill="#3a3cec"/><ellipse cx="538.1" cy="428.6" rx="0.75" ry="0.65" fill="#5a5cff"/><ellipse cx="527.5" cy="432.1" rx="1.55" ry="1.30" fill="#3a3cec"/><ellipse cx="527.5" cy="432.1" rx="0.75" ry="0.65" fill="#5a5cff"/><ellipse cx="530.7" cy="431.2" rx="1.55" ry="1.30" fill="#3a3cec"/><ellipse cx="530.7" cy="431.2" rx="0.75" ry="0.65" fill="#5a5cff"/><ellipse cx="532.1" cy="432.8" rx="1.55" ry="1.30" fill="#6c46e2"/><ellipse cx="532.1" cy="432.8" rx="0.75" ry="0.65" fill="#8c70fa"/><ellipse cx="522.6" cy="434.2" rx="1.55" ry="1.30" fill="#3a3cec"/><ellipse cx="522.6" cy="434.2" rx="0.75" ry="0.65" fill="#5a5cff"/><ellipse cx="502.9" cy="433.9" rx="1.55" ry="1.30" fill="#3a3cec"/><ellipse cx="502.9" cy="433.9" rx="0.75" ry="0.65" fill="#5a5cff"/><ellipse cx="513.7" cy="435.2" rx="1.55" ry="1.30" fill="#3a3cec"/><ellipse cx="513.7" cy="435.2" rx="0.75" ry="0.65" fill="#5a5cff"/><ellipse cx="513.7" cy="439.9" rx="1.55" ry="1.30" fill="#3a3cec"/><ellipse cx="513.7" cy="439.9" rx="0.75" ry="0.65" fill="#5a5cff"/><ellipse cx="560.5" cy="436.3" rx="1.55" ry="1.30" fill="#3a3cec"/><ellipse cx="560.5" cy="436.3" rx="0.75" ry="0.65" fill="#5a5cff"/><ellipse cx="535.8" cy="447.5" rx="1.55" ry="1.30" fill="#3a3cec"/><ellipse cx="535.8" cy="447.5" rx="0.75" ry="0.65" fill="#5a5cff"/><ellipse cx="539.7" cy="447.0" rx="1.55" ry="1.30" fill="#3a3cec"/><ellipse cx="539.7" cy="447.0" rx="0.75" ry="0.65" fill="#5a5cff"/><ellipse cx="541.5" cy="446.0" rx="1.55" ry="1.30" fill="#3a3cec"/><ellipse cx="541.5" cy="446.0" rx="0.75" ry="0.65" fill="#5a5cff"/><ellipse cx="541.0" cy="450.2" rx="1.55" ry="1.30" fill="#3a3cec"/><ellipse cx="541.0" cy="450.2" rx="0.75" ry="0.65" fill="#5a5cff"/><ellipse cx="537.0" cy="451.0" rx="1.55" ry="1.30" fill="#3a3cec"/><ellipse cx="537.0" cy="451.0" rx="0.75" ry="0.65" fill="#5a5cff"/><ellipse cx="537.9" cy="452.5" rx="1.55" ry="1.30" fill="#3a3cec"/><ellipse cx="537.9" cy="452.5" rx="0.75" ry="0.65" fill="#5a5cff"/><ellipse cx="604.8" cy="408.9" rx="1.65" ry="1.40" fill="#8c46e4"/><ellipse cx="604.8" cy="408.9" rx="0.75" ry="0.65" fill="#a874f6"/><ellipse cx="609.3" cy="410.0" rx="1.65" ry="1.40" fill="#8c46e4"/><ellipse cx="609.3" cy="410.0" rx="0.75" ry="0.65" fill="#a874f6"/><ellipse cx="609.3" cy="416.0" rx="1.65" ry="1.40" fill="#8c46e4"/><ellipse cx="609.3" cy="416.0" rx="0.75" ry="0.65" fill="#a874f6"/><ellipse cx="602.4" cy="423.4" rx="1.65" ry="1.40" fill="#8c46e4"/><ellipse cx="602.4" cy="423.4" rx="0.75" ry="0.65" fill="#a874f6"/><ellipse cx="574.3" cy="428.6" rx="1.65" ry="1.40" fill="#8c46e4"/><ellipse cx="574.3" cy="428.6" rx="0.75" ry="0.65" fill="#a874f6"/><ellipse cx="577.7" cy="430.7" rx="1.65" ry="1.40" fill="#8c46e4"/><ellipse cx="577.7" cy="430.7" rx="0.75" ry="0.65" fill="#a874f6"/><ellipse cx="583.0" cy="425.5" rx="1.65" ry="1.40" fill="#8c46e4"/><ellipse cx="583.0" cy="425.5" rx="0.75" ry="0.65" fill="#a874f6"/><ellipse cx="586.5" cy="424.9" rx="1.65" ry="1.40" fill="#8c46e4"/><ellipse cx="586.5" cy="424.9" rx="0.75" ry="0.65" fill="#a874f6"/><ellipse cx="583.5" cy="428.6" rx="1.65" ry="1.40" fill="#8c46e4"/><ellipse cx="583.5" cy="428.6" rx="0.75" ry="0.65" fill="#a874f6"/><ellipse cx="586.7" cy="429.3" rx="1.65" ry="1.40" fill="#8c46e4"/><ellipse cx="586.7" cy="429.3" rx="0.75" ry="0.65" fill="#a874f6"/><ellipse cx="588.8" cy="429.1" rx="1.65" ry="1.40" fill="#8c46e4"/><ellipse cx="588.8" cy="429.1" rx="0.75" ry="0.65" fill="#a874f6"/><ellipse cx="586.5" cy="433.1" rx="1.65" ry="1.40" fill="#8c46e4"/><ellipse cx="586.5" cy="433.1" rx="0.75" ry="0.65" fill="#a874f6"/><ellipse cx="596.7" cy="429.7" rx="1.65" ry="1.40" fill="#8c46e4"/><ellipse cx="596.7" cy="429.7" rx="0.75" ry="0.65" fill="#a874f6"/><ellipse cx="597.7" cy="431.8" rx="1.65" ry="1.40" fill="#8c46e4"/><ellipse cx="597.7" cy="431.8" rx="0.75" ry="0.65" fill="#a874f6"/><ellipse cx="601.6" cy="431.0" rx="1.65" ry="1.40" fill="#8c46e4"/><ellipse cx="601.6" cy="431.0" rx="0.75" ry="0.65" fill="#a874f6"/><ellipse cx="605.4" cy="435.2" rx="1.65" ry="1.40" fill="#c050c8"/><ellipse cx="605.4" cy="435.2" rx="0.75" ry="0.65" fill="#e090e8"/><ellipse cx="619.8" cy="433.9" rx="1.65" ry="1.40" fill="#8c46e4"/><ellipse cx="619.8" cy="433.9" rx="0.75" ry="0.65" fill="#a874f6"/><ellipse cx="626.6" cy="431.0" rx="1.65" ry="1.40" fill="#8c46e4"/><ellipse cx="626.6" cy="431.0" rx="0.75" ry="0.65" fill="#a874f6"/><ellipse cx="629.8" cy="429.7" rx="1.65" ry="1.40" fill="#8c46e4"/><ellipse cx="629.8" cy="429.7" rx="0.75" ry="0.65" fill="#a874f6"/><ellipse cx="631.7" cy="426.5" rx="1.65" ry="1.40" fill="#c050c8"/><ellipse cx="631.7" cy="426.5" rx="0.75" ry="0.65" fill="#e090e8"/><ellipse cx="636.6" cy="425.8" rx="1.65" ry="1.40" fill="#8c46e4"/><ellipse cx="636.6" cy="425.8" rx="0.75" ry="0.65" fill="#a874f6"/><ellipse cx="633.1" cy="431.8" rx="1.65" ry="1.40" fill="#8c46e4"/><ellipse cx="633.1" cy="431.8" rx="0.75" ry="0.65" fill="#a874f6"/><ellipse cx="636.6" cy="437.0" rx="1.65" ry="1.40" fill="#8c46e4"/><ellipse cx="636.6" cy="437.0" rx="0.75" ry="0.65" fill="#a874f6"/><ellipse cx="634.5" cy="441.8" rx="1.65" ry="1.40" fill="#8c46e4"/><ellipse cx="634.5" cy="441.8" rx="0.75" ry="0.65" fill="#a874f6"/><ellipse cx="640.3" cy="441.2" rx="1.65" ry="1.40" fill="#8c46e4"/><ellipse cx="640.3" cy="441.2" rx="0.75" ry="0.65" fill="#a874f6"/><ellipse cx="624.3" cy="439.4" rx="1.65" ry="1.40" fill="#8c46e4"/><ellipse cx="624.3" cy="439.4" rx="0.75" ry="0.65" fill="#a874f6"/><ellipse cx="625.6" cy="442.3" rx="1.65" ry="1.40" fill="#8c46e4"/><ellipse cx="625.6" cy="442.3" rx="0.75" ry="0.65" fill="#a874f6"/><ellipse cx="621.9" cy="444.7" rx="1.65" ry="1.40" fill="#8c46e4"/><ellipse cx="621.9" cy="444.7" rx="0.75" ry="0.65" fill="#a874f6"/><ellipse cx="618.7" cy="442.0" rx="1.65" ry="1.40" fill="#8c46e4"/><ellipse cx="618.7" cy="442.0" rx="0.75" ry="0.65" fill="#a874f6"/><ellipse cx="613.5" cy="438.1" rx="1.65" ry="1.40" fill="#8c46e4"/><ellipse cx="613.5" cy="438.1" rx="0.75" ry="0.65" fill="#a874f6"/><ellipse cx="613.8" cy="442.3" rx="1.65" ry="1.40" fill="#8c46e4"/><ellipse cx="613.8" cy="442.3" rx="0.75" ry="0.65" fill="#a874f6"/><ellipse cx="610.6" cy="443.3" rx="1.65" ry="1.40" fill="#8c46e4"/><ellipse cx="610.6" cy="443.3" rx="0.75" ry="0.65" fill="#a874f6"/><ellipse cx="588.8" cy="441.8" rx="1.65" ry="1.40" fill="#8c46e4"/><ellipse cx="588.8" cy="441.8" rx="0.75" ry="0.65" fill="#a874f6"/><ellipse cx="595.1" cy="443.0" rx="1.65" ry="1.40" fill="#8c46e4"/><ellipse cx="595.1" cy="443.0" rx="0.75" ry="0.65" fill="#a874f6"/><ellipse cx="600.9" cy="443.6" rx="1.65" ry="1.40" fill="#8c46e4"/><ellipse cx="600.9" cy="443.6" rx="0.75" ry="0.65" fill="#a874f6"/><ellipse cx="587.2" cy="445.4" rx="1.65" ry="1.40" fill="#8c46e4"/><ellipse cx="587.2" cy="445.4" rx="0.75" ry="0.65" fill="#a874f6"/><ellipse cx="588.8" cy="448.1" rx="1.65" ry="1.40" fill="#8c46e4"/><ellipse cx="588.8" cy="448.1" rx="0.75" ry="0.65" fill="#a874f6"/><ellipse cx="595.3" cy="447.9" rx="1.65" ry="1.40" fill="#8c46e4"/><ellipse cx="595.3" cy="447.9" rx="0.75" ry="0.65" fill="#a874f6"/><ellipse cx="588.6" cy="450.7" rx="1.65" ry="1.40" fill="#8c46e4"/><ellipse cx="588.6" cy="450.7" rx="0.75" ry="0.65" fill="#a874f6"/><ellipse cx="594.9" cy="451.2" rx="1.65" ry="1.40" fill="#8c46e4"/><ellipse cx="594.9" cy="451.2" rx="0.75" ry="0.65" fill="#a874f6"/><ellipse cx="601.6" cy="451.4" rx="1.65" ry="1.40" fill="#8c46e4"/><ellipse cx="601.6" cy="451.4" rx="0.75" ry="0.65" fill="#a874f6"/><ellipse cx="606.1" cy="451.4" rx="1.65" ry="1.40" fill="#8c46e4"/><ellipse cx="606.1" cy="451.4" rx="0.75" ry="0.65" fill="#a874f6"/><ellipse cx="615.6" cy="449.3" rx="1.65" ry="1.40" fill="#8c46e4"/><ellipse cx="615.6" cy="449.3" rx="0.75" ry="0.65" fill="#a874f6"/><ellipse cx="81.5" cy="459.6" rx="1.55" ry="1.30" fill="#3a3cec"/><ellipse cx="81.5" cy="459.6" rx="0.75" ry="0.65" fill="#5a5cff"/><ellipse cx="76.2" cy="463.3" rx="1.55" ry="1.30" fill="#3a3cec"/><ellipse cx="76.2" cy="463.3" rx="0.75" ry="0.65" fill="#5a5cff"/><ellipse cx="79.4" cy="468.4" rx="1.55" ry="1.30" fill="#3a3cec"/><ellipse cx="79.4" cy="468.4" rx="0.75" ry="0.65" fill="#5a5cff"/><ellipse cx="78.0" cy="476.8" rx="1.55" ry="1.30" fill="#3a3cec"/><ellipse cx="78.0" cy="476.8" rx="0.75" ry="0.65" fill="#5a5cff"/><ellipse cx="83.6" cy="478.0" rx="1.55" ry="1.30" fill="#3a3cec"/><ellipse cx="83.6" cy="478.0" rx="0.75" ry="0.65" fill="#5a5cff"/><ellipse cx="86.4" cy="475.1" rx="1.55" ry="1.30" fill="#3a3cec"/><ellipse cx="86.4" cy="475.1" rx="0.75" ry="0.65" fill="#5a5cff"/><ellipse cx="100.7" cy="481.7" rx="1.55" ry="1.30" fill="#3a3cec"/><ellipse cx="100.7" cy="481.7" rx="0.75" ry="0.65" fill="#5a5cff"/><ellipse cx="120.7" cy="461.2" rx="1.55" ry="1.30" fill="#3a3cec"/><ellipse cx="120.7" cy="461.2" rx="0.75" ry="0.65" fill="#5a5cff"/><ellipse cx="120.9" cy="465.9" rx="1.55" ry="1.30" fill="#6c46e2"/><ellipse cx="120.9" cy="465.9" rx="0.75" ry="0.65" fill="#8c70fa"/><ellipse cx="123.6" cy="466.5" rx="1.55" ry="1.30" fill="#3a3cec"/><ellipse cx="123.6" cy="466.5" rx="0.75" ry="0.65" fill="#5a5cff"/><ellipse cx="117.6" cy="471.7" rx="1.55" ry="1.30" fill="#3a3cec"/><ellipse cx="117.6" cy="471.7" rx="0.75" ry="0.65" fill="#5a5cff"/><ellipse cx="122.0" cy="479.3" rx="1.55" ry="1.30" fill="#3a3cec"/><ellipse cx="122.0" cy="479.3" rx="0.75" ry="0.65" fill="#5a5cff"/><ellipse cx="114.4" cy="481.2" rx="1.55" ry="1.30" fill="#3a3cec"/><ellipse cx="114.4" cy="481.2" rx="0.75" ry="0.65" fill="#5a5cff"/><ellipse cx="131.2" cy="486.2" rx="1.55" ry="1.30" fill="#3a3cec"/><ellipse cx="131.2" cy="486.2" rx="0.75" ry="0.65" fill="#5a5cff"/><ellipse cx="72.0" cy="497.2" rx="1.55" ry="1.30" fill="#3a3cec"/><ellipse cx="72.0" cy="497.2" rx="0.75" ry="0.65" fill="#5a5cff"/><ellipse cx="80.5" cy="500.3" rx="1.55" ry="1.30" fill="#3a3cec"/><ellipse cx="80.5" cy="500.3" rx="0.75" ry="0.65" fill="#5a5cff"/><ellipse cx="71.5" cy="502.0" rx="1.55" ry="1.30" fill="#3a3cec"/><ellipse cx="71.5" cy="502.0" rx="0.75" ry="0.65" fill="#5a5cff"/><ellipse cx="76.6" cy="502.4" rx="1.55" ry="1.30" fill="#6c46e2"/><ellipse cx="76.6" cy="502.4" rx="0.75" ry="0.65" fill="#8c70fa"/><ellipse cx="79.7" cy="504.1" rx="1.55" ry="1.30" fill="#3a3cec"/><ellipse cx="79.7" cy="504.1" rx="0.75" ry="0.65" fill="#5a5cff"/><ellipse cx="89.2" cy="503.5" rx="1.55" ry="1.30" fill="#3a3cec"/><ellipse cx="89.2" cy="503.5" rx="0.75" ry="0.65" fill="#5a5cff"/><ellipse cx="152.0" cy="467.0" rx="1.65" ry="1.40" fill="#8c46e4"/><ellipse cx="152.0" cy="467.0" rx="0.75" ry="0.65" fill="#a874f6"/><ellipse cx="157.3" cy="467.5" rx="1.65" ry="1.40" fill="#8c46e4"/><ellipse cx="157.3" cy="467.5" rx="0.75" ry="0.65" fill="#a874f6"/><ellipse cx="153.7" cy="470.1" rx="1.65" ry="1.40" fill="#8c46e4"/><ellipse cx="153.7" cy="470.1" rx="0.75" ry="0.65" fill="#a874f6"/><ellipse cx="139.7" cy="475.4" rx="1.65" ry="1.40" fill="#8c46e4"/><ellipse cx="139.7" cy="475.4" rx="0.75" ry="0.65" fill="#a874f6"/><ellipse cx="160.0" cy="481.2" rx="1.65" ry="1.40" fill="#8c46e4"/><ellipse cx="160.0" cy="481.2" rx="0.75" ry="0.65" fill="#a874f6"/><ellipse cx="164.2" cy="482.2" rx="1.65" ry="1.40" fill="#8c46e4"/><ellipse cx="164.2" cy="482.2" rx="0.75" ry="0.65" fill="#a874f6"/><ellipse cx="170.5" cy="480.1" rx="1.65" ry="1.40" fill="#8c46e4"/><ellipse cx="170.5" cy="480.1" rx="0.75" ry="0.65" fill="#a874f6"/><ellipse cx="174.1" cy="480.7" rx="1.65" ry="1.40" fill="#8c46e4"/><ellipse cx="174.1" cy="480.7" rx="0.75" ry="0.65" fill="#a874f6"/><ellipse cx="157.1" cy="485.4" rx="1.65" ry="1.40" fill="#8c46e4"/><ellipse cx="157.1" cy="485.4" rx="0.75" ry="0.65" fill="#a874f6"/><ellipse cx="153.9" cy="490.9" rx="1.65" ry="1.40" fill="#8c46e4"/><ellipse cx="153.9" cy="490.9" rx="0.75" ry="0.65" fill="#a874f6"/><ellipse cx="163.2" cy="491.7" rx="1.65" ry="1.40" fill="#8c46e4"/><ellipse cx="163.2" cy="491.7" rx="0.75" ry="0.65" fill="#a874f6"/><ellipse cx="171.3" cy="491.9" rx="1.65" ry="1.40" fill="#8c46e4"/><ellipse cx="171.3" cy="491.9" rx="0.75" ry="0.65" fill="#a874f6"/><ellipse cx="159.7" cy="495.1" rx="1.65" ry="1.40" fill="#8c46e4"/><ellipse cx="159.7" cy="495.1" rx="0.75" ry="0.65" fill="#a874f6"/><ellipse cx="163.2" cy="498.2" rx="1.65" ry="1.40" fill="#8c46e4"/><ellipse cx="163.2" cy="498.2" rx="0.75" ry="0.65" fill="#a874f6"/><ellipse cx="171.0" cy="502.0" rx="1.65" ry="1.40" fill="#8c46e4"/><ellipse cx="171.0" cy="502.0" rx="0.75" ry="0.65" fill="#a874f6"/><ellipse cx="182.8" cy="490.4" rx="1.65" ry="1.40" fill="#c050c8"/><ellipse cx="182.8" cy="490.4" rx="0.75" ry="0.65" fill="#e090e8"/><ellipse cx="186.0" cy="489.8" rx="1.65" ry="1.40" fill="#c050c8"/><ellipse cx="186.0" cy="489.8" rx="0.75" ry="0.65" fill="#e090e8"/><ellipse cx="183.6" cy="492.5" rx="1.65" ry="1.40" fill="#c050c8"/><ellipse cx="183.6" cy="492.5" rx="0.75" ry="0.65" fill="#e090e8"/><ellipse cx="195.5" cy="491.2" rx="1.65" ry="1.40" fill="#8c46e4"/><ellipse cx="195.5" cy="491.2" rx="0.75" ry="0.65" fill="#a874f6"/><ellipse cx="201.8" cy="489.6" rx="1.65" ry="1.40" fill="#c050c8"/><ellipse cx="201.8" cy="489.6" rx="0.75" ry="0.65" fill="#e090e8"/><ellipse cx="203.9" cy="489.8" rx="1.65" ry="1.40" fill="#c050c8"/><ellipse cx="203.9" cy="489.8" rx="0.75" ry="0.65" fill="#e090e8"/><ellipse cx="182.5" cy="499.1" rx="1.65" ry="1.40" fill="#8c46e4"/><ellipse cx="182.5" cy="499.1" rx="0.75" ry="0.65" fill="#a874f6"/><ellipse cx="186.0" cy="461.0" rx="1.65" ry="1.40" fill="#8c46e4"/><ellipse cx="186.0" cy="461.0" rx="0.75" ry="0.65" fill="#a874f6"/><ellipse cx="189.7" cy="461.2" rx="1.65" ry="1.40" fill="#8c46e4"/><ellipse cx="189.7" cy="461.2" rx="0.75" ry="0.65" fill="#a874f6"/><ellipse cx="191.8" cy="459.6" rx="1.65" ry="1.40" fill="#8c46e4"/><ellipse cx="191.8" cy="459.6" rx="0.75" ry="0.65" fill="#a874f6"/><ellipse cx="194.4" cy="461.7" rx="1.65" ry="1.40" fill="#8c46e4"/><ellipse cx="194.4" cy="461.7" rx="0.75" ry="0.65" fill="#a874f6"/><ellipse cx="191.3" cy="463.8" rx="1.65" ry="1.40" fill="#8c46e4"/><ellipse cx="191.3" cy="463.8" rx="0.75" ry="0.65" fill="#a874f6"/><ellipse cx="222.2" cy="461.7" rx="1.65" ry="1.40" fill="#8c46e4"/><ellipse cx="222.2" cy="461.7" rx="0.75" ry="0.65" fill="#a874f6"/><ellipse cx="220.6" cy="464.2" rx="1.65" ry="1.40" fill="#8c46e4"/><ellipse cx="220.6" cy="464.2" rx="0.75" ry="0.65" fill="#a874f6"/><ellipse cx="219.8" cy="467.3" rx="1.65" ry="1.40" fill="#8c46e4"/><ellipse cx="219.8" cy="467.3" rx="0.75" ry="0.65" fill="#a874f6"/><ellipse cx="224.0" cy="467.0" rx="1.65" ry="1.40" fill="#8c46e4"/><ellipse cx="224.0" cy="467.0" rx="0.75" ry="0.65" fill="#a874f6"/><ellipse cx="224.0" cy="473.0" rx="1.65" ry="1.40" fill="#8c46e4"/><ellipse cx="224.0" cy="473.0" rx="0.75" ry="0.65" fill="#a874f6"/><ellipse cx="226.1" cy="476.1" rx="1.65" ry="1.40" fill="#8c46e4"/><ellipse cx="226.1" cy="476.1" rx="0.75" ry="0.65" fill="#a874f6"/><ellipse cx="214.3" cy="474.4" rx="1.65" ry="1.40" fill="#8c46e4"/><ellipse cx="214.3" cy="474.4" rx="0.75" ry="0.65" fill="#a874f6"/><ellipse cx="217.7" cy="473.8" rx="1.65" ry="1.40" fill="#8c46e4"/><ellipse cx="217.7" cy="473.8" rx="0.75" ry="0.65" fill="#a874f6"/><ellipse cx="215.6" cy="478.0" rx="1.65" ry="1.40" fill="#8c46e4"/><ellipse cx="215.6" cy="478.0" rx="0.75" ry="0.65" fill="#a874f6"/><ellipse cx="220.4" cy="479.3" rx="1.65" ry="1.40" fill="#8c46e4"/><ellipse cx="220.4" cy="479.3" rx="0.75" ry="0.65" fill="#a874f6"/><ellipse cx="225.7" cy="481.4" rx="1.65" ry="1.40" fill="#8c46e4"/><ellipse cx="225.7" cy="481.4" rx="0.75" ry="0.65" fill="#a874f6"/><ellipse cx="216.2" cy="482.2" rx="1.65" ry="1.40" fill="#8c46e4"/><ellipse cx="216.2" cy="482.2" rx="0.75" ry="0.65" fill="#a874f6"/><ellipse cx="218.5" cy="482.8" rx="1.65" ry="1.40" fill="#8c46e4"/><ellipse cx="218.5" cy="482.8" rx="0.75" ry="0.65" fill="#a874f6"/><ellipse cx="223.8" cy="485.4" rx="1.65" ry="1.40" fill="#8c46e4"/><ellipse cx="223.8" cy="485.4" rx="0.75" ry="0.65" fill="#a874f6"/><ellipse cx="230.1" cy="484.5" rx="1.65" ry="1.40" fill="#8c46e4"/><ellipse cx="230.1" cy="484.5" rx="0.75" ry="0.65" fill="#a874f6"/><ellipse cx="233.2" cy="484.9" rx="1.65" ry="1.40" fill="#8c46e4"/><ellipse cx="233.2" cy="484.9" rx="0.75" ry="0.65" fill="#a874f6"/><ellipse cx="233.2" cy="490.4" rx="1.65" ry="1.40" fill="#8c46e4"/><ellipse cx="233.2" cy="490.4" rx="0.75" ry="0.65" fill="#a874f6"/><ellipse cx="235.5" cy="478.9" rx="1.65" ry="1.40" fill="#8c46e4"/><ellipse cx="235.5" cy="478.9" rx="0.75" ry="0.65" fill="#a874f6"/><ellipse cx="239.5" cy="468.4" rx="1.65" ry="1.40" fill="#8c46e4"/><ellipse cx="239.5" cy="468.4" rx="0.75" ry="0.65" fill="#a874f6"/><ellipse cx="238.7" cy="473.6" rx="1.65" ry="1.40" fill="#8c46e4"/><ellipse cx="238.7" cy="473.6" rx="0.75" ry="0.65" fill="#a874f6"/><ellipse cx="242.2" cy="475.4" rx="1.65" ry="1.40" fill="#8c46e4"/><ellipse cx="242.2" cy="475.4" rx="0.75" ry="0.65" fill="#a874f6"/><ellipse cx="245.6" cy="470.5" rx="1.65" ry="1.40" fill="#8c46e4"/><ellipse cx="245.6" cy="470.5" rx="0.75" ry="0.65" fill="#a874f6"/><ellipse cx="245.3" cy="476.5" rx="1.65" ry="1.40" fill="#8c46e4"/><ellipse cx="245.3" cy="476.5" rx="0.75" ry="0.65" fill="#a874f6"/><ellipse cx="245.9" cy="478.9" rx="1.65" ry="1.40" fill="#8c46e4"/><ellipse cx="245.9" cy="478.9" rx="0.75" ry="0.65" fill="#a874f6"/><ellipse cx="249.9" cy="476.1" rx="1.65" ry="1.40" fill="#8c46e4"/><ellipse cx="249.9" cy="476.1" rx="0.75" ry="0.65" fill="#a874f6"/><ellipse cx="249.5" cy="479.1" rx="1.65" ry="1.40" fill="#8c46e4"/><ellipse cx="249.5" cy="479.1" rx="0.75" ry="0.65" fill="#a874f6"/><ellipse cx="248.2" cy="483.1" rx="1.65" ry="1.40" fill="#8c46e4"/><ellipse cx="248.2" cy="483.1" rx="0.75" ry="0.65" fill="#a874f6"/><ellipse cx="267.9" cy="485.9" rx="1.65" ry="1.40" fill="#8c46e4"/><ellipse cx="267.9" cy="485.9" rx="0.75" ry="0.65" fill="#a874f6"/><ellipse cx="271.1" cy="487.7" rx="1.65" ry="1.40" fill="#8c46e4"/><ellipse cx="271.1" cy="487.7" rx="0.75" ry="0.65" fill="#a874f6"/><ellipse cx="274.5" cy="488.5" rx="1.65" ry="1.40" fill="#8c46e4"/><ellipse cx="274.5" cy="488.5" rx="0.75" ry="0.65" fill="#a874f6"/><ellipse cx="255.8" cy="492.8" rx="1.65" ry="1.40" fill="#8c46e4"/><ellipse cx="255.8" cy="492.8" rx="0.75" ry="0.65" fill="#a874f6"/><ellipse cx="259.5" cy="494.3" rx="1.65" ry="1.40" fill="#8c46e4"/><ellipse cx="259.5" cy="494.3" rx="0.75" ry="0.65" fill="#a874f6"/><ellipse cx="254.1" cy="497.2" rx="1.65" ry="1.40" fill="#8c46e4"/><ellipse cx="254.1" cy="497.2" rx="0.75" ry="0.65" fill="#a874f6"/><ellipse cx="261.6" cy="504.1" rx="1.65" ry="1.40" fill="#8c46e4"/><ellipse cx="261.6" cy="504.1" rx="0.75" ry="0.65" fill="#a874f6"/><ellipse cx="276.3" cy="501.2" rx="1.65" ry="1.40" fill="#8c46e4"/><ellipse cx="276.3" cy="501.2" rx="0.75" ry="0.65" fill="#a874f6"/><ellipse cx="306.0" cy="461.4" rx="1.55" ry="1.30" fill="#3a3cec"/><ellipse cx="306.0" cy="461.4" rx="0.75" ry="0.65" fill="#5a5cff"/><ellipse cx="295.9" cy="467.3" rx="1.65" ry="1.40" fill="#8a48e8"/><ellipse cx="295.9" cy="467.3" rx="0.75" ry="0.65" fill="#a878fa"/><ellipse cx="299.1" cy="466.7" rx="1.65" ry="1.40" fill="#8a48e8"/><ellipse cx="299.1" cy="466.7" rx="0.75" ry="0.65" fill="#a878fa"/><ellipse cx="302.2" cy="466.5" rx="1.55" ry="1.30" fill="#3a3cec"/><ellipse cx="302.2" cy="466.5" rx="0.75" ry="0.65" fill="#5a5cff"/><ellipse cx="321.5" cy="460.4" rx="1.55" ry="1.30" fill="#3a3cec"/><ellipse cx="321.5" cy="460.4" rx="0.75" ry="0.65" fill="#5a5cff"/><ellipse cx="325.7" cy="463.1" rx="1.55" ry="1.30" fill="#3a3cec"/><ellipse cx="325.7" cy="463.1" rx="0.75" ry="0.65" fill="#5a5cff"/><ellipse cx="332.3" cy="462.0" rx="1.55" ry="1.30" fill="#3a3cec"/><ellipse cx="332.3" cy="462.0" rx="0.75" ry="0.65" fill="#5a5cff"/><ellipse cx="316.2" cy="468.6" rx="1.55" ry="1.30" fill="#3a3cec"/><ellipse cx="316.2" cy="468.6" rx="0.75" ry="0.65" fill="#5a5cff"/><ellipse cx="335.9" cy="468.4" rx="1.55" ry="1.30" fill="#3a3cec"/><ellipse cx="335.9" cy="468.4" rx="0.75" ry="0.65" fill="#5a5cff"/><ellipse cx="341.8" cy="469.4" rx="1.55" ry="1.30" fill="#3a3cec"/><ellipse cx="341.8" cy="469.4" rx="0.75" ry="0.65" fill="#5a5cff"/><ellipse cx="347.5" cy="481.0" rx="1.55" ry="1.30" fill="#3a3cec"/><ellipse cx="347.5" cy="481.0" rx="0.75" ry="0.65" fill="#5a5cff"/><ellipse cx="328.1" cy="484.1" rx="1.55" ry="1.30" fill="#3a3cec"/><ellipse cx="328.1" cy="484.1" rx="0.75" ry="0.65" fill="#5a5cff"/><ellipse cx="332.7" cy="483.3" rx="1.55" ry="1.30" fill="#3a3cec"/><ellipse cx="332.7" cy="483.3" rx="0.75" ry="0.65" fill="#5a5cff"/><ellipse cx="325.4" cy="486.7" rx="1.55" ry="1.30" fill="#3a3cec"/><ellipse cx="325.4" cy="486.7" rx="0.75" ry="0.65" fill="#5a5cff"/><ellipse cx="320.7" cy="488.3" rx="1.55" ry="1.30" fill="#3a3cec"/><ellipse cx="320.7" cy="488.3" rx="0.75" ry="0.65" fill="#5a5cff"/><ellipse cx="334.8" cy="491.2" rx="1.55" ry="1.30" fill="#3a3cec"/><ellipse cx="334.8" cy="491.2" rx="0.75" ry="0.65" fill="#5a5cff"/><ellipse cx="333.1" cy="493.8" rx="1.65" ry="1.40" fill="#8a48e8"/><ellipse cx="333.1" cy="493.8" rx="0.75" ry="0.65" fill="#a878fa"/><ellipse cx="286.0" cy="488.5" rx="1.55" ry="1.30" fill="#3a3cec"/><ellipse cx="286.0" cy="488.5" rx="0.75" ry="0.65" fill="#5a5cff"/><ellipse cx="290.3" cy="490.4" rx="1.55" ry="1.30" fill="#3a3cec"/><ellipse cx="290.3" cy="490.4" rx="0.75" ry="0.65" fill="#5a5cff"/><ellipse cx="297.0" cy="490.1" rx="1.55" ry="1.30" fill="#3a3cec"/><ellipse cx="297.0" cy="490.1" rx="0.75" ry="0.65" fill="#5a5cff"/><ellipse cx="313.8" cy="493.8" rx="1.55" ry="1.30" fill="#3a3cec"/><ellipse cx="313.8" cy="493.8" rx="0.75" ry="0.65" fill="#5a5cff"/><ellipse cx="295.7" cy="497.2" rx="1.55" ry="1.30" fill="#3a3cec"/><ellipse cx="295.7" cy="497.2" rx="0.75" ry="0.65" fill="#5a5cff"/><ellipse cx="299.4" cy="496.1" rx="1.55" ry="1.30" fill="#3a3cec"/><ellipse cx="299.4" cy="496.1" rx="0.75" ry="0.65" fill="#5a5cff"/><ellipse cx="303.1" cy="498.9" rx="1.55" ry="1.30" fill="#3a3cec"/><ellipse cx="303.1" cy="498.9" rx="0.75" ry="0.65" fill="#5a5cff"/><ellipse cx="310.7" cy="502.0" rx="1.55" ry="1.30" fill="#3a3cec"/><ellipse cx="310.7" cy="502.0" rx="0.75" ry="0.65" fill="#5a5cff"/><ellipse cx="314.1" cy="500.3" rx="1.55" ry="1.30" fill="#3a3cec"/><ellipse cx="314.1" cy="500.3" rx="0.75" ry="0.65" fill="#5a5cff"/><ellipse cx="413.8" cy="459.3" rx="1.55" ry="1.30" fill="#3a3cec"/><ellipse cx="413.8" cy="459.3" rx="0.75" ry="0.65" fill="#5a5cff"/><ellipse cx="416.6" cy="461.2" rx="1.55" ry="1.30" fill="#3a3cec"/><ellipse cx="416.6" cy="461.2" rx="0.75" ry="0.65" fill="#5a5cff"/><ellipse cx="415.9" cy="464.6" rx="1.55" ry="1.30" fill="#6c46e2"/><ellipse cx="415.9" cy="464.6" rx="0.75" ry="0.65" fill="#8c70fa"/><ellipse cx="406.8" cy="464.4" rx="1.55" ry="1.30" fill="#6c46e2"/><ellipse cx="406.8" cy="464.4" rx="0.75" ry="0.65" fill="#8c70fa"/><ellipse cx="383.5" cy="469.8" rx="1.55" ry="1.30" fill="#3a3cec"/><ellipse cx="383.5" cy="469.8" rx="0.75" ry="0.65" fill="#5a5cff"/><ellipse cx="382.2" cy="472.2" rx="1.55" ry="1.30" fill="#3a3cec"/><ellipse cx="382.2" cy="472.2" rx="0.75" ry="0.65" fill="#5a5cff"/><ellipse cx="384.5" cy="475.1" rx="1.55" ry="1.30" fill="#3a3cec"/><ellipse cx="384.5" cy="475.1" rx="0.75" ry="0.65" fill="#5a5cff"/><ellipse cx="383.0" cy="480.3" rx="1.55" ry="1.30" fill="#3a3cec"/><ellipse cx="383.0" cy="480.3" rx="0.75" ry="0.65" fill="#5a5cff"/><ellipse cx="361.2" cy="473.6" rx="1.55" ry="1.30" fill="#3a3cec"/><ellipse cx="361.2" cy="473.6" rx="0.75" ry="0.65" fill="#5a5cff"/><ellipse cx="359.1" cy="475.7" rx="1.55" ry="1.30" fill="#6c46e2"/><ellipse cx="359.1" cy="475.7" rx="0.75" ry="0.65" fill="#8c70fa"/><ellipse cx="357.2" cy="477.5" rx="1.55" ry="1.30" fill="#3a3cec"/><ellipse cx="357.2" cy="477.5" rx="0.75" ry="0.65" fill="#5a5cff"/><ellipse cx="367.5" cy="476.8" rx="1.55" ry="1.30" fill="#3a3cec"/><ellipse cx="367.5" cy="476.8" rx="0.75" ry="0.65" fill="#5a5cff"/><ellipse cx="355.9" cy="482.0" rx="1.55" ry="1.30" fill="#6c46e2"/><ellipse cx="355.9" cy="482.0" rx="0.75" ry="0.65" fill="#8c70fa"/><ellipse cx="355.9" cy="484.5" rx="1.55" ry="1.30" fill="#6c46e2"/><ellipse cx="355.9" cy="484.5" rx="0.75" ry="0.65" fill="#8c70fa"/><ellipse cx="377.0" cy="482.2" rx="1.55" ry="1.30" fill="#6c46e2"/><ellipse cx="377.0" cy="482.2" rx="0.75" ry="0.65" fill="#8c70fa"/><ellipse cx="376.7" cy="485.2" rx="1.55" ry="1.30" fill="#3a3cec"/><ellipse cx="376.7" cy="485.2" rx="0.75" ry="0.65" fill="#5a5cff"/><ellipse cx="379.3" cy="485.2" rx="1.55" ry="1.30" fill="#3a3cec"/><ellipse cx="379.3" cy="485.2" rx="0.75" ry="0.65" fill="#5a5cff"/><ellipse cx="378.2" cy="488.3" rx="1.55" ry="1.30" fill="#3a3cec"/><ellipse cx="378.2" cy="488.3" rx="0.75" ry="0.65" fill="#5a5cff"/><ellipse cx="380.1" cy="489.4" rx="1.55" ry="1.30" fill="#6c46e2"/><ellipse cx="380.1" cy="489.4" rx="0.75" ry="0.65" fill="#8c70fa"/><ellipse cx="366.9" cy="488.5" rx="1.55" ry="1.30" fill="#3a3cec"/><ellipse cx="366.9" cy="488.5" rx="0.75" ry="0.65" fill="#5a5cff"/><ellipse cx="369.6" cy="493.0" rx="1.55" ry="1.30" fill="#6c46e2"/><ellipse cx="369.6" cy="493.0" rx="0.75" ry="0.65" fill="#8c70fa"/><ellipse cx="366.9" cy="501.0" rx="1.55" ry="1.30" fill="#3a3cec"/><ellipse cx="366.9" cy="501.0" rx="0.75" ry="0.65" fill="#5a5cff"/><ellipse cx="367.2" cy="503.3" rx="1.55" ry="1.30" fill="#3a3cec"/><ellipse cx="367.2" cy="503.3" rx="0.75" ry="0.65" fill="#5a5cff"/><ellipse cx="386.1" cy="493.8" rx="1.55" ry="1.30" fill="#3a3cec"/><ellipse cx="386.1" cy="493.8" rx="0.75" ry="0.65" fill="#5a5cff"/><ellipse cx="390.6" cy="491.5" rx="1.55" ry="1.30" fill="#3a3cec"/><ellipse cx="390.6" cy="491.5" rx="0.75" ry="0.65" fill="#5a5cff"/><ellipse cx="409.8" cy="484.1" rx="1.55" ry="1.30" fill="#3a3cec"/><ellipse cx="409.8" cy="484.1" rx="0.75" ry="0.65" fill="#5a5cff"/><ellipse cx="415.0" cy="481.4" rx="1.55" ry="1.30" fill="#3a3cec"/><ellipse cx="415.0" cy="481.4" rx="0.75" ry="0.65" fill="#5a5cff"/><ellipse cx="415.9" cy="483.8" rx="1.55" ry="1.30" fill="#3a3cec"/><ellipse cx="415.9" cy="483.8" rx="0.75" ry="0.65" fill="#5a5cff"/><ellipse cx="414.5" cy="488.0" rx="1.55" ry="1.30" fill="#3a3cec"/><ellipse cx="414.5" cy="488.0" rx="0.75" ry="0.65" fill="#5a5cff"/><ellipse cx="419.0" cy="487.3" rx="1.55" ry="1.30" fill="#3a3cec"/><ellipse cx="419.0" cy="487.3" rx="0.75" ry="0.65" fill="#5a5cff"/><ellipse cx="421.6" cy="489.4" rx="1.55" ry="1.30" fill="#3a3cec"/><ellipse cx="421.6" cy="489.4" rx="0.75" ry="0.65" fill="#5a5cff"/><ellipse cx="422.6" cy="490.9" rx="1.55" ry="1.30" fill="#3a3cec"/><ellipse cx="422.6" cy="490.9" rx="0.75" ry="0.65" fill="#5a5cff"/><ellipse cx="418.7" cy="492.8" rx="1.55" ry="1.30" fill="#6c46e2"/><ellipse cx="418.7" cy="492.8" rx="0.75" ry="0.65" fill="#8c70fa"/><ellipse cx="411.7" cy="497.8" rx="1.55" ry="1.30" fill="#3a3cec"/><ellipse cx="411.7" cy="497.8" rx="0.75" ry="0.65" fill="#5a5cff"/><ellipse cx="414.8" cy="499.6" rx="1.55" ry="1.30" fill="#3a3cec"/><ellipse cx="414.8" cy="499.6" rx="0.75" ry="0.65" fill="#5a5cff"/><ellipse cx="416.9" cy="496.7" rx="1.55" ry="1.30" fill="#3a3cec"/><ellipse cx="416.9" cy="496.7" rx="0.75" ry="0.65" fill="#5a5cff"/><ellipse cx="435.9" cy="459.6" rx="1.55" ry="1.30" fill="#3a3cec"/><ellipse cx="435.9" cy="459.6" rx="0.75" ry="0.65" fill="#5a5cff"/><ellipse cx="432.5" cy="464.6" rx="1.55" ry="1.30" fill="#3a3cec"/><ellipse cx="432.5" cy="464.6" rx="0.75" ry="0.65" fill="#5a5cff"/><ellipse cx="429.3" cy="467.5" rx="1.65" ry="1.40" fill="#8a48e8"/><ellipse cx="429.3" cy="467.5" rx="0.75" ry="0.65" fill="#a878fa"/><ellipse cx="467.5" cy="463.1" rx="1.65" ry="1.40" fill="#8a48e8"/><ellipse cx="467.5" cy="463.1" rx="0.75" ry="0.65" fill="#a878fa"/><ellipse cx="470.3" cy="461.7" rx="1.65" ry="1.40" fill="#8a48e8"/><ellipse cx="470.3" cy="461.7" rx="0.75" ry="0.65" fill="#a878fa"/><ellipse cx="473.1" cy="460.4" rx="1.65" ry="1.40" fill="#8a48e8"/><ellipse cx="473.1" cy="460.4" rx="0.75" ry="0.65" fill="#a878fa"/><ellipse cx="460.1" cy="467.3" rx="1.55" ry="1.30" fill="#3a3cec"/><ellipse cx="460.1" cy="467.3" rx="0.75" ry="0.65" fill="#5a5cff"/><ellipse cx="458.0" cy="470.5" rx="1.55" ry="1.30" fill="#3a3cec"/><ellipse cx="458.0" cy="470.5" rx="0.75" ry="0.65" fill="#5a5cff"/><ellipse cx="463.3" cy="468.0" rx="1.65" ry="1.40" fill="#8a48e8"/><ellipse cx="463.3" cy="468.0" rx="0.75" ry="0.65" fill="#a878fa"/><ellipse cx="466.4" cy="468.0" rx="1.65" ry="1.40" fill="#c050c8"/><ellipse cx="466.4" cy="468.0" rx="0.75" ry="0.65" fill="#e090e8"/><ellipse cx="474.1" cy="466.7" rx="1.65" ry="1.40" fill="#8a48e8"/><ellipse cx="474.1" cy="466.7" rx="0.75" ry="0.65" fill="#a878fa"/><ellipse cx="474.8" cy="468.8" rx="1.65" ry="1.40" fill="#8a48e8"/><ellipse cx="474.8" cy="468.8" rx="0.75" ry="0.65" fill="#a878fa"/><ellipse cx="473.3" cy="471.2" rx="1.65" ry="1.40" fill="#8a48e8"/><ellipse cx="473.3" cy="471.2" rx="0.75" ry="0.65" fill="#a878fa"/><ellipse cx="473.5" cy="473.6" rx="1.65" ry="1.40" fill="#8a48e8"/><ellipse cx="473.5" cy="473.6" rx="0.75" ry="0.65" fill="#a878fa"/><ellipse cx="488.5" cy="463.1" rx="1.55" ry="1.30" fill="#3a3cec"/><ellipse cx="488.5" cy="463.1" rx="0.75" ry="0.65" fill="#5a5cff"/><ellipse cx="495.9" cy="463.8" rx="1.55" ry="1.30" fill="#3a3cec"/><ellipse cx="495.9" cy="463.8" rx="0.75" ry="0.65" fill="#5a5cff"/><ellipse cx="492.0" cy="466.7" rx="1.55" ry="1.30" fill="#3a3cec"/><ellipse cx="492.0" cy="466.7" rx="0.75" ry="0.65" fill="#5a5cff"/><ellipse cx="487.8" cy="470.9" rx="1.55" ry="1.30" fill="#3a3cec"/><ellipse cx="487.8" cy="470.9" rx="0.75" ry="0.65" fill="#5a5cff"/><ellipse cx="494.8" cy="469.8" rx="1.55" ry="1.30" fill="#3a3cec"/><ellipse cx="494.8" cy="469.8" rx="0.75" ry="0.65" fill="#5a5cff"/><ellipse cx="493.2" cy="472.8" rx="1.55" ry="1.30" fill="#3a3cec"/><ellipse cx="493.2" cy="472.8" rx="0.75" ry="0.65" fill="#5a5cff"/><ellipse cx="491.4" cy="474.7" rx="1.55" ry="1.30" fill="#3a3cec"/><ellipse cx="491.4" cy="474.7" rx="0.75" ry="0.65" fill="#5a5cff"/><ellipse cx="444.7" cy="475.7" rx="1.55" ry="1.30" fill="#3a3cec"/><ellipse cx="444.7" cy="475.7" rx="0.75" ry="0.65" fill="#5a5cff"/><ellipse cx="443.8" cy="478.0" rx="1.55" ry="1.30" fill="#3a3cec"/><ellipse cx="443.8" cy="478.0" rx="0.75" ry="0.65" fill="#5a5cff"/><ellipse cx="439.6" cy="478.9" rx="1.65" ry="1.40" fill="#8a48e8"/><ellipse cx="439.6" cy="478.9" rx="0.75" ry="0.65" fill="#a878fa"/><ellipse cx="443.8" cy="482.4" rx="1.55" ry="1.30" fill="#3a3cec"/><ellipse cx="443.8" cy="482.4" rx="0.75" ry="0.65" fill="#5a5cff"/><ellipse cx="451.7" cy="480.7" rx="1.65" ry="1.40" fill="#8a48e8"/><ellipse cx="451.7" cy="480.7" rx="0.75" ry="0.65" fill="#a878fa"/><ellipse cx="454.5" cy="481.4" rx="1.65" ry="1.40" fill="#8a48e8"/><ellipse cx="454.5" cy="481.4" rx="0.75" ry="0.65" fill="#a878fa"/><ellipse cx="457.3" cy="483.1" rx="1.55" ry="1.30" fill="#3a3cec"/><ellipse cx="457.3" cy="483.1" rx="0.75" ry="0.65" fill="#5a5cff"/><ellipse cx="466.7" cy="488.3" rx="1.55" ry="1.30" fill="#3a3cec"/><ellipse cx="466.7" cy="488.3" rx="0.75" ry="0.65" fill="#5a5cff"/><ellipse cx="465.9" cy="491.9" rx="1.55" ry="1.30" fill="#3a3cec"/><ellipse cx="465.9" cy="491.9" rx="0.75" ry="0.65" fill="#5a5cff"/><ellipse cx="482.7" cy="486.7" rx="1.55" ry="1.30" fill="#3a3cec"/><ellipse cx="482.7" cy="486.7" rx="0.75" ry="0.65" fill="#5a5cff"/><ellipse cx="484.8" cy="488.5" rx="1.55" ry="1.30" fill="#3a3cec"/><ellipse cx="484.8" cy="488.5" rx="0.75" ry="0.65" fill="#5a5cff"/><ellipse cx="487.1" cy="490.1" rx="1.55" ry="1.30" fill="#3a3cec"/><ellipse cx="487.1" cy="490.1" rx="0.75" ry="0.65" fill="#5a5cff"/><ellipse cx="484.0" cy="492.5" rx="1.65" ry="1.40" fill="#8a48e8"/><ellipse cx="484.0" cy="492.5" rx="0.75" ry="0.65" fill="#a878fa"/><ellipse cx="449.9" cy="493.8" rx="1.65" ry="1.40" fill="#8a48e8"/><ellipse cx="449.9" cy="493.8" rx="0.75" ry="0.65" fill="#a878fa"/><ellipse cx="439.1" cy="497.5" rx="1.65" ry="1.40" fill="#8a48e8"/><ellipse cx="439.1" cy="497.5" rx="0.75" ry="0.65" fill="#a878fa"/><ellipse cx="449.6" cy="500.6" rx="1.55" ry="1.30" fill="#3a3cec"/><ellipse cx="449.6" cy="500.6" rx="0.75" ry="0.65" fill="#5a5cff"/><ellipse cx="454.9" cy="500.1" rx="1.55" ry="1.30" fill="#3a3cec"/><ellipse cx="454.9" cy="500.1" rx="0.75" ry="0.65" fill="#5a5cff"/><ellipse cx="457.7" cy="498.2" rx="1.65" ry="1.40" fill="#8a48e8"/><ellipse cx="457.7" cy="498.2" rx="0.75" ry="0.65" fill="#a878fa"/><ellipse cx="461.2" cy="498.0" rx="1.65" ry="1.40" fill="#8a48e8"/><ellipse cx="461.2" cy="498.0" rx="0.75" ry="0.65" fill="#a878fa"/><ellipse cx="464.0" cy="500.3" rx="1.55" ry="1.30" fill="#3a3cec"/><ellipse cx="464.0" cy="500.3" rx="0.75" ry="0.65" fill="#5a5cff"/><ellipse cx="459.1" cy="502.7" rx="1.65" ry="1.40" fill="#c050c8"/><ellipse cx="459.1" cy="502.7" rx="0.75" ry="0.65" fill="#e090e8"/><ellipse cx="461.5" cy="503.1" rx="1.65" ry="1.40" fill="#8a48e8"/><ellipse cx="461.5" cy="503.1" rx="0.75" ry="0.65" fill="#a878fa"/><ellipse cx="452.2" cy="503.3" rx="1.65" ry="1.40" fill="#8a48e8"/><ellipse cx="452.2" cy="503.3" rx="0.75" ry="0.65" fill="#a878fa"/><ellipse cx="471.0" cy="502.0" rx="1.55" ry="1.30" fill="#3a3cec"/><ellipse cx="471.0" cy="502.0" rx="0.75" ry="0.65" fill="#5a5cff"/><ellipse cx="530.0" cy="459.3" rx="1.55" ry="1.30" fill="#3a3cec"/><ellipse cx="530.0" cy="459.3" rx="0.75" ry="0.65" fill="#5a5cff"/><ellipse cx="528.6" cy="461.7" rx="1.55" ry="1.30" fill="#3a3cec"/><ellipse cx="528.6" cy="461.7" rx="0.75" ry="0.65" fill="#5a5cff"/><ellipse cx="508.2" cy="471.2" rx="1.55" ry="1.30" fill="#3a3cec"/><ellipse cx="508.2" cy="471.2" rx="0.75" ry="0.65" fill="#5a5cff"/><ellipse cx="512.8" cy="473.3" rx="1.55" ry="1.30" fill="#6c46e2"/><ellipse cx="512.8" cy="473.3" rx="0.75" ry="0.65" fill="#8c70fa"/><ellipse cx="508.4" cy="475.7" rx="1.55" ry="1.30" fill="#3a3cec"/><ellipse cx="508.4" cy="475.7" rx="0.75" ry="0.65" fill="#5a5cff"/><ellipse cx="517.7" cy="480.3" rx="1.55" ry="1.30" fill="#6c46e2"/><ellipse cx="517.7" cy="480.3" rx="0.75" ry="0.65" fill="#8c70fa"/><ellipse cx="521.0" cy="479.6" rx="1.55" ry="1.30" fill="#3a3cec"/><ellipse cx="521.0" cy="479.6" rx="0.75" ry="0.65" fill="#5a5cff"/><ellipse cx="524.4" cy="480.7" rx="1.55" ry="1.30" fill="#6c46e2"/><ellipse cx="524.4" cy="480.7" rx="0.75" ry="0.65" fill="#8c70fa"/><ellipse cx="519.5" cy="484.9" rx="1.55" ry="1.30" fill="#3a3cec"/><ellipse cx="519.5" cy="484.9" rx="0.75" ry="0.65" fill="#5a5cff"/><ellipse cx="518.9" cy="487.5" rx="1.55" ry="1.30" fill="#3a3cec"/><ellipse cx="518.9" cy="487.5" rx="0.75" ry="0.65" fill="#5a5cff"/><ellipse cx="526.1" cy="485.9" rx="1.55" ry="1.30" fill="#3a3cec"/><ellipse cx="526.1" cy="485.9" rx="0.75" ry="0.65" fill="#5a5cff"/><ellipse cx="536.3" cy="478.6" rx="1.55" ry="1.30" fill="#3a3cec"/><ellipse cx="536.3" cy="478.6" rx="0.75" ry="0.65" fill="#5a5cff"/><ellipse cx="539.1" cy="482.2" rx="1.55" ry="1.30" fill="#3a3cec"/><ellipse cx="539.1" cy="482.2" rx="0.75" ry="0.65" fill="#5a5cff"/><ellipse cx="539.1" cy="487.3" rx="1.55" ry="1.30" fill="#3a3cec"/><ellipse cx="539.1" cy="487.3" rx="0.75" ry="0.65" fill="#5a5cff"/><ellipse cx="543.6" cy="489.4" rx="1.55" ry="1.30" fill="#3a3cec"/><ellipse cx="543.6" cy="489.4" rx="0.75" ry="0.65" fill="#5a5cff"/><ellipse cx="545.4" cy="492.8" rx="1.55" ry="1.30" fill="#3a3cec"/><ellipse cx="545.4" cy="492.8" rx="0.75" ry="0.65" fill="#5a5cff"/><ellipse cx="549.9" cy="493.3" rx="1.55" ry="1.30" fill="#3a3cec"/><ellipse cx="549.9" cy="493.3" rx="0.75" ry="0.65" fill="#5a5cff"/><ellipse cx="566.0" cy="484.1" rx="1.55" ry="1.30" fill="#3a3cec"/><ellipse cx="566.0" cy="484.1" rx="0.75" ry="0.65" fill="#5a5cff"/><ellipse cx="569.2" cy="484.9" rx="1.55" ry="1.30" fill="#3a3cec"/><ellipse cx="569.2" cy="484.9" rx="0.75" ry="0.65" fill="#5a5cff"/><ellipse cx="564.4" cy="488.0" rx="1.55" ry="1.30" fill="#3a3cec"/><ellipse cx="564.4" cy="488.0" rx="0.75" ry="0.65" fill="#5a5cff"/><ellipse cx="567.1" cy="487.7" rx="1.55" ry="1.30" fill="#3a3cec"/><ellipse cx="567.1" cy="487.7" rx="0.75" ry="0.65" fill="#5a5cff"/><ellipse cx="503.7" cy="487.7" rx="1.55" ry="1.30" fill="#3a3cec"/><ellipse cx="503.7" cy="487.7" rx="0.75" ry="0.65" fill="#5a5cff"/><ellipse cx="504.4" cy="490.1" rx="1.55" ry="1.30" fill="#3a3cec"/><ellipse cx="504.4" cy="490.1" rx="0.75" ry="0.65" fill="#5a5cff"/><ellipse cx="507.2" cy="492.2" rx="1.55" ry="1.30" fill="#6c46e2"/><ellipse cx="507.2" cy="492.2" rx="0.75" ry="0.65" fill="#8c70fa"/><ellipse cx="511.0" cy="503.8" rx="1.55" ry="1.30" fill="#6c46e2"/><ellipse cx="511.0" cy="503.8" rx="0.75" ry="0.65" fill="#8c70fa"/><ellipse cx="514.5" cy="504.3" rx="1.55" ry="1.30" fill="#3a3cec"/><ellipse cx="514.5" cy="504.3" rx="0.75" ry="0.65" fill="#5a5cff"/><ellipse cx="578.8" cy="476.5" rx="1.65" ry="1.40" fill="#8c46e4"/><ellipse cx="578.8" cy="476.5" rx="0.75" ry="0.65" fill="#a874f6"/><ellipse cx="579.1" cy="482.0" rx="1.65" ry="1.40" fill="#8c46e4"/><ellipse cx="579.1" cy="482.0" rx="0.75" ry="0.65" fill="#a874f6"/><ellipse cx="574.6" cy="485.9" rx="1.65" ry="1.40" fill="#8c46e4"/><ellipse cx="574.6" cy="485.9" rx="0.75" ry="0.65" fill="#a874f6"/><ellipse cx="583.3" cy="485.2" rx="1.65" ry="1.40" fill="#8c46e4"/><ellipse cx="583.3" cy="485.2" rx="0.75" ry="0.65" fill="#a874f6"/><ellipse cx="578.8" cy="488.5" rx="1.65" ry="1.40" fill="#8c46e4"/><ellipse cx="578.8" cy="488.5" rx="0.75" ry="0.65" fill="#a874f6"/><ellipse cx="583.5" cy="490.4" rx="1.65" ry="1.40" fill="#8c46e4"/><ellipse cx="583.5" cy="490.4" rx="0.75" ry="0.65" fill="#a874f6"/><ellipse cx="586.1" cy="488.0" rx="1.65" ry="1.40" fill="#8c46e4"/><ellipse cx="586.1" cy="488.0" rx="0.75" ry="0.65" fill="#a874f6"/><ellipse cx="581.6" cy="494.6" rx="1.65" ry="1.40" fill="#8c46e4"/><ellipse cx="581.6" cy="494.6" rx="0.75" ry="0.65" fill="#a874f6"/><ellipse cx="585.4" cy="494.0" rx="1.65" ry="1.40" fill="#8c46e4"/><ellipse cx="585.4" cy="494.0" rx="0.75" ry="0.65" fill="#a874f6"/><ellipse cx="587.7" cy="492.8" rx="1.65" ry="1.40" fill="#8c46e4"/><ellipse cx="587.7" cy="492.8" rx="0.75" ry="0.65" fill="#a874f6"/><ellipse cx="592.1" cy="491.2" rx="1.65" ry="1.40" fill="#8c46e4"/><ellipse cx="592.1" cy="491.2" rx="0.75" ry="0.65" fill="#a874f6"/><ellipse cx="593.0" cy="487.3" rx="1.65" ry="1.40" fill="#8c46e4"/><ellipse cx="593.0" cy="487.3" rx="0.75" ry="0.65" fill="#a874f6"/><ellipse cx="594.6" cy="489.6" rx="1.65" ry="1.40" fill="#8c46e4"/><ellipse cx="594.6" cy="489.6" rx="0.75" ry="0.65" fill="#a874f6"/><ellipse cx="591.7" cy="494.3" rx="1.65" ry="1.40" fill="#8c46e4"/><ellipse cx="591.7" cy="494.3" rx="0.75" ry="0.65" fill="#a874f6"/><ellipse cx="595.1" cy="493.6" rx="1.65" ry="1.40" fill="#8c46e4"/><ellipse cx="595.1" cy="493.6" rx="0.75" ry="0.65" fill="#a874f6"/><ellipse cx="594.0" cy="496.1" rx="1.65" ry="1.40" fill="#c050c8"/><ellipse cx="594.0" cy="496.1" rx="0.75" ry="0.65" fill="#e090e8"/><ellipse cx="596.7" cy="496.4" rx="1.65" ry="1.40" fill="#8c46e4"/><ellipse cx="596.7" cy="496.4" rx="0.75" ry="0.65" fill="#a874f6"/><ellipse cx="584.6" cy="497.5" rx="1.65" ry="1.40" fill="#8c46e4"/><ellipse cx="584.6" cy="497.5" rx="0.75" ry="0.65" fill="#a874f6"/><ellipse cx="587.7" cy="497.5" rx="1.65" ry="1.40" fill="#8c46e4"/><ellipse cx="587.7" cy="497.5" rx="0.75" ry="0.65" fill="#a874f6"/><ellipse cx="586.7" cy="501.4" rx="1.65" ry="1.40" fill="#8c46e4"/><ellipse cx="586.7" cy="501.4" rx="0.75" ry="0.65" fill="#a874f6"/><ellipse cx="589.6" cy="502.0" rx="1.65" ry="1.40" fill="#8c46e4"/><ellipse cx="589.6" cy="502.0" rx="0.75" ry="0.65" fill="#a874f6"/><ellipse cx="594.6" cy="501.7" rx="1.65" ry="1.40" fill="#8c46e4"/><ellipse cx="594.6" cy="501.7" rx="0.75" ry="0.65" fill="#a874f6"/><ellipse cx="593.5" cy="476.1" rx="1.65" ry="1.40" fill="#8c46e4"/><ellipse cx="593.5" cy="476.1" rx="0.75" ry="0.65" fill="#a874f6"/><ellipse cx="601.2" cy="472.2" rx="1.65" ry="1.40" fill="#8c46e4"/><ellipse cx="601.2" cy="472.2" rx="0.75" ry="0.65" fill="#a874f6"/><ellipse cx="606.9" cy="472.2" rx="1.65" ry="1.40" fill="#8c46e4"/><ellipse cx="606.9" cy="472.2" rx="0.75" ry="0.65" fill="#a874f6"/><ellipse cx="609.3" cy="475.9" rx="1.65" ry="1.40" fill="#8c46e4"/><ellipse cx="609.3" cy="475.9" rx="0.75" ry="0.65" fill="#a874f6"/><ellipse cx="615.6" cy="481.7" rx="1.65" ry="1.40" fill="#8c46e4"/><ellipse cx="615.6" cy="481.7" rx="0.75" ry="0.65" fill="#a874f6"/><ellipse cx="619.3" cy="482.2" rx="1.65" ry="1.40" fill="#8c46e4"/><ellipse cx="619.3" cy="482.2" rx="0.75" ry="0.65" fill="#a874f6"/><ellipse cx="625.1" cy="478.0" rx="1.65" ry="1.40" fill="#8c46e4"/><ellipse cx="625.1" cy="478.0" rx="0.75" ry="0.65" fill="#a874f6"/><ellipse cx="621.9" cy="486.4" rx="1.65" ry="1.40" fill="#8c46e4"/><ellipse cx="621.9" cy="486.4" rx="0.75" ry="0.65" fill="#a874f6"/><ellipse cx="617.0" cy="487.0" rx="1.65" ry="1.40" fill="#8c46e4"/><ellipse cx="617.0" cy="487.0" rx="0.75" ry="0.65" fill="#a874f6"/><ellipse cx="615.1" cy="489.4" rx="1.65" ry="1.40" fill="#8c46e4"/><ellipse cx="615.1" cy="489.4" rx="0.75" ry="0.65" fill="#a874f6"/><ellipse cx="621.9" cy="491.7" rx="1.65" ry="1.40" fill="#c050c8"/><ellipse cx="621.9" cy="491.7" rx="0.75" ry="0.65" fill="#e090e8"/><ellipse cx="625.6" cy="491.7" rx="1.65" ry="1.40" fill="#8c46e4"/><ellipse cx="625.6" cy="491.7" rx="0.75" ry="0.65" fill="#a874f6"/><ellipse cx="629.3" cy="494.9" rx="1.65" ry="1.40" fill="#8c46e4"/><ellipse cx="629.3" cy="494.9" rx="0.75" ry="0.65" fill="#a874f6"/><ellipse cx="626.1" cy="496.7" rx="1.65" ry="1.40" fill="#8c46e4"/><ellipse cx="626.1" cy="496.7" rx="0.75" ry="0.65" fill="#a874f6"/><ellipse cx="616.1" cy="495.4" rx="1.65" ry="1.40" fill="#8c46e4"/><ellipse cx="616.1" cy="495.4" rx="0.75" ry="0.65" fill="#a874f6"/><ellipse cx="610.9" cy="497.5" rx="1.65" ry="1.40" fill="#8c46e4"/><ellipse cx="610.9" cy="497.5" rx="0.75" ry="0.65" fill="#a874f6"/><ellipse cx="627.7" cy="482.2" rx="1.65" ry="1.40" fill="#8c46e4"/><ellipse cx="627.7" cy="482.2" rx="0.75" ry="0.65" fill="#a874f6"/><ellipse cx="631.7" cy="484.5" rx="1.65" ry="1.40" fill="#8c46e4"/><ellipse cx="631.7" cy="484.5" rx="0.75" ry="0.65" fill="#a874f6"/><ellipse cx="632.4" cy="479.6" rx="1.65" ry="1.40" fill="#8c46e4"/><ellipse cx="632.4" cy="479.6" rx="0.75" ry="0.65" fill="#a874f6"/><ellipse cx="636.6" cy="474.7" rx="1.65" ry="1.40" fill="#8c46e4"/><ellipse cx="636.6" cy="474.7" rx="0.75" ry="0.65" fill="#a874f6"/><ellipse cx="629.8" cy="473.3" rx="1.65" ry="1.40" fill="#8c46e4"/><ellipse cx="629.8" cy="473.3" rx="0.75" ry="0.65" fill="#a874f6"/><ellipse cx="631.4" cy="470.1" rx="1.65" ry="1.40" fill="#8c46e4"/><ellipse cx="631.4" cy="470.1" rx="0.75" ry="0.65" fill="#a874f6"/><ellipse cx="620.8" cy="465.2" rx="1.65" ry="1.40" fill="#8c46e4"/><ellipse cx="620.8" cy="465.2" rx="0.75" ry="0.65" fill="#a874f6"/><ellipse cx="622.9" cy="464.2" rx="1.65" ry="1.40" fill="#8c46e4"/><ellipse cx="622.9" cy="464.2" rx="0.75" ry="0.65" fill="#a874f6"/><ellipse cx="626.1" cy="467.0" rx="1.65" ry="1.40" fill="#8c46e4"/><ellipse cx="626.1" cy="467.0" rx="0.75" ry="0.65" fill="#a874f6"/><ellipse cx="634.0" cy="459.9" rx="1.65" ry="1.40" fill="#8c46e4"/><ellipse cx="634.0" cy="459.9" rx="0.75" ry="0.65" fill="#a874f6"/><ellipse cx="634.0" cy="465.9" rx="1.65" ry="1.40" fill="#8c46e4"/><ellipse cx="634.0" cy="465.9" rx="0.75" ry="0.65" fill="#a874f6"/><ellipse cx="637.4" cy="466.3" rx="1.65" ry="1.40" fill="#8c46e4"/><ellipse cx="637.4" cy="466.3" rx="0.75" ry="0.65" fill="#a874f6"/><ellipse cx="639.5" cy="462.3" rx="1.65" ry="1.40" fill="#8c46e4"/><ellipse cx="639.5" cy="462.3" rx="0.75" ry="0.65" fill="#a874f6"/></g></g>
<rect x="133.0" y="356" width="2" height="150.5" fill="#828282"/>
<rect x="206.5" y="356" width="2" height="150.5" fill="#828282"/>
<rect x="279.0" y="356" width="2" height="150.5" fill="#828282"/>
<rect x="351.5" y="356" width="2" height="150.5" fill="#828282"/>
<rect x="425.0" y="356" width="2" height="150.5" fill="#828282"/>
<rect x="498.0" y="356" width="2" height="150.5" fill="#828282"/>
<rect x="571.0" y="356" width="2" height="150.5" fill="#828282"/>
<rect x="61.5" y="404.5" width="582" height="1.7" fill="#e6e6e6"/>
<rect x="61.5" y="455.8" width="582" height="1.7" fill="#e6e6e6"/>
<rect x="62.9" y="503" width="8.1" height="1.6" fill="#fff"/>
<text x="98.6" y="351.2" text-anchor="middle" font-size="10.3">CT4</text>
<text x="174.1" y="351.2" text-anchor="middle" font-size="10.3">CT8</text>
<text x="247.7" y="351.2" text-anchor="middle" font-size="10.3">CT12</text>
<text x="320.7" y="351.2" text-anchor="middle" font-size="10.3">CT16</text>
<text x="389.9" y="351.2" text-anchor="middle" font-size="10.3">CT20</text>
<text x="464.1" y="351.2" text-anchor="middle" font-size="10.3">CT24</text>
<text x="535.3" y="351.2" text-anchor="middle" font-size="10.3">CT28</text>
<text x="612.0" y="351.2" text-anchor="middle" font-size="10.3">CT32</text>
<text transform="translate(57.0 380.3) rotate(-90)" text-anchor="middle" font-size="10">DMSO</text>
<text transform="translate(57.0 431.0) rotate(-90)" text-anchor="middle" font-size="10">S8701R</text>
<text transform="translate(57.0 482.0) rotate(-90)" text-anchor="middle" font-size="10">Gala-SR</text>
<text x="0" y="10.5" font-size="14.5" font-weight="bold">a</text>
<text x="242.2" y="10.2" font-size="14.5" font-weight="bold">b</text>
<text x="477.8" y="10.4" font-size="14.5" font-weight="bold">c</text>
<text x="47.5" y="346.8" font-size="14.5" font-weight="bold">d</text>
</svg>
</body></html>
